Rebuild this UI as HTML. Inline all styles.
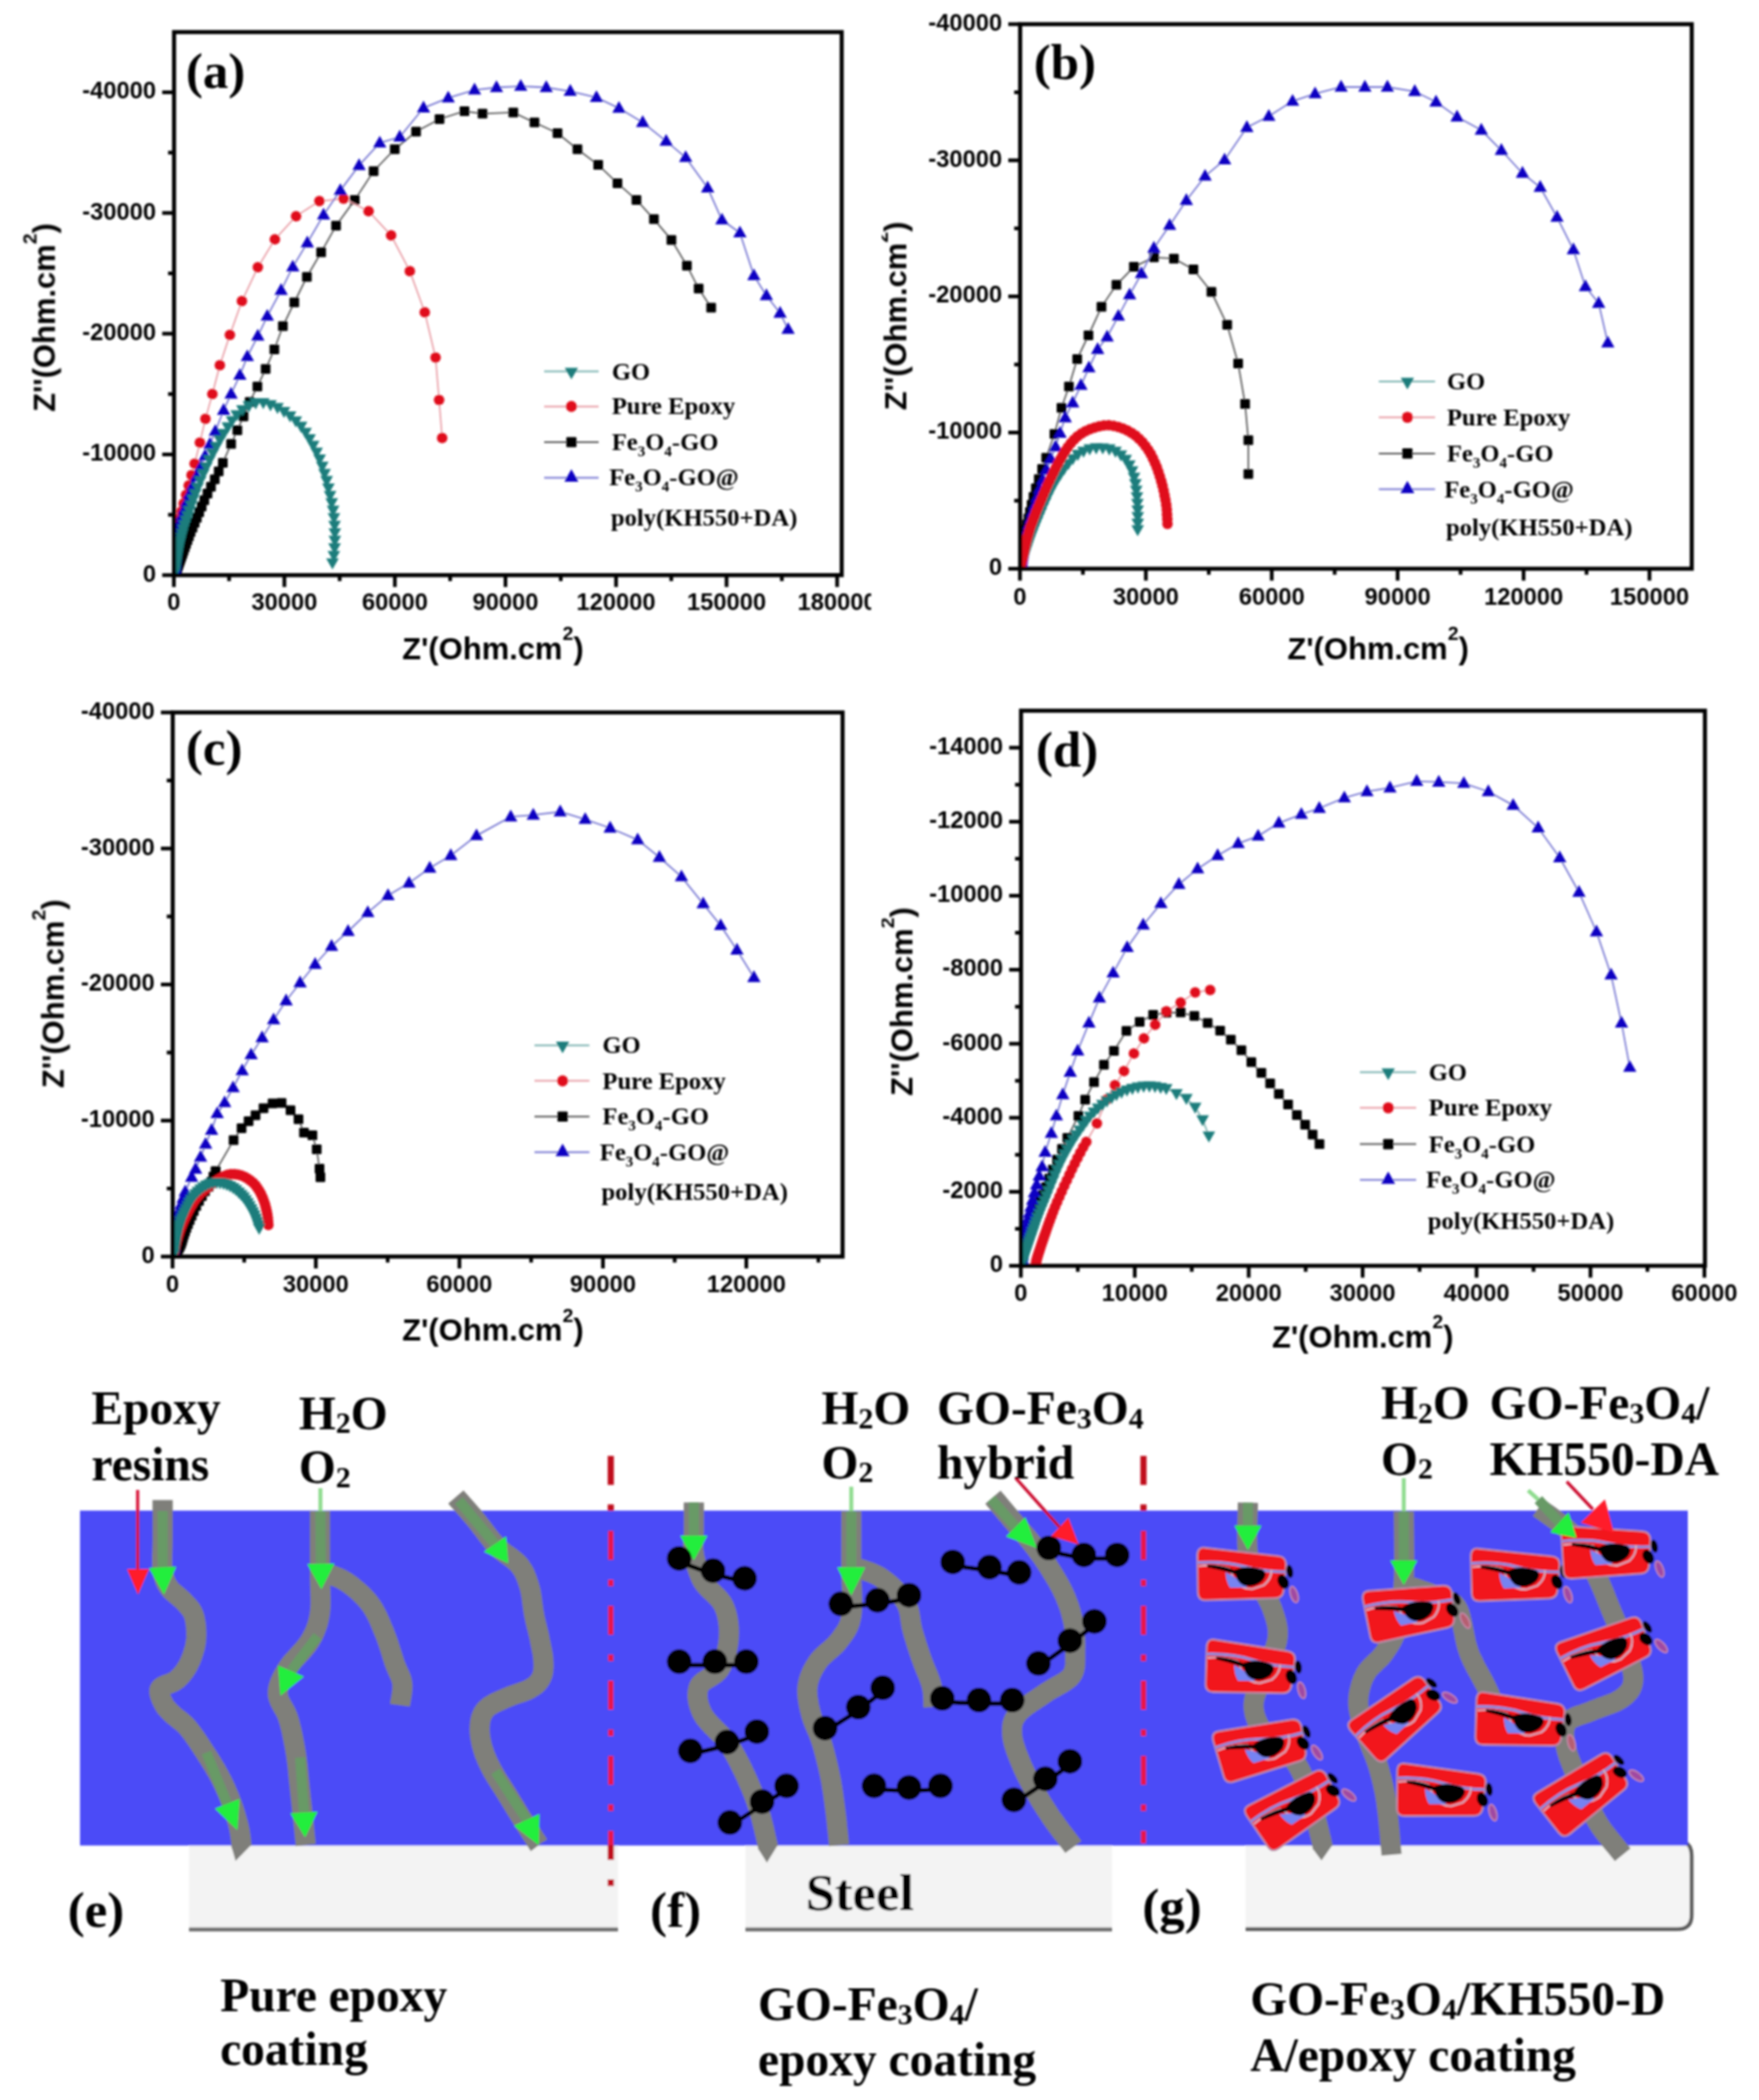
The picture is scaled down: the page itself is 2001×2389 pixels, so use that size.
<!DOCTYPE html><html><head><meta charset="utf-8"><title>Figure</title><style>html,body{margin:0;padding:0;background:#fff}svg{display:block}</style></head><body><svg width="2001" height="2389" viewBox="0 0 2001 2389">
<defs><clipPath id="clipA"><rect x="0" y="0" width="991" height="790"/></clipPath><clipPath id="clipB"><rect x="1003" y="0" width="998" height="790"/></clipPath><clipPath id="clipD"><rect x="1003" y="790" width="998" height="770"/></clipPath><filter id="soft" x="-2%" y="-2%" width="104%" height="104%"><feGaussianBlur stdDeviation="0.9"/></filter></defs>
<rect width="2001" height="2389" fill="#fff"/>
<g filter="url(#soft)">
<g clip-path="url(#clipA)">
<clipPath id="pca"><rect x="197" y="36.5" width="760.5" height="619.3"/></clipPath>
<g clip-path="url(#pca)">
<path d="M199.5 652.5L200.2 650.6L200.9 648.6L201.6 646.4L202.5 644.1L203.3 641.7L204.3 639L205.3 636.2L206.4 633.2L207.6 629.9L208.8 626.5L210.2 622.8L211.6 618.8L213.2 614.6L214.9 610.1L216.8 605.3L219 600.3L221.4 594.8L223.9 589.1L226.6 582.8L229.4 576.2L232.4 569.1L236 561.6L240 553.7L244.3 545.2L248.8 536.2L253.5 526.4L262.9 505.1L270 489.4L277 473.8L284 457.3L292.8 439.7L302.2 419.8L312.1 397.5L321.8 371L334.8 344L349.1 315L365.3 287.1L382.3 256.7L403.6 227.4L425 194.7L449.1 169.7L473.3 149.8L500 135.5L528.4 126.5L548.9 129.3L583.9 127.9L608 139.3L634.2 151.5L656.9 169.7L680.5 187.6L702.4 208.4L724 227.4L743.9 249.3L763.8 272.9L781.4 302.2L794.8 328.3L809 350" fill="none" stroke="#5e5e5e" stroke-width="1.8"/>
<g><rect x="194" y="647" width="11" height="11" rx="1.2" fill="#050505"/><rect x="194.7" y="645.1" width="11" height="11" rx="1.2" fill="#050505"/><rect x="195.4" y="643.1" width="11" height="11" rx="1.2" fill="#050505"/><rect x="196.1" y="640.9" width="11" height="11" rx="1.2" fill="#050505"/><rect x="197" y="638.6" width="11" height="11" rx="1.2" fill="#050505"/><rect x="197.8" y="636.2" width="11" height="11" rx="1.2" fill="#050505"/><rect x="198.8" y="633.5" width="11" height="11" rx="1.2" fill="#050505"/><rect x="199.8" y="630.7" width="11" height="11" rx="1.2" fill="#050505"/><rect x="200.9" y="627.7" width="11" height="11" rx="1.2" fill="#050505"/><rect x="202.1" y="624.4" width="11" height="11" rx="1.2" fill="#050505"/><rect x="203.3" y="621" width="11" height="11" rx="1.2" fill="#050505"/><rect x="204.7" y="617.3" width="11" height="11" rx="1.2" fill="#050505"/><rect x="206.1" y="613.3" width="11" height="11" rx="1.2" fill="#050505"/><rect x="207.7" y="609.1" width="11" height="11" rx="1.2" fill="#050505"/><rect x="209.4" y="604.6" width="11" height="11" rx="1.2" fill="#050505"/><rect x="211.3" y="599.8" width="11" height="11" rx="1.2" fill="#050505"/><rect x="213.5" y="594.8" width="11" height="11" rx="1.2" fill="#050505"/><rect x="215.9" y="589.3" width="11" height="11" rx="1.2" fill="#050505"/><rect x="218.4" y="583.6" width="11" height="11" rx="1.2" fill="#050505"/><rect x="221.1" y="577.3" width="11" height="11" rx="1.2" fill="#050505"/><rect x="223.9" y="570.7" width="11" height="11" rx="1.2" fill="#050505"/><rect x="226.9" y="563.6" width="11" height="11" rx="1.2" fill="#050505"/><rect x="230.5" y="556.1" width="11" height="11" rx="1.2" fill="#050505"/><rect x="234.5" y="548.2" width="11" height="11" rx="1.2" fill="#050505"/><rect x="238.8" y="539.7" width="11" height="11" rx="1.2" fill="#050505"/><rect x="243.3" y="530.7" width="11" height="11" rx="1.2" fill="#050505"/><rect x="248" y="520.9" width="11" height="11" rx="1.2" fill="#050505"/><rect x="257.4" y="499.6" width="11" height="11" rx="1.2" fill="#050505"/><rect x="264.5" y="483.9" width="11" height="11" rx="1.2" fill="#050505"/><rect x="271.5" y="468.3" width="11" height="11" rx="1.2" fill="#050505"/><rect x="278.5" y="451.8" width="11" height="11" rx="1.2" fill="#050505"/><rect x="287.3" y="434.2" width="11" height="11" rx="1.2" fill="#050505"/><rect x="296.7" y="414.3" width="11" height="11" rx="1.2" fill="#050505"/><rect x="306.6" y="392" width="11" height="11" rx="1.2" fill="#050505"/><rect x="316.3" y="365.5" width="11" height="11" rx="1.2" fill="#050505"/><rect x="329.3" y="338.5" width="11" height="11" rx="1.2" fill="#050505"/><rect x="343.6" y="309.5" width="11" height="11" rx="1.2" fill="#050505"/><rect x="359.8" y="281.6" width="11" height="11" rx="1.2" fill="#050505"/><rect x="376.8" y="251.2" width="11" height="11" rx="1.2" fill="#050505"/><rect x="398.1" y="221.9" width="11" height="11" rx="1.2" fill="#050505"/><rect x="419.5" y="189.2" width="11" height="11" rx="1.2" fill="#050505"/><rect x="443.6" y="164.2" width="11" height="11" rx="1.2" fill="#050505"/><rect x="467.8" y="144.3" width="11" height="11" rx="1.2" fill="#050505"/><rect x="494.5" y="130" width="11" height="11" rx="1.2" fill="#050505"/><rect x="522.9" y="121" width="11" height="11" rx="1.2" fill="#050505"/><rect x="543.4" y="123.8" width="11" height="11" rx="1.2" fill="#050505"/><rect x="578.4" y="122.4" width="11" height="11" rx="1.2" fill="#050505"/><rect x="602.5" y="133.8" width="11" height="11" rx="1.2" fill="#050505"/><rect x="628.7" y="146" width="11" height="11" rx="1.2" fill="#050505"/><rect x="651.4" y="164.2" width="11" height="11" rx="1.2" fill="#050505"/><rect x="675" y="182.1" width="11" height="11" rx="1.2" fill="#050505"/><rect x="696.9" y="202.9" width="11" height="11" rx="1.2" fill="#050505"/><rect x="718.5" y="221.9" width="11" height="11" rx="1.2" fill="#050505"/><rect x="738.4" y="243.8" width="11" height="11" rx="1.2" fill="#050505"/><rect x="758.3" y="267.4" width="11" height="11" rx="1.2" fill="#050505"/><rect x="775.9" y="296.7" width="11" height="11" rx="1.2" fill="#050505"/><rect x="789.3" y="322.8" width="11" height="11" rx="1.2" fill="#050505"/><rect x="803.5" y="344.5" width="11" height="11" rx="1.2" fill="#050505"/></g>
<path d="M198.1 652.9L198.2 650.9L198.3 648.7L198.5 646.3L198.6 643.6L198.7 640.7L198.9 637.5L199.1 634L199.3 630.1L199.6 625.8L199.9 621.1L200.4 615.9L201.1 610.2L202 604L203.3 597.3L204.8 589.8L206.6 581.7L208.9 572.8L211.6 563L214.7 552.3L217.9 540.5L221.4 527.5L227.4 503.6L233.7 476.6L241.6 448.2L250.1 415.5L261.5 381L275.2 342.5L293.3 304.1L312.7 272.3L336.8 245.9L363.3 228.8L390.8 226L419.3 240.2L444.9 267.8L466.2 308.4L483.2 355.3L495.5 406.8L499.5 455L503 498.3" fill="none" stroke="#eaa0a8" stroke-width="1.8"/>
<g><circle cx="198.1" cy="652.9" r="6" fill="#e0101e"/><circle cx="198.2" cy="650.9" r="6" fill="#e0101e"/><circle cx="198.3" cy="648.7" r="6" fill="#e0101e"/><circle cx="198.5" cy="646.3" r="6" fill="#e0101e"/><circle cx="198.6" cy="643.6" r="6" fill="#e0101e"/><circle cx="198.7" cy="640.7" r="6" fill="#e0101e"/><circle cx="198.9" cy="637.5" r="6" fill="#e0101e"/><circle cx="199.1" cy="634" r="6" fill="#e0101e"/><circle cx="199.3" cy="630.1" r="6" fill="#e0101e"/><circle cx="199.6" cy="625.8" r="6" fill="#e0101e"/><circle cx="199.9" cy="621.1" r="6" fill="#e0101e"/><circle cx="200.4" cy="615.9" r="6" fill="#e0101e"/><circle cx="201.1" cy="610.2" r="6" fill="#e0101e"/><circle cx="202" cy="604" r="6" fill="#e0101e"/><circle cx="203.3" cy="597.3" r="6" fill="#e0101e"/><circle cx="204.8" cy="589.8" r="6" fill="#e0101e"/><circle cx="206.6" cy="581.7" r="6" fill="#e0101e"/><circle cx="208.9" cy="572.8" r="6" fill="#e0101e"/><circle cx="211.6" cy="563" r="6" fill="#e0101e"/><circle cx="214.7" cy="552.3" r="6" fill="#e0101e"/><circle cx="217.9" cy="540.5" r="6" fill="#e0101e"/><circle cx="221.4" cy="527.5" r="6" fill="#e0101e"/><circle cx="227.4" cy="503.6" r="6" fill="#e0101e"/><circle cx="233.7" cy="476.6" r="6" fill="#e0101e"/><circle cx="241.6" cy="448.2" r="6" fill="#e0101e"/><circle cx="250.1" cy="415.5" r="6" fill="#e0101e"/><circle cx="261.5" cy="381" r="6" fill="#e0101e"/><circle cx="275.2" cy="342.5" r="6" fill="#e0101e"/><circle cx="293.3" cy="304.1" r="6" fill="#e0101e"/><circle cx="312.7" cy="272.3" r="6" fill="#e0101e"/><circle cx="336.8" cy="245.9" r="6" fill="#e0101e"/><circle cx="363.3" cy="228.8" r="6" fill="#e0101e"/><circle cx="390.8" cy="226" r="6" fill="#e0101e"/><circle cx="419.3" cy="240.2" r="6" fill="#e0101e"/><circle cx="444.9" cy="267.8" r="6" fill="#e0101e"/><circle cx="466.2" cy="308.4" r="6" fill="#e0101e"/><circle cx="483.2" cy="355.3" r="6" fill="#e0101e"/><circle cx="495.5" cy="406.8" r="6" fill="#e0101e"/><circle cx="499.5" cy="455" r="6" fill="#e0101e"/><circle cx="503" cy="498.3" r="6" fill="#e0101e"/></g>
<path d="M198.3 652L198.4 650L198.5 647.8L198.7 645.5L198.8 642.9L199 640.1L199.2 637L199.4 633.6L199.6 630L200 626L200.4 621.7L201 617L201.7 611.9L202.6 606.3L203.7 600.3L205.3 593.8L207.3 586.8L209.8 579.3L212.5 571.1L215.6 562.1L219.3 552.5L223.6 542.2L228.4 531L233.4 518.6L238.9 505.2L245 490.6L254.4 466.7L262.9 448.2L272.9 426.9L281.4 405.6L293.3 382.3L304.1 359.6L319.8 330.3L333.1 303.6L349.6 276.3L368.1 244.5L387.2 216.6L408.5 188.2L432 162.6L454.8 155.8L481.8 122.8L509.9 111.4L539.8 102.3L564.8 99.5L592.4 98.1L621.4 99.5L648.7 103.8L678.5 110.9L704.1 123.1L731.1 139.3L757.8 160.6L780 179.1L805 213.8L821.2 250.1L841.7 264.9L857.6 313.5L871.8 336.3L887.4 356.2L896.5 374.6" fill="none" stroke="#7c7cd4" stroke-width="1.8"/>
<g><path d="M198.3 643.8L205.9 657.2L190.7 657.2Z" fill="#1006c2"/><path d="M198.4 641.8L206 655.2L190.8 655.2Z" fill="#1006c2"/><path d="M198.5 639.6L206.1 653L190.9 653Z" fill="#1006c2"/><path d="M198.7 637.3L206.3 650.7L191.1 650.7Z" fill="#1006c2"/><path d="M198.8 634.7L206.4 648.1L191.2 648.1Z" fill="#1006c2"/><path d="M199 631.9L206.6 645.3L191.4 645.3Z" fill="#1006c2"/><path d="M199.2 628.8L206.8 642.2L191.6 642.2Z" fill="#1006c2"/><path d="M199.4 625.4L207 638.8L191.8 638.8Z" fill="#1006c2"/><path d="M199.6 621.8L207.2 635.2L192 635.2Z" fill="#1006c2"/><path d="M200 617.8L207.6 631.2L192.4 631.2Z" fill="#1006c2"/><path d="M200.4 613.5L208 626.9L192.8 626.9Z" fill="#1006c2"/><path d="M201 608.8L208.6 622.2L193.4 622.2Z" fill="#1006c2"/><path d="M201.7 603.7L209.3 617.1L194.1 617.1Z" fill="#1006c2"/><path d="M202.6 598.1L210.2 611.5L195 611.5Z" fill="#1006c2"/><path d="M203.7 592.1L211.3 605.5L196.1 605.5Z" fill="#1006c2"/><path d="M205.3 585.6L212.9 599L197.7 599Z" fill="#1006c2"/><path d="M207.3 578.6L214.9 592L199.7 592Z" fill="#1006c2"/><path d="M209.8 571.1L217.4 584.5L202.2 584.5Z" fill="#1006c2"/><path d="M212.5 562.9L220.1 576.3L204.9 576.3Z" fill="#1006c2"/><path d="M215.6 553.9L223.2 567.3L208 567.3Z" fill="#1006c2"/><path d="M219.3 544.3L226.9 557.7L211.7 557.7Z" fill="#1006c2"/><path d="M223.6 534L231.2 547.4L216 547.4Z" fill="#1006c2"/><path d="M228.4 522.8L236 536.2L220.8 536.2Z" fill="#1006c2"/><path d="M233.4 510.4L241 523.8L225.8 523.8Z" fill="#1006c2"/><path d="M238.9 497L246.5 510.4L231.3 510.4Z" fill="#1006c2"/><path d="M245 482.4L252.6 495.8L237.4 495.8Z" fill="#1006c2"/><path d="M254.4 458.5L262 471.9L246.8 471.9Z" fill="#1006c2"/><path d="M262.9 440L270.5 453.4L255.3 453.4Z" fill="#1006c2"/><path d="M272.9 418.7L280.5 432.1L265.3 432.1Z" fill="#1006c2"/><path d="M281.4 397.4L289 410.8L273.8 410.8Z" fill="#1006c2"/><path d="M293.3 374.1L300.9 387.5L285.7 387.5Z" fill="#1006c2"/><path d="M304.1 351.4L311.7 364.8L296.5 364.8Z" fill="#1006c2"/><path d="M319.8 322.1L327.4 335.5L312.2 335.5Z" fill="#1006c2"/><path d="M333.1 295.4L340.7 308.8L325.5 308.8Z" fill="#1006c2"/><path d="M349.6 268.1L357.2 281.5L342 281.5Z" fill="#1006c2"/><path d="M368.1 236.3L375.7 249.7L360.5 249.7Z" fill="#1006c2"/><path d="M387.2 208.4L394.8 221.8L379.6 221.8Z" fill="#1006c2"/><path d="M408.5 180L416.1 193.4L400.9 193.4Z" fill="#1006c2"/><path d="M432 154.4L439.6 167.8L424.4 167.8Z" fill="#1006c2"/><path d="M454.8 147.6L462.4 161L447.2 161Z" fill="#1006c2"/><path d="M481.8 114.6L489.4 128L474.2 128Z" fill="#1006c2"/><path d="M509.9 103.2L517.5 116.6L502.3 116.6Z" fill="#1006c2"/><path d="M539.8 94.1L547.4 107.5L532.2 107.5Z" fill="#1006c2"/><path d="M564.8 91.3L572.4 104.7L557.2 104.7Z" fill="#1006c2"/><path d="M592.4 89.9L600 103.3L584.8 103.3Z" fill="#1006c2"/><path d="M621.4 91.3L629 104.7L613.8 104.7Z" fill="#1006c2"/><path d="M648.7 95.6L656.3 109L641.1 109Z" fill="#1006c2"/><path d="M678.5 102.7L686.1 116.1L670.9 116.1Z" fill="#1006c2"/><path d="M704.1 114.9L711.7 128.3L696.5 128.3Z" fill="#1006c2"/><path d="M731.1 131.1L738.7 144.5L723.5 144.5Z" fill="#1006c2"/><path d="M757.8 152.4L765.4 165.8L750.2 165.8Z" fill="#1006c2"/><path d="M780 170.9L787.6 184.3L772.4 184.3Z" fill="#1006c2"/><path d="M805 205.6L812.6 219L797.4 219Z" fill="#1006c2"/><path d="M821.2 241.9L828.8 255.3L813.6 255.3Z" fill="#1006c2"/><path d="M841.7 256.7L849.3 270.1L834.1 270.1Z" fill="#1006c2"/><path d="M857.6 305.3L865.2 318.7L850 318.7Z" fill="#1006c2"/><path d="M871.8 328.1L879.4 341.5L864.2 341.5Z" fill="#1006c2"/><path d="M887.4 348L895 361.4L879.8 361.4Z" fill="#1006c2"/><path d="M896.5 366.4L904.1 379.8L888.9 379.8Z" fill="#1006c2"/></g>
<path d="M198 652L198.3 650L198.7 647.9L199.1 645.7L199.5 643.4L199.9 640.9L200.3 638.2L200.8 635.4L201.3 632.5L201.9 629.4L202.5 626L203.2 622.5L204.1 618.8L205 614.9L206.1 610.8L207.3 606.4L208.6 601.8L210.1 597L211.8 591.8L213.5 586.4L215.4 580.7L217.5 574.6L219.7 568.1L222.1 561.4L224.8 554.2L227.8 546.7L231.2 538.8L234.7 530.9L238.3 523.1L242.1 515.4L246.1 507.8L250.2 500.3L254.6 492.9L259.2 485.6L264 478.5L269.3 471.7L275.8 466L283.1 461.6L290.9 458.1L299.5 457.9L307.7 460.3L315.7 463.5L323.1 467.9L330 473L336.5 478.7L342.5 484.8L347.6 491.7L352.1 499.1L356.3 506.6L360.2 514.2L363.6 522.1L366.6 530.2L369.2 538.4L371.6 546.6L373.6 555L375.5 563.4L377.3 571.8L378.9 580.3L379.9 588.8L380.6 597.4L380.9 606L380.9 614.6L380.6 623.1L379.8 631.7L378.2 640.2" fill="none" stroke="#7fb5b3" stroke-width="1.8"/>
<g><path d="M198 659.6L205.2 647L190.8 647Z" fill="#1b7d7b"/><path d="M198.3 657.6L205.5 645L191.1 645Z" fill="#1b7d7b"/><path d="M198.7 655.5L205.9 642.9L191.5 642.9Z" fill="#1b7d7b"/><path d="M199.1 653.3L206.3 640.7L191.9 640.7Z" fill="#1b7d7b"/><path d="M199.5 651L206.7 638.4L192.3 638.4Z" fill="#1b7d7b"/><path d="M199.9 648.5L207.1 635.9L192.7 635.9Z" fill="#1b7d7b"/><path d="M200.3 645.8L207.5 633.2L193.1 633.2Z" fill="#1b7d7b"/><path d="M200.8 643L208 630.4L193.6 630.4Z" fill="#1b7d7b"/><path d="M201.3 640.1L208.5 627.5L194.1 627.5Z" fill="#1b7d7b"/><path d="M201.9 637L209.1 624.4L194.7 624.4Z" fill="#1b7d7b"/><path d="M202.5 633.6L209.7 621L195.3 621Z" fill="#1b7d7b"/><path d="M203.2 630.1L210.4 617.5L196 617.5Z" fill="#1b7d7b"/><path d="M204.1 626.4L211.3 613.8L196.9 613.8Z" fill="#1b7d7b"/><path d="M205 622.5L212.2 609.9L197.8 609.9Z" fill="#1b7d7b"/><path d="M206.1 618.4L213.3 605.8L198.9 605.8Z" fill="#1b7d7b"/><path d="M207.3 614L214.5 601.4L200.1 601.4Z" fill="#1b7d7b"/><path d="M208.6 609.4L215.8 596.8L201.4 596.8Z" fill="#1b7d7b"/><path d="M210.1 604.6L217.3 592L202.9 592Z" fill="#1b7d7b"/><path d="M211.8 599.4L219 586.8L204.6 586.8Z" fill="#1b7d7b"/><path d="M213.5 594L220.7 581.4L206.3 581.4Z" fill="#1b7d7b"/><path d="M215.4 588.3L222.6 575.7L208.2 575.7Z" fill="#1b7d7b"/><path d="M217.5 582.2L224.7 569.6L210.3 569.6Z" fill="#1b7d7b"/><path d="M219.7 575.7L226.9 563.1L212.5 563.1Z" fill="#1b7d7b"/><path d="M222.1 569L229.3 556.4L214.9 556.4Z" fill="#1b7d7b"/><path d="M224.8 561.8L232 549.2L217.6 549.2Z" fill="#1b7d7b"/><path d="M227.8 554.3L235 541.7L220.6 541.7Z" fill="#1b7d7b"/><path d="M231.2 546.4L238.4 533.8L224 533.8Z" fill="#1b7d7b"/><path d="M234.7 538.5L241.9 525.9L227.5 525.9Z" fill="#1b7d7b"/><path d="M238.3 530.7L245.5 518.1L231.1 518.1Z" fill="#1b7d7b"/><path d="M242.1 523L249.3 510.4L234.9 510.4Z" fill="#1b7d7b"/><path d="M246.1 515.4L253.3 502.8L238.9 502.8Z" fill="#1b7d7b"/><path d="M250.2 507.9L257.4 495.3L243 495.3Z" fill="#1b7d7b"/><path d="M254.6 500.5L261.8 487.9L247.4 487.9Z" fill="#1b7d7b"/><path d="M259.2 493.2L266.4 480.6L252 480.6Z" fill="#1b7d7b"/><path d="M264 486.1L271.2 473.5L256.8 473.5Z" fill="#1b7d7b"/><path d="M269.3 479.3L276.5 466.7L262.1 466.7Z" fill="#1b7d7b"/><path d="M275.8 473.6L283 461L268.6 461Z" fill="#1b7d7b"/><path d="M283.1 469.2L290.3 456.6L275.9 456.6Z" fill="#1b7d7b"/><path d="M290.9 465.7L298.1 453.1L283.7 453.1Z" fill="#1b7d7b"/><path d="M299.5 465.5L306.7 452.9L292.3 452.9Z" fill="#1b7d7b"/><path d="M307.7 467.9L314.9 455.3L300.5 455.3Z" fill="#1b7d7b"/><path d="M315.7 471.1L322.9 458.5L308.5 458.5Z" fill="#1b7d7b"/><path d="M323.1 475.5L330.3 462.9L315.9 462.9Z" fill="#1b7d7b"/><path d="M330 480.6L337.2 468L322.8 468Z" fill="#1b7d7b"/><path d="M336.5 486.3L343.7 473.7L329.3 473.7Z" fill="#1b7d7b"/><path d="M342.5 492.4L349.7 479.8L335.3 479.8Z" fill="#1b7d7b"/><path d="M347.6 499.3L354.8 486.7L340.4 486.7Z" fill="#1b7d7b"/><path d="M352.1 506.7L359.3 494.1L344.9 494.1Z" fill="#1b7d7b"/><path d="M356.3 514.2L363.5 501.6L349.1 501.6Z" fill="#1b7d7b"/><path d="M360.2 521.8L367.4 509.2L353 509.2Z" fill="#1b7d7b"/><path d="M363.6 529.7L370.8 517.1L356.4 517.1Z" fill="#1b7d7b"/><path d="M366.6 537.8L373.8 525.2L359.4 525.2Z" fill="#1b7d7b"/><path d="M369.2 546L376.4 533.4L362 533.4Z" fill="#1b7d7b"/><path d="M371.6 554.2L378.8 541.6L364.4 541.6Z" fill="#1b7d7b"/><path d="M373.6 562.6L380.8 550L366.4 550Z" fill="#1b7d7b"/><path d="M375.5 571L382.7 558.4L368.3 558.4Z" fill="#1b7d7b"/><path d="M377.3 579.4L384.5 566.8L370.1 566.8Z" fill="#1b7d7b"/><path d="M378.9 587.9L386.1 575.3L371.7 575.3Z" fill="#1b7d7b"/><path d="M379.9 596.4L387.1 583.8L372.7 583.8Z" fill="#1b7d7b"/><path d="M380.6 605L387.8 592.4L373.4 592.4Z" fill="#1b7d7b"/><path d="M380.9 613.6L388.1 601L373.7 601Z" fill="#1b7d7b"/><path d="M380.9 622.2L388.1 609.6L373.7 609.6Z" fill="#1b7d7b"/><path d="M380.6 630.7L387.8 618.1L373.4 618.1Z" fill="#1b7d7b"/><path d="M379.8 639.3L387 626.7L372.6 626.7Z" fill="#1b7d7b"/><path d="M378.2 647.8L385.4 635.2L371 635.2Z" fill="#1b7d7b"/></g>
</g>
<rect x="198" y="36.5" width="759.5" height="617.8" fill="none" stroke="#000" stroke-width="4.6"/>
<line x1="184.5" y1="105" x2="198" y2="105" stroke="#000" stroke-width="4.2"/>
<text x="177.5" y="112.2" font-family='"Liberation Sans", sans-serif' font-size="27" font-weight="bold" text-anchor="end" >-40000</text>
<line x1="184.5" y1="242.3" x2="198" y2="242.3" stroke="#000" stroke-width="4.2"/>
<text x="177.5" y="249.5" font-family='"Liberation Sans", sans-serif' font-size="27" font-weight="bold" text-anchor="end" >-30000</text>
<line x1="184.5" y1="379.6" x2="198" y2="379.6" stroke="#000" stroke-width="4.2"/>
<text x="177.5" y="386.8" font-family='"Liberation Sans", sans-serif' font-size="27" font-weight="bold" text-anchor="end" >-20000</text>
<line x1="184.5" y1="517" x2="198" y2="517" stroke="#000" stroke-width="4.2"/>
<text x="177.5" y="524.2" font-family='"Liberation Sans", sans-serif' font-size="27" font-weight="bold" text-anchor="end" >-10000</text>
<line x1="184.5" y1="654.3" x2="198" y2="654.3" stroke="#000" stroke-width="4.2"/>
<text x="177.5" y="661.5" font-family='"Liberation Sans", sans-serif' font-size="27" font-weight="bold" text-anchor="end" >0</text>
<line x1="191.2" y1="173.6" x2="198" y2="173.6" stroke="#000" stroke-width="4.2"/>
<line x1="191.2" y1="311" x2="198" y2="311" stroke="#000" stroke-width="4.2"/>
<line x1="191.2" y1="448.3" x2="198" y2="448.3" stroke="#000" stroke-width="4.2"/>
<line x1="191.2" y1="585.6" x2="198" y2="585.6" stroke="#000" stroke-width="4.2"/>
<line x1="197.8" y1="654.3" x2="197.8" y2="667.8" stroke="#000" stroke-width="4.2"/>
<text x="197.8" y="693.7" font-family='"Liberation Sans", sans-serif' font-size="27" font-weight="bold" text-anchor="middle" >0</text>
<line x1="323.5" y1="654.3" x2="323.5" y2="667.8" stroke="#000" stroke-width="4.2"/>
<text x="323.5" y="693.7" font-family='"Liberation Sans", sans-serif' font-size="27" font-weight="bold" text-anchor="middle" >30000</text>
<line x1="449.2" y1="654.3" x2="449.2" y2="667.8" stroke="#000" stroke-width="4.2"/>
<text x="449.2" y="693.7" font-family='"Liberation Sans", sans-serif' font-size="27" font-weight="bold" text-anchor="middle" >60000</text>
<line x1="575" y1="654.3" x2="575" y2="667.8" stroke="#000" stroke-width="4.2"/>
<text x="575" y="693.7" font-family='"Liberation Sans", sans-serif' font-size="27" font-weight="bold" text-anchor="middle" >90000</text>
<line x1="700.8" y1="654.3" x2="700.8" y2="667.8" stroke="#000" stroke-width="4.2"/>
<text x="700.8" y="693.7" font-family='"Liberation Sans", sans-serif' font-size="27" font-weight="bold" text-anchor="middle" >120000</text>
<line x1="826.5" y1="654.3" x2="826.5" y2="667.8" stroke="#000" stroke-width="4.2"/>
<text x="826.5" y="693.7" font-family='"Liberation Sans", sans-serif' font-size="27" font-weight="bold" text-anchor="middle" >150000</text>
<line x1="952.3" y1="654.3" x2="952.3" y2="667.8" stroke="#000" stroke-width="4.2"/>
<text x="952.3" y="693.7" font-family='"Liberation Sans", sans-serif' font-size="27" font-weight="bold" text-anchor="middle" >180000</text>
<line x1="260.6" y1="654.3" x2="260.6" y2="661.1" stroke="#000" stroke-width="4.2"/>
<line x1="386.4" y1="654.3" x2="386.4" y2="661.1" stroke="#000" stroke-width="4.2"/>
<line x1="512.1" y1="654.3" x2="512.1" y2="661.1" stroke="#000" stroke-width="4.2"/>
<line x1="637.9" y1="654.3" x2="637.9" y2="661.1" stroke="#000" stroke-width="4.2"/>
<line x1="763.6" y1="654.3" x2="763.6" y2="661.1" stroke="#000" stroke-width="4.2"/>
<line x1="889.4" y1="654.3" x2="889.4" y2="661.1" stroke="#000" stroke-width="4.2"/>
<text x="457.5" y="749.5" font-family='"Liberation Sans", sans-serif' font-size="35.2" font-weight="bold" text-anchor="start" >Z'(Ohm.cm<tspan font-size="22" dy="-21.5">2</tspan><tspan dy="21.5">)</tspan></text>
<g transform="translate(62.5 361.3) rotate(-90)">
<text x="0" y="0" font-family='"Liberation Sans", sans-serif' font-size="35.2" font-weight="bold" text-anchor="middle" >Z''(Ohm.cm<tspan font-size="22" dy="-21.5">2</tspan><tspan dy="21.5">)</tspan></text>
</g>
<text x="211.5" y="100" font-family='"Liberation Serif", serif' font-size="58" font-weight="bold" text-anchor="start" >(a)</text>
<line x1="619" y1="422.6" x2="681" y2="422.6" stroke="#7fb5b3" stroke-width="2"/>
<path d="M650 431.6L657.6 418.4L642.4 418.4Z" fill="#1b7d7b"/>
<text x="696" y="431.6" font-family='"Liberation Serif", serif' font-size="28" font-weight="bold" text-anchor="start" >GO</text>
<line x1="619" y1="462.4" x2="681" y2="462.4" stroke="#eaa0a8" stroke-width="2"/>
<circle cx="650" cy="462.4" r="6.3" fill="#e0101e"/>
<text x="696" y="471.4" font-family='"Liberation Serif", serif' font-size="28" font-weight="bold" text-anchor="start" >Pure Epoxy</text>
<line x1="619" y1="503" x2="681" y2="503" stroke="#5e5e5e" stroke-width="2"/>
<rect x="644.2" y="497.2" width="11.6" height="11.6" rx="1.2" fill="#050505"/>
<text x="696" y="512" font-family='"Liberation Serif", serif' font-size="28" font-weight="bold" text-anchor="start" >Fe<tspan font-size="17" dy="7">3</tspan><tspan dy="-7">O</tspan><tspan font-size="17" dy="7">4</tspan><tspan dy="-7">-GO</tspan></text>
<line x1="619" y1="543.4" x2="681" y2="543.4" stroke="#7c7cd4" stroke-width="2"/>
<path d="M650 533.8L658 547.9L642 547.9Z" fill="#1006c2"/>
<text x="693" y="552.4" font-family='"Liberation Serif", serif' font-size="28" font-weight="bold" text-anchor="start" >Fe<tspan font-size="17" dy="7">3</tspan><tspan dy="-7">O</tspan><tspan font-size="17" dy="7">4</tspan><tspan dy="-7">-GO@</tspan></text>
<text x="695" y="597.5" font-family='"Liberation Serif", serif' font-size="28" font-weight="bold" text-anchor="start" >poly(KH550+DA)</text>
</g>
<g clip-path="url(#clipB)">
<clipPath id="pcb"><rect x="1159.5" y="27.5" width="765" height="621"/></clipPath>
<g clip-path="url(#pcb)">
<path d="M1161 645L1161.3 643L1161.5 640.8L1161.8 638.4L1162.1 635.8L1162.5 632.9L1162.9 629.7L1163.4 626.2L1163.9 622.3L1164.5 618.1L1165.3 613.4L1166.2 608.3L1167.3 602.7L1168.5 596.6L1169.9 589.8L1171.6 582.4L1173.5 574.3L1175.7 565.3L1178.4 555.6L1181.7 545L1185.5 533.4L1190.1 520.7L1199.5 493.7L1207.5 463.9L1216 439.7L1225.4 408.4L1238.2 381.5L1253 349.1L1270 324L1289.9 303.6L1312.7 292.8L1335.4 294.2L1357.6 306.4L1378.1 332L1396 369.5L1408.5 413.5L1416.4 459.6L1420.1 500.8L1420.1 539.2" fill="none" stroke="#5e5e5e" stroke-width="1.8"/>
<g><rect x="1155.5" y="639.5" width="11" height="11" rx="1.2" fill="#050505"/><rect x="1155.8" y="637.5" width="11" height="11" rx="1.2" fill="#050505"/><rect x="1156" y="635.3" width="11" height="11" rx="1.2" fill="#050505"/><rect x="1156.3" y="632.9" width="11" height="11" rx="1.2" fill="#050505"/><rect x="1156.6" y="630.3" width="11" height="11" rx="1.2" fill="#050505"/><rect x="1157" y="627.4" width="11" height="11" rx="1.2" fill="#050505"/><rect x="1157.4" y="624.2" width="11" height="11" rx="1.2" fill="#050505"/><rect x="1157.9" y="620.7" width="11" height="11" rx="1.2" fill="#050505"/><rect x="1158.4" y="616.8" width="11" height="11" rx="1.2" fill="#050505"/><rect x="1159" y="612.6" width="11" height="11" rx="1.2" fill="#050505"/><rect x="1159.8" y="607.9" width="11" height="11" rx="1.2" fill="#050505"/><rect x="1160.7" y="602.8" width="11" height="11" rx="1.2" fill="#050505"/><rect x="1161.8" y="597.2" width="11" height="11" rx="1.2" fill="#050505"/><rect x="1163" y="591.1" width="11" height="11" rx="1.2" fill="#050505"/><rect x="1164.4" y="584.3" width="11" height="11" rx="1.2" fill="#050505"/><rect x="1166.1" y="576.9" width="11" height="11" rx="1.2" fill="#050505"/><rect x="1168" y="568.8" width="11" height="11" rx="1.2" fill="#050505"/><rect x="1170.2" y="559.8" width="11" height="11" rx="1.2" fill="#050505"/><rect x="1172.9" y="550.1" width="11" height="11" rx="1.2" fill="#050505"/><rect x="1176.2" y="539.5" width="11" height="11" rx="1.2" fill="#050505"/><rect x="1180" y="527.9" width="11" height="11" rx="1.2" fill="#050505"/><rect x="1184.6" y="515.2" width="11" height="11" rx="1.2" fill="#050505"/><rect x="1194" y="488.2" width="11" height="11" rx="1.2" fill="#050505"/><rect x="1202" y="458.4" width="11" height="11" rx="1.2" fill="#050505"/><rect x="1210.5" y="434.2" width="11" height="11" rx="1.2" fill="#050505"/><rect x="1219.9" y="402.9" width="11" height="11" rx="1.2" fill="#050505"/><rect x="1232.7" y="376" width="11" height="11" rx="1.2" fill="#050505"/><rect x="1247.5" y="343.6" width="11" height="11" rx="1.2" fill="#050505"/><rect x="1264.5" y="318.5" width="11" height="11" rx="1.2" fill="#050505"/><rect x="1284.4" y="298.1" width="11" height="11" rx="1.2" fill="#050505"/><rect x="1307.2" y="287.3" width="11" height="11" rx="1.2" fill="#050505"/><rect x="1329.9" y="288.7" width="11" height="11" rx="1.2" fill="#050505"/><rect x="1352.1" y="300.9" width="11" height="11" rx="1.2" fill="#050505"/><rect x="1372.6" y="326.5" width="11" height="11" rx="1.2" fill="#050505"/><rect x="1390.5" y="364" width="11" height="11" rx="1.2" fill="#050505"/><rect x="1403" y="408" width="11" height="11" rx="1.2" fill="#050505"/><rect x="1410.9" y="454.1" width="11" height="11" rx="1.2" fill="#050505"/><rect x="1414.6" y="495.3" width="11" height="11" rx="1.2" fill="#050505"/><rect x="1414.6" y="533.7" width="11" height="11" rx="1.2" fill="#050505"/></g>
<path d="M1161 645L1161.3 643L1161.6 640.8L1162 638.5L1162.4 635.8L1162.8 632.9L1163.3 629.7L1163.9 626.3L1164.6 622.4L1165.4 618.2L1166.3 613.6L1167.5 608.5L1168.9 603L1170.6 596.9L1172.5 590.3L1174.6 583L1177 575L1179.7 566.2L1182.8 556.6L1186.4 546.1L1190.6 534.6L1195.3 522L1200.8 508.2L1205.9 492.8L1211.8 475.2L1220.3 458.2L1229.7 438.3L1238.8 418.4L1248.7 397.5L1259.5 383.2L1272.3 359.6L1285.1 335.4L1298.5 311.3L1312.7 282.3L1330.6 256.4L1349.6 228L1370.9 200.4L1393.1 181.9L1418.4 145L1443.4 132.2L1470.4 115.1L1496 106.6L1525.6 99L1552.7 99L1578.3 99L1609.4 104L1633.6 116L1657.5 133L1685.1 148L1707.9 171L1731.9 197L1752.1 213L1771.2 247L1789.8 284L1803.5 326L1818.6 345L1829 390" fill="none" stroke="#7c7cd4" stroke-width="1.8"/>
<g><path d="M1161 636.8L1168.6 650.2L1153.4 650.2Z" fill="#1006c2"/><path d="M1161.3 634.8L1168.9 648.2L1153.7 648.2Z" fill="#1006c2"/><path d="M1161.6 632.6L1169.2 646L1154 646Z" fill="#1006c2"/><path d="M1162 630.3L1169.6 643.7L1154.4 643.7Z" fill="#1006c2"/><path d="M1162.4 627.6L1170 641L1154.8 641Z" fill="#1006c2"/><path d="M1162.8 624.7L1170.4 638.1L1155.2 638.1Z" fill="#1006c2"/><path d="M1163.3 621.5L1170.9 634.9L1155.7 634.9Z" fill="#1006c2"/><path d="M1163.9 618.1L1171.5 631.5L1156.3 631.5Z" fill="#1006c2"/><path d="M1164.6 614.2L1172.2 627.6L1157 627.6Z" fill="#1006c2"/><path d="M1165.4 610L1173 623.4L1157.8 623.4Z" fill="#1006c2"/><path d="M1166.3 605.4L1173.9 618.8L1158.7 618.8Z" fill="#1006c2"/><path d="M1167.5 600.3L1175.1 613.7L1159.9 613.7Z" fill="#1006c2"/><path d="M1168.9 594.8L1176.5 608.2L1161.3 608.2Z" fill="#1006c2"/><path d="M1170.6 588.7L1178.2 602.1L1163 602.1Z" fill="#1006c2"/><path d="M1172.5 582.1L1180.1 595.5L1164.9 595.5Z" fill="#1006c2"/><path d="M1174.6 574.8L1182.2 588.2L1167 588.2Z" fill="#1006c2"/><path d="M1177 566.8L1184.6 580.2L1169.4 580.2Z" fill="#1006c2"/><path d="M1179.7 558L1187.3 571.4L1172.1 571.4Z" fill="#1006c2"/><path d="M1182.8 548.4L1190.4 561.8L1175.2 561.8Z" fill="#1006c2"/><path d="M1186.4 537.9L1194 551.3L1178.8 551.3Z" fill="#1006c2"/><path d="M1190.6 526.4L1198.2 539.8L1183 539.8Z" fill="#1006c2"/><path d="M1195.3 513.8L1202.9 527.2L1187.7 527.2Z" fill="#1006c2"/><path d="M1200.8 500L1208.4 513.4L1193.2 513.4Z" fill="#1006c2"/><path d="M1205.9 484.6L1213.5 498L1198.3 498Z" fill="#1006c2"/><path d="M1211.8 467L1219.4 480.4L1204.2 480.4Z" fill="#1006c2"/><path d="M1220.3 450L1227.9 463.4L1212.7 463.4Z" fill="#1006c2"/><path d="M1229.7 430.1L1237.3 443.5L1222.1 443.5Z" fill="#1006c2"/><path d="M1238.8 410.2L1246.4 423.6L1231.2 423.6Z" fill="#1006c2"/><path d="M1248.7 389.3L1256.3 402.7L1241.1 402.7Z" fill="#1006c2"/><path d="M1259.5 375L1267.1 388.4L1251.9 388.4Z" fill="#1006c2"/><path d="M1272.3 351.4L1279.9 364.8L1264.7 364.8Z" fill="#1006c2"/><path d="M1285.1 327.2L1292.7 340.6L1277.5 340.6Z" fill="#1006c2"/><path d="M1298.5 303.1L1306.1 316.5L1290.9 316.5Z" fill="#1006c2"/><path d="M1312.7 274.1L1320.3 287.5L1305.1 287.5Z" fill="#1006c2"/><path d="M1330.6 248.2L1338.2 261.6L1323 261.6Z" fill="#1006c2"/><path d="M1349.6 219.8L1357.2 233.2L1342 233.2Z" fill="#1006c2"/><path d="M1370.9 192.2L1378.5 205.6L1363.3 205.6Z" fill="#1006c2"/><path d="M1393.1 173.7L1400.7 187.1L1385.5 187.1Z" fill="#1006c2"/><path d="M1418.4 136.8L1426 150.2L1410.8 150.2Z" fill="#1006c2"/><path d="M1443.4 124L1451 137.4L1435.8 137.4Z" fill="#1006c2"/><path d="M1470.4 106.9L1478 120.3L1462.8 120.3Z" fill="#1006c2"/><path d="M1496 98.4L1503.6 111.8L1488.4 111.8Z" fill="#1006c2"/><path d="M1525.6 90.8L1533.2 104.2L1518 104.2Z" fill="#1006c2"/><path d="M1552.7 90.8L1560.3 104.2L1545.1 104.2Z" fill="#1006c2"/><path d="M1578.3 90.8L1585.9 104.2L1570.7 104.2Z" fill="#1006c2"/><path d="M1609.4 95.8L1617 109.2L1601.8 109.2Z" fill="#1006c2"/><path d="M1633.6 107.8L1641.2 121.2L1626 121.2Z" fill="#1006c2"/><path d="M1657.5 124.8L1665.1 138.2L1649.9 138.2Z" fill="#1006c2"/><path d="M1685.1 139.8L1692.7 153.2L1677.5 153.2Z" fill="#1006c2"/><path d="M1707.9 162.8L1715.5 176.2L1700.3 176.2Z" fill="#1006c2"/><path d="M1731.9 188.8L1739.5 202.2L1724.3 202.2Z" fill="#1006c2"/><path d="M1752.1 204.8L1759.7 218.2L1744.5 218.2Z" fill="#1006c2"/><path d="M1771.2 238.8L1778.8 252.2L1763.6 252.2Z" fill="#1006c2"/><path d="M1789.8 275.8L1797.4 289.2L1782.2 289.2Z" fill="#1006c2"/><path d="M1803.5 317.8L1811.1 331.2L1795.9 331.2Z" fill="#1006c2"/><path d="M1818.6 336.8L1826.2 350.2L1811 350.2Z" fill="#1006c2"/><path d="M1829 381.8L1836.6 395.2L1821.4 395.2Z" fill="#1006c2"/></g>
<path d="M1160.6 646L1161.2 644.1L1161.9 642.1L1162.6 639.9L1163.3 637.7L1164.1 635.3L1164.9 632.7L1165.8 630L1166.7 627.2L1167.8 624.2L1168.8 621L1170 617.6L1171.3 614L1172.7 610.2L1174.3 606.3L1175.9 602L1177.7 597.6L1179.6 592.9L1181.7 587.9L1184 582.7L1186.3 577.1L1188.9 571.3L1191.7 565.1L1194.9 558.6L1198.4 552L1202.2 545.5L1206.3 539.2L1210.6 533.1L1215.3 527.2L1220.4 521.7L1226.1 516.8L1232.6 513.2L1239.6 510.5L1247 509.3L1254.5 509.5L1261.9 510.6L1268.9 513.2L1275.1 517.4L1280.5 522.6L1284.7 528.8L1287.8 535.6L1290.1 542.7L1291.6 550.1L1292.6 557.5L1293.4 565L1293.9 572.5L1294.2 580L1294.3 587.5L1294.3 595L1294.2 602.5" fill="none" stroke="#7fb5b3" stroke-width="1.8"/>
<g><path d="M1160.6 653.6L1167.8 641L1153.4 641Z" fill="#1b7d7b"/><path d="M1161.2 651.7L1168.4 639.1L1154 639.1Z" fill="#1b7d7b"/><path d="M1161.9 649.7L1169.1 637.1L1154.7 637.1Z" fill="#1b7d7b"/><path d="M1162.6 647.5L1169.8 634.9L1155.4 634.9Z" fill="#1b7d7b"/><path d="M1163.3 645.3L1170.5 632.7L1156.1 632.7Z" fill="#1b7d7b"/><path d="M1164.1 642.9L1171.3 630.3L1156.9 630.3Z" fill="#1b7d7b"/><path d="M1164.9 640.3L1172.1 627.7L1157.7 627.7Z" fill="#1b7d7b"/><path d="M1165.8 637.6L1173 625L1158.6 625Z" fill="#1b7d7b"/><path d="M1166.7 634.8L1173.9 622.2L1159.5 622.2Z" fill="#1b7d7b"/><path d="M1167.8 631.8L1175 619.2L1160.6 619.2Z" fill="#1b7d7b"/><path d="M1168.8 628.6L1176 616L1161.6 616Z" fill="#1b7d7b"/><path d="M1170 625.2L1177.2 612.6L1162.8 612.6Z" fill="#1b7d7b"/><path d="M1171.3 621.6L1178.5 609L1164.1 609Z" fill="#1b7d7b"/><path d="M1172.7 617.8L1179.9 605.2L1165.5 605.2Z" fill="#1b7d7b"/><path d="M1174.3 613.9L1181.5 601.3L1167.1 601.3Z" fill="#1b7d7b"/><path d="M1175.9 609.6L1183.1 597L1168.7 597Z" fill="#1b7d7b"/><path d="M1177.7 605.2L1184.9 592.6L1170.5 592.6Z" fill="#1b7d7b"/><path d="M1179.6 600.5L1186.8 587.9L1172.4 587.9Z" fill="#1b7d7b"/><path d="M1181.7 595.5L1188.9 582.9L1174.5 582.9Z" fill="#1b7d7b"/><path d="M1184 590.3L1191.2 577.7L1176.8 577.7Z" fill="#1b7d7b"/><path d="M1186.3 584.7L1193.5 572.1L1179.1 572.1Z" fill="#1b7d7b"/><path d="M1188.9 578.9L1196.1 566.3L1181.7 566.3Z" fill="#1b7d7b"/><path d="M1191.7 572.7L1198.9 560.1L1184.5 560.1Z" fill="#1b7d7b"/><path d="M1194.9 566.2L1202.1 553.6L1187.7 553.6Z" fill="#1b7d7b"/><path d="M1198.4 559.6L1205.6 547L1191.2 547Z" fill="#1b7d7b"/><path d="M1202.2 553.1L1209.4 540.5L1195 540.5Z" fill="#1b7d7b"/><path d="M1206.3 546.8L1213.5 534.2L1199.1 534.2Z" fill="#1b7d7b"/><path d="M1210.6 540.7L1217.8 528.1L1203.4 528.1Z" fill="#1b7d7b"/><path d="M1215.3 534.8L1222.5 522.2L1208.1 522.2Z" fill="#1b7d7b"/><path d="M1220.4 529.3L1227.6 516.7L1213.2 516.7Z" fill="#1b7d7b"/><path d="M1226.1 524.4L1233.3 511.8L1218.9 511.8Z" fill="#1b7d7b"/><path d="M1232.6 520.8L1239.8 508.2L1225.4 508.2Z" fill="#1b7d7b"/><path d="M1239.6 518.1L1246.8 505.5L1232.4 505.5Z" fill="#1b7d7b"/><path d="M1247 516.9L1254.2 504.3L1239.8 504.3Z" fill="#1b7d7b"/><path d="M1254.5 517.1L1261.7 504.5L1247.3 504.5Z" fill="#1b7d7b"/><path d="M1261.9 518.2L1269.1 505.6L1254.7 505.6Z" fill="#1b7d7b"/><path d="M1268.9 520.8L1276.1 508.2L1261.7 508.2Z" fill="#1b7d7b"/><path d="M1275.1 525L1282.3 512.4L1267.9 512.4Z" fill="#1b7d7b"/><path d="M1280.5 530.2L1287.7 517.6L1273.3 517.6Z" fill="#1b7d7b"/><path d="M1284.7 536.4L1291.9 523.8L1277.5 523.8Z" fill="#1b7d7b"/><path d="M1287.8 543.2L1295 530.6L1280.6 530.6Z" fill="#1b7d7b"/><path d="M1290.1 550.3L1297.3 537.7L1282.9 537.7Z" fill="#1b7d7b"/><path d="M1291.6 557.7L1298.8 545.1L1284.4 545.1Z" fill="#1b7d7b"/><path d="M1292.6 565.1L1299.8 552.5L1285.4 552.5Z" fill="#1b7d7b"/><path d="M1293.4 572.6L1300.6 560L1286.2 560Z" fill="#1b7d7b"/><path d="M1293.9 580.1L1301.1 567.5L1286.7 567.5Z" fill="#1b7d7b"/><path d="M1294.2 587.6L1301.4 575L1287 575Z" fill="#1b7d7b"/><path d="M1294.3 595.1L1301.5 582.5L1287.1 582.5Z" fill="#1b7d7b"/><path d="M1294.3 602.6L1301.5 590L1287.1 590Z" fill="#1b7d7b"/><path d="M1294.2 610.1L1301.4 597.5L1287 597.5Z" fill="#1b7d7b"/></g>
<path d="M1160.6 646L1161 644.1L1161.5 642L1162 639.9L1162.5 637.6L1163 635.2L1163.6 632.7L1164.2 630.1L1164.8 627.4L1165.4 624.5L1166.1 621.5L1166.9 618.3L1167.7 615L1168.6 611.5L1169.7 607.9L1170.8 604.1L1172 600.1L1173.5 596L1175.1 591.7L1176.8 587.2L1178.6 582.5L1180.6 577.6L1182.8 572.5L1184.9 567.4L1187 562.4L1189.2 557.3L1191.4 552.3L1193.7 547.3L1196.1 542.3L1198.5 537.4L1200.9 532.4L1203.5 527.6L1206 522.7L1208.7 517.9L1211.6 513.2L1214.7 508.7L1218.1 504.3L1221.7 500.2L1225.7 496.5L1230.1 493.2L1234.9 490.5L1239.9 488.2L1245.1 486.4L1250.4 484.9L1255.8 484L1261.3 483.8L1266.8 484.4L1272.1 485.7L1277.3 487.5L1282.4 489.7L1287.2 492.4L1291.7 495.6L1295.8 499.2L1299.6 503.1L1303.1 507.4L1306.3 511.9L1309.1 516.6L1311.5 521.5L1313.8 526.6L1315.9 531.6L1317.7 536.8L1319.4 542L1321 547.3L1322.4 552.6L1323.7 558L1324.8 563.4L1325.8 568.8L1326.7 574.2L1327.3 579.7L1327.6 585.2L1327.9 590.6L1328.1 596.1" fill="none" stroke="#eaa0a8" stroke-width="1.8"/>
<g><circle cx="1160.6" cy="646" r="6" fill="#e0101e"/><circle cx="1161" cy="644.1" r="6" fill="#e0101e"/><circle cx="1161.5" cy="642" r="6" fill="#e0101e"/><circle cx="1162" cy="639.9" r="6" fill="#e0101e"/><circle cx="1162.5" cy="637.6" r="6" fill="#e0101e"/><circle cx="1163" cy="635.2" r="6" fill="#e0101e"/><circle cx="1163.6" cy="632.7" r="6" fill="#e0101e"/><circle cx="1164.2" cy="630.1" r="6" fill="#e0101e"/><circle cx="1164.8" cy="627.4" r="6" fill="#e0101e"/><circle cx="1165.4" cy="624.5" r="6" fill="#e0101e"/><circle cx="1166.1" cy="621.5" r="6" fill="#e0101e"/><circle cx="1166.9" cy="618.3" r="6" fill="#e0101e"/><circle cx="1167.7" cy="615" r="6" fill="#e0101e"/><circle cx="1168.6" cy="611.5" r="6" fill="#e0101e"/><circle cx="1169.7" cy="607.9" r="6" fill="#e0101e"/><circle cx="1170.8" cy="604.1" r="6" fill="#e0101e"/><circle cx="1172" cy="600.1" r="6" fill="#e0101e"/><circle cx="1173.5" cy="596" r="6" fill="#e0101e"/><circle cx="1175.1" cy="591.7" r="6" fill="#e0101e"/><circle cx="1176.8" cy="587.2" r="6" fill="#e0101e"/><circle cx="1178.6" cy="582.5" r="6" fill="#e0101e"/><circle cx="1180.6" cy="577.6" r="6" fill="#e0101e"/><circle cx="1182.8" cy="572.5" r="6" fill="#e0101e"/><circle cx="1184.9" cy="567.4" r="6" fill="#e0101e"/><circle cx="1187" cy="562.4" r="6" fill="#e0101e"/><circle cx="1189.2" cy="557.3" r="6" fill="#e0101e"/><circle cx="1191.4" cy="552.3" r="6" fill="#e0101e"/><circle cx="1193.7" cy="547.3" r="6" fill="#e0101e"/><circle cx="1196.1" cy="542.3" r="6" fill="#e0101e"/><circle cx="1198.5" cy="537.4" r="6" fill="#e0101e"/><circle cx="1200.9" cy="532.4" r="6" fill="#e0101e"/><circle cx="1203.5" cy="527.6" r="6" fill="#e0101e"/><circle cx="1206" cy="522.7" r="6" fill="#e0101e"/><circle cx="1208.7" cy="517.9" r="6" fill="#e0101e"/><circle cx="1211.6" cy="513.2" r="6" fill="#e0101e"/><circle cx="1214.7" cy="508.7" r="6" fill="#e0101e"/><circle cx="1218.1" cy="504.3" r="6" fill="#e0101e"/><circle cx="1221.7" cy="500.2" r="6" fill="#e0101e"/><circle cx="1225.7" cy="496.5" r="6" fill="#e0101e"/><circle cx="1230.1" cy="493.2" r="6" fill="#e0101e"/><circle cx="1234.9" cy="490.5" r="6" fill="#e0101e"/><circle cx="1239.9" cy="488.2" r="6" fill="#e0101e"/><circle cx="1245.1" cy="486.4" r="6" fill="#e0101e"/><circle cx="1250.4" cy="484.9" r="6" fill="#e0101e"/><circle cx="1255.8" cy="484" r="6" fill="#e0101e"/><circle cx="1261.3" cy="483.8" r="6" fill="#e0101e"/><circle cx="1266.8" cy="484.4" r="6" fill="#e0101e"/><circle cx="1272.1" cy="485.7" r="6" fill="#e0101e"/><circle cx="1277.3" cy="487.5" r="6" fill="#e0101e"/><circle cx="1282.4" cy="489.7" r="6" fill="#e0101e"/><circle cx="1287.2" cy="492.4" r="6" fill="#e0101e"/><circle cx="1291.7" cy="495.6" r="6" fill="#e0101e"/><circle cx="1295.8" cy="499.2" r="6" fill="#e0101e"/><circle cx="1299.6" cy="503.1" r="6" fill="#e0101e"/><circle cx="1303.1" cy="507.4" r="6" fill="#e0101e"/><circle cx="1306.3" cy="511.9" r="6" fill="#e0101e"/><circle cx="1309.1" cy="516.6" r="6" fill="#e0101e"/><circle cx="1311.5" cy="521.5" r="6" fill="#e0101e"/><circle cx="1313.8" cy="526.6" r="6" fill="#e0101e"/><circle cx="1315.9" cy="531.6" r="6" fill="#e0101e"/><circle cx="1317.7" cy="536.8" r="6" fill="#e0101e"/><circle cx="1319.4" cy="542" r="6" fill="#e0101e"/><circle cx="1321" cy="547.3" r="6" fill="#e0101e"/><circle cx="1322.4" cy="552.6" r="6" fill="#e0101e"/><circle cx="1323.7" cy="558" r="6" fill="#e0101e"/><circle cx="1324.8" cy="563.4" r="6" fill="#e0101e"/><circle cx="1325.8" cy="568.8" r="6" fill="#e0101e"/><circle cx="1326.7" cy="574.2" r="6" fill="#e0101e"/><circle cx="1327.3" cy="579.7" r="6" fill="#e0101e"/><circle cx="1327.6" cy="585.2" r="6" fill="#e0101e"/><circle cx="1327.9" cy="590.6" r="6" fill="#e0101e"/><circle cx="1328.1" cy="596.1" r="6" fill="#e0101e"/></g>
</g>
<rect x="1160.5" y="27.5" width="764" height="619.5" fill="none" stroke="#000" stroke-width="4.6"/>
<line x1="1147" y1="27.5" x2="1160.5" y2="27.5" stroke="#000" stroke-width="4.2"/>
<text x="1140" y="34.7" font-family='"Liberation Sans", sans-serif' font-size="27" font-weight="bold" text-anchor="end" >-40000</text>
<line x1="1147" y1="182.4" x2="1160.5" y2="182.4" stroke="#000" stroke-width="4.2"/>
<text x="1140" y="189.6" font-family='"Liberation Sans", sans-serif' font-size="27" font-weight="bold" text-anchor="end" >-30000</text>
<line x1="1147" y1="337.2" x2="1160.5" y2="337.2" stroke="#000" stroke-width="4.2"/>
<text x="1140" y="344.4" font-family='"Liberation Sans", sans-serif' font-size="27" font-weight="bold" text-anchor="end" >-20000</text>
<line x1="1147" y1="492.1" x2="1160.5" y2="492.1" stroke="#000" stroke-width="4.2"/>
<text x="1140" y="499.3" font-family='"Liberation Sans", sans-serif' font-size="27" font-weight="bold" text-anchor="end" >-10000</text>
<line x1="1147" y1="647" x2="1160.5" y2="647" stroke="#000" stroke-width="4.2"/>
<text x="1140" y="654.2" font-family='"Liberation Sans", sans-serif' font-size="27" font-weight="bold" text-anchor="end" >0</text>
<line x1="1153.7" y1="105" x2="1160.5" y2="105" stroke="#000" stroke-width="4.2"/>
<line x1="1153.7" y1="259.8" x2="1160.5" y2="259.8" stroke="#000" stroke-width="4.2"/>
<line x1="1153.7" y1="414.7" x2="1160.5" y2="414.7" stroke="#000" stroke-width="4.2"/>
<line x1="1153.7" y1="569.6" x2="1160.5" y2="569.6" stroke="#000" stroke-width="4.2"/>
<line x1="1160.3" y1="647" x2="1160.3" y2="660.5" stroke="#000" stroke-width="4.2"/>
<text x="1160.3" y="687.7" font-family='"Liberation Sans", sans-serif' font-size="27" font-weight="bold" text-anchor="middle" >0</text>
<line x1="1303.5" y1="647" x2="1303.5" y2="660.5" stroke="#000" stroke-width="4.2"/>
<text x="1303.5" y="687.7" font-family='"Liberation Sans", sans-serif' font-size="27" font-weight="bold" text-anchor="middle" >30000</text>
<line x1="1446.7" y1="647" x2="1446.7" y2="660.5" stroke="#000" stroke-width="4.2"/>
<text x="1446.7" y="687.7" font-family='"Liberation Sans", sans-serif' font-size="27" font-weight="bold" text-anchor="middle" >60000</text>
<line x1="1589.9" y1="647" x2="1589.9" y2="660.5" stroke="#000" stroke-width="4.2"/>
<text x="1589.9" y="687.7" font-family='"Liberation Sans", sans-serif' font-size="27" font-weight="bold" text-anchor="middle" >90000</text>
<line x1="1733.2" y1="647" x2="1733.2" y2="660.5" stroke="#000" stroke-width="4.2"/>
<text x="1733.2" y="687.7" font-family='"Liberation Sans", sans-serif' font-size="27" font-weight="bold" text-anchor="middle" >120000</text>
<line x1="1876.4" y1="647" x2="1876.4" y2="660.5" stroke="#000" stroke-width="4.2"/>
<text x="1876.4" y="687.7" font-family='"Liberation Sans", sans-serif' font-size="27" font-weight="bold" text-anchor="middle" >150000</text>
<line x1="1231.9" y1="647" x2="1231.9" y2="653.8" stroke="#000" stroke-width="4.2"/>
<line x1="1375.1" y1="647" x2="1375.1" y2="653.8" stroke="#000" stroke-width="4.2"/>
<line x1="1518.3" y1="647" x2="1518.3" y2="653.8" stroke="#000" stroke-width="4.2"/>
<line x1="1661.5" y1="647" x2="1661.5" y2="653.8" stroke="#000" stroke-width="4.2"/>
<line x1="1804.8" y1="647" x2="1804.8" y2="653.8" stroke="#000" stroke-width="4.2"/>
<text x="1464.5" y="749.5" font-family='"Liberation Sans", sans-serif' font-size="35.2" font-weight="bold" text-anchor="start" >Z'(Ohm.cm<tspan font-size="22" dy="-21.5">2</tspan><tspan dy="21.5">)</tspan></text>
<g transform="translate(1031 359.5) rotate(-90)">
<text x="0" y="0" font-family='"Liberation Sans", sans-serif' font-size="35.2" font-weight="bold" text-anchor="middle" >Z''(Ohm.cm<tspan font-size="22" dy="-21.5">2</tspan><tspan dy="21.5">)</tspan></text>
</g>
<text x="1176" y="89.7" font-family='"Liberation Serif", serif' font-size="58" font-weight="bold" text-anchor="start" >(b)</text>
<line x1="1568.5" y1="434" x2="1632.5" y2="434" stroke="#7fb5b3" stroke-width="2"/>
<path d="M1601 443L1608.6 429.8L1593.4 429.8Z" fill="#1b7d7b"/>
<text x="1646" y="443" font-family='"Liberation Serif", serif' font-size="28" font-weight="bold" text-anchor="start" >GO</text>
<line x1="1568.5" y1="474.8" x2="1632.5" y2="474.8" stroke="#eaa0a8" stroke-width="2"/>
<circle cx="1601" cy="474.8" r="6.3" fill="#e0101e"/>
<text x="1646" y="483.8" font-family='"Liberation Serif", serif' font-size="28" font-weight="bold" text-anchor="start" >Pure Epoxy</text>
<line x1="1568.5" y1="515.9" x2="1632.5" y2="515.9" stroke="#5e5e5e" stroke-width="2"/>
<rect x="1595.2" y="510.1" width="11.6" height="11.6" rx="1.2" fill="#050505"/>
<text x="1646" y="524.9" font-family='"Liberation Serif", serif' font-size="28" font-weight="bold" text-anchor="start" >Fe<tspan font-size="17" dy="7">3</tspan><tspan dy="-7">O</tspan><tspan font-size="17" dy="7">4</tspan><tspan dy="-7">-GO</tspan></text>
<line x1="1568.5" y1="556.6" x2="1632.5" y2="556.6" stroke="#7c7cd4" stroke-width="2"/>
<path d="M1601 547L1609 561.1L1593 561.1Z" fill="#1006c2"/>
<text x="1643" y="565.6" font-family='"Liberation Serif", serif' font-size="28" font-weight="bold" text-anchor="start" >Fe<tspan font-size="17" dy="7">3</tspan><tspan dy="-7">O</tspan><tspan font-size="17" dy="7">4</tspan><tspan dy="-7">-GO@</tspan></text>
<text x="1645" y="609" font-family='"Liberation Serif", serif' font-size="28" font-weight="bold" text-anchor="start" >poly(KH550+DA)</text>
</g>
<g>
<clipPath id="pcc"><rect x="195.5" y="810.5" width="763" height="620.5"/></clipPath>
<g clip-path="url(#pcc)">
<path d="M198.5 1427L199.7 1425.4L201.1 1423.7L202.4 1421.8L203.8 1419.7L205 1417.3L206.1 1414.6L207.1 1411.6L208.1 1408.3L209.2 1404.7L210.5 1400.9L212 1396.9L213.8 1392.6L215.8 1388L218 1383L220.4 1377.7L223.2 1372L226.4 1366.3L229.7 1360.7L233.2 1355.2L237.2 1350.1L240.3 1344.4L242.8 1338.4L245.3 1332.4L245.3 1332.3L265.7 1297.1L274.8 1283.4L282.8 1275.5L290.7 1268.7L299.8 1260.7L310.1 1255.3L320.3 1254.8L330.5 1263L339.6 1273.2L345.8 1288.5L355.4 1291.6L360.3 1307.5L363.5 1329.5L364.5 1339.2" fill="none" stroke="#5e5e5e" stroke-width="1.8"/>
<g><rect x="193" y="1421.5" width="11" height="11" rx="1.2" fill="#050505"/><rect x="194.2" y="1419.9" width="11" height="11" rx="1.2" fill="#050505"/><rect x="195.6" y="1418.2" width="11" height="11" rx="1.2" fill="#050505"/><rect x="196.9" y="1416.3" width="11" height="11" rx="1.2" fill="#050505"/><rect x="198.3" y="1414.2" width="11" height="11" rx="1.2" fill="#050505"/><rect x="199.5" y="1411.8" width="11" height="11" rx="1.2" fill="#050505"/><rect x="200.6" y="1409.1" width="11" height="11" rx="1.2" fill="#050505"/><rect x="201.6" y="1406.1" width="11" height="11" rx="1.2" fill="#050505"/><rect x="202.6" y="1402.8" width="11" height="11" rx="1.2" fill="#050505"/><rect x="203.7" y="1399.2" width="11" height="11" rx="1.2" fill="#050505"/><rect x="205" y="1395.4" width="11" height="11" rx="1.2" fill="#050505"/><rect x="206.5" y="1391.4" width="11" height="11" rx="1.2" fill="#050505"/><rect x="208.3" y="1387.1" width="11" height="11" rx="1.2" fill="#050505"/><rect x="210.3" y="1382.5" width="11" height="11" rx="1.2" fill="#050505"/><rect x="212.5" y="1377.5" width="11" height="11" rx="1.2" fill="#050505"/><rect x="214.9" y="1372.2" width="11" height="11" rx="1.2" fill="#050505"/><rect x="217.7" y="1366.5" width="11" height="11" rx="1.2" fill="#050505"/><rect x="220.9" y="1360.8" width="11" height="11" rx="1.2" fill="#050505"/><rect x="224.2" y="1355.2" width="11" height="11" rx="1.2" fill="#050505"/><rect x="227.7" y="1349.7" width="11" height="11" rx="1.2" fill="#050505"/><rect x="231.7" y="1344.6" width="11" height="11" rx="1.2" fill="#050505"/><rect x="234.8" y="1338.9" width="11" height="11" rx="1.2" fill="#050505"/><rect x="237.3" y="1332.9" width="11" height="11" rx="1.2" fill="#050505"/><rect x="239.8" y="1326.9" width="11" height="11" rx="1.2" fill="#050505"/><rect x="239.8" y="1326.8" width="11" height="11" rx="1.2" fill="#050505"/><rect x="260.2" y="1291.6" width="11" height="11" rx="1.2" fill="#050505"/><rect x="269.3" y="1277.9" width="11" height="11" rx="1.2" fill="#050505"/><rect x="277.3" y="1270" width="11" height="11" rx="1.2" fill="#050505"/><rect x="285.2" y="1263.2" width="11" height="11" rx="1.2" fill="#050505"/><rect x="294.3" y="1255.2" width="11" height="11" rx="1.2" fill="#050505"/><rect x="304.6" y="1249.8" width="11" height="11" rx="1.2" fill="#050505"/><rect x="314.8" y="1249.3" width="11" height="11" rx="1.2" fill="#050505"/><rect x="325" y="1257.5" width="11" height="11" rx="1.2" fill="#050505"/><rect x="334.1" y="1267.7" width="11" height="11" rx="1.2" fill="#050505"/><rect x="340.3" y="1283" width="11" height="11" rx="1.2" fill="#050505"/><rect x="349.9" y="1286.1" width="11" height="11" rx="1.2" fill="#050505"/><rect x="354.8" y="1302" width="11" height="11" rx="1.2" fill="#050505"/><rect x="358" y="1324" width="11" height="11" rx="1.2" fill="#050505"/><rect x="359" y="1333.7" width="11" height="11" rx="1.2" fill="#050505"/></g>
<path d="M196.8 1428L197 1426L197.2 1423.8L197.3 1421.5L197.6 1418.9L197.8 1416.1L198.1 1413L198.4 1409.7L198.9 1406L199.4 1402.1L200.1 1397.8L200.9 1393.1L201.9 1388.1L203.1 1382.6L204.5 1376.6L206.2 1370.2L208.3 1363.2L210.8 1355.6L218 1339.2L222.5 1330L228.2 1316.4L233.9 1301.6L240.7 1285.7L247.1 1266.9L255.6 1254.4L265.2 1237.4L275.5 1218L285.7 1199.9L298.2 1180.5L311.3 1160.1L325.5 1138.5L341.4 1118L358.5 1097L377.2 1076.5L396 1059.5L418.4 1038.1L441.4 1018.8L465.3 1004.6L488.9 987.5L512.8 973.3L542.1 950.6L581 929.2L606.6 927.2L637.3 923.5L665.7 932.1L694.1 942L725.4 955.4L750.1 975.3L775.2 997.4L799.9 1028.1L819.8 1052.9L838.3 1080.7L857.6 1112" fill="none" stroke="#7c7cd4" stroke-width="1.8"/>
<g><path d="M196.8 1419.8L204.4 1433.2L189.2 1433.2Z" fill="#1006c2"/><path d="M197 1417.8L204.6 1431.2L189.4 1431.2Z" fill="#1006c2"/><path d="M197.2 1415.6L204.8 1429L189.6 1429Z" fill="#1006c2"/><path d="M197.3 1413.3L204.9 1426.7L189.7 1426.7Z" fill="#1006c2"/><path d="M197.6 1410.7L205.2 1424.1L190 1424.1Z" fill="#1006c2"/><path d="M197.8 1407.9L205.4 1421.3L190.2 1421.3Z" fill="#1006c2"/><path d="M198.1 1404.8L205.7 1418.2L190.5 1418.2Z" fill="#1006c2"/><path d="M198.4 1401.5L206 1414.9L190.8 1414.9Z" fill="#1006c2"/><path d="M198.9 1397.8L206.5 1411.2L191.3 1411.2Z" fill="#1006c2"/><path d="M199.4 1393.9L207 1407.3L191.8 1407.3Z" fill="#1006c2"/><path d="M200.1 1389.6L207.7 1403L192.5 1403Z" fill="#1006c2"/><path d="M200.9 1384.9L208.5 1398.3L193.3 1398.3Z" fill="#1006c2"/><path d="M201.9 1379.9L209.5 1393.3L194.3 1393.3Z" fill="#1006c2"/><path d="M203.1 1374.4L210.7 1387.8L195.5 1387.8Z" fill="#1006c2"/><path d="M204.5 1368.4L212.1 1381.8L196.9 1381.8Z" fill="#1006c2"/><path d="M206.2 1362L213.8 1375.4L198.6 1375.4Z" fill="#1006c2"/><path d="M208.3 1355L215.9 1368.4L200.7 1368.4Z" fill="#1006c2"/><path d="M210.8 1347.4L218.4 1360.8L203.2 1360.8Z" fill="#1006c2"/><path d="M218 1331L225.6 1344.4L210.4 1344.4Z" fill="#1006c2"/><path d="M222.5 1321.8L230.1 1335.2L214.9 1335.2Z" fill="#1006c2"/><path d="M228.2 1308.2L235.8 1321.6L220.6 1321.6Z" fill="#1006c2"/><path d="M233.9 1293.4L241.5 1306.8L226.3 1306.8Z" fill="#1006c2"/><path d="M240.7 1277.5L248.3 1290.9L233.1 1290.9Z" fill="#1006c2"/><path d="M247.1 1258.7L254.7 1272.1L239.5 1272.1Z" fill="#1006c2"/><path d="M255.6 1246.2L263.2 1259.6L248 1259.6Z" fill="#1006c2"/><path d="M265.2 1229.2L272.8 1242.6L257.6 1242.6Z" fill="#1006c2"/><path d="M275.5 1209.8L283.1 1223.2L267.9 1223.2Z" fill="#1006c2"/><path d="M285.7 1191.7L293.3 1205.1L278.1 1205.1Z" fill="#1006c2"/><path d="M298.2 1172.3L305.8 1185.7L290.6 1185.7Z" fill="#1006c2"/><path d="M311.3 1151.9L318.9 1165.3L303.7 1165.3Z" fill="#1006c2"/><path d="M325.5 1130.3L333.1 1143.7L317.9 1143.7Z" fill="#1006c2"/><path d="M341.4 1109.8L349 1123.2L333.8 1123.2Z" fill="#1006c2"/><path d="M358.5 1088.8L366.1 1102.2L350.9 1102.2Z" fill="#1006c2"/><path d="M377.2 1068.3L384.8 1081.7L369.6 1081.7Z" fill="#1006c2"/><path d="M396 1051.3L403.6 1064.7L388.4 1064.7Z" fill="#1006c2"/><path d="M418.4 1029.9L426 1043.3L410.8 1043.3Z" fill="#1006c2"/><path d="M441.4 1010.6L449 1024L433.8 1024Z" fill="#1006c2"/><path d="M465.3 996.4L472.9 1009.8L457.7 1009.8Z" fill="#1006c2"/><path d="M488.9 979.3L496.5 992.7L481.3 992.7Z" fill="#1006c2"/><path d="M512.8 965.1L520.4 978.5L505.2 978.5Z" fill="#1006c2"/><path d="M542.1 942.4L549.7 955.8L534.5 955.8Z" fill="#1006c2"/><path d="M581 921L588.6 934.4L573.4 934.4Z" fill="#1006c2"/><path d="M606.6 919L614.2 932.4L599 932.4Z" fill="#1006c2"/><path d="M637.3 915.3L644.9 928.7L629.7 928.7Z" fill="#1006c2"/><path d="M665.7 923.9L673.3 937.3L658.1 937.3Z" fill="#1006c2"/><path d="M694.1 933.8L701.7 947.2L686.5 947.2Z" fill="#1006c2"/><path d="M725.4 947.2L733 960.6L717.8 960.6Z" fill="#1006c2"/><path d="M750.1 967.1L757.7 980.5L742.5 980.5Z" fill="#1006c2"/><path d="M775.2 989.2L782.8 1002.6L767.6 1002.6Z" fill="#1006c2"/><path d="M799.9 1019.9L807.5 1033.3L792.3 1033.3Z" fill="#1006c2"/><path d="M819.8 1044.7L827.4 1058.1L812.2 1058.1Z" fill="#1006c2"/><path d="M838.3 1072.5L845.9 1085.9L830.7 1085.9Z" fill="#1006c2"/><path d="M857.6 1103.8L865.2 1117.2L850 1117.2Z" fill="#1006c2"/></g>
<path d="M196.8 1428L197.3 1426.1L197.8 1424L198.3 1421.9L198.8 1419.7L199.3 1417.5L199.9 1415.1L200.5 1412.6L201.2 1410.1L201.9 1407.5L202.8 1404.7L203.7 1401.9L204.7 1399L205.8 1396L207.1 1392.9L208.4 1389.7L209.9 1386.5L211.5 1383.1L213.2 1379.6L215.1 1376L217 1372.5L219.1 1369.1L221.2 1365.8L223.6 1362.5L226.2 1359.5L229 1356.6L232 1354L235.1 1351.5L238.3 1349L241.5 1346.6L244.7 1344.3L248.1 1342.1L251.5 1340L255 1338.1L258.7 1336.6L262.6 1335.7L266.6 1335.7L270.5 1336.2L274.4 1337.2L278.1 1338.8L281.6 1340.8L284.9 1343L287.9 1345.6L290.7 1348.5L293 1351.7L295.1 1355.1L297 1358.6L298.7 1362.3L300.1 1366L301.4 1369.8L302.4 1373.7L303.3 1377.6L304.1 1381.5L304.6 1385.5L305 1389.4L305.3 1393.4" fill="none" stroke="#eaa0a8" stroke-width="1.8"/>
<g><circle cx="196.8" cy="1428" r="6" fill="#e0101e"/><circle cx="197.3" cy="1426.1" r="6" fill="#e0101e"/><circle cx="197.8" cy="1424" r="6" fill="#e0101e"/><circle cx="198.3" cy="1421.9" r="6" fill="#e0101e"/><circle cx="198.8" cy="1419.7" r="6" fill="#e0101e"/><circle cx="199.3" cy="1417.5" r="6" fill="#e0101e"/><circle cx="199.9" cy="1415.1" r="6" fill="#e0101e"/><circle cx="200.5" cy="1412.6" r="6" fill="#e0101e"/><circle cx="201.2" cy="1410.1" r="6" fill="#e0101e"/><circle cx="201.9" cy="1407.5" r="6" fill="#e0101e"/><circle cx="202.8" cy="1404.7" r="6" fill="#e0101e"/><circle cx="203.7" cy="1401.9" r="6" fill="#e0101e"/><circle cx="204.7" cy="1399" r="6" fill="#e0101e"/><circle cx="205.8" cy="1396" r="6" fill="#e0101e"/><circle cx="207.1" cy="1392.9" r="6" fill="#e0101e"/><circle cx="208.4" cy="1389.7" r="6" fill="#e0101e"/><circle cx="209.9" cy="1386.5" r="6" fill="#e0101e"/><circle cx="211.5" cy="1383.1" r="6" fill="#e0101e"/><circle cx="213.2" cy="1379.6" r="6" fill="#e0101e"/><circle cx="215.1" cy="1376" r="6" fill="#e0101e"/><circle cx="217" cy="1372.5" r="6" fill="#e0101e"/><circle cx="219.1" cy="1369.1" r="6" fill="#e0101e"/><circle cx="221.2" cy="1365.8" r="6" fill="#e0101e"/><circle cx="223.6" cy="1362.5" r="6" fill="#e0101e"/><circle cx="226.2" cy="1359.5" r="6" fill="#e0101e"/><circle cx="229" cy="1356.6" r="6" fill="#e0101e"/><circle cx="232" cy="1354" r="6" fill="#e0101e"/><circle cx="235.1" cy="1351.5" r="6" fill="#e0101e"/><circle cx="238.3" cy="1349" r="6" fill="#e0101e"/><circle cx="241.5" cy="1346.6" r="6" fill="#e0101e"/><circle cx="244.7" cy="1344.3" r="6" fill="#e0101e"/><circle cx="248.1" cy="1342.1" r="6" fill="#e0101e"/><circle cx="251.5" cy="1340" r="6" fill="#e0101e"/><circle cx="255" cy="1338.1" r="6" fill="#e0101e"/><circle cx="258.7" cy="1336.6" r="6" fill="#e0101e"/><circle cx="262.6" cy="1335.7" r="6" fill="#e0101e"/><circle cx="266.6" cy="1335.7" r="6" fill="#e0101e"/><circle cx="270.5" cy="1336.2" r="6" fill="#e0101e"/><circle cx="274.4" cy="1337.2" r="6" fill="#e0101e"/><circle cx="278.1" cy="1338.8" r="6" fill="#e0101e"/><circle cx="281.6" cy="1340.8" r="6" fill="#e0101e"/><circle cx="284.9" cy="1343" r="6" fill="#e0101e"/><circle cx="287.9" cy="1345.6" r="6" fill="#e0101e"/><circle cx="290.7" cy="1348.5" r="6" fill="#e0101e"/><circle cx="293" cy="1351.7" r="6" fill="#e0101e"/><circle cx="295.1" cy="1355.1" r="6" fill="#e0101e"/><circle cx="297" cy="1358.6" r="6" fill="#e0101e"/><circle cx="298.7" cy="1362.3" r="6" fill="#e0101e"/><circle cx="300.1" cy="1366" r="6" fill="#e0101e"/><circle cx="301.4" cy="1369.8" r="6" fill="#e0101e"/><circle cx="302.4" cy="1373.7" r="6" fill="#e0101e"/><circle cx="303.3" cy="1377.6" r="6" fill="#e0101e"/><circle cx="304.1" cy="1381.5" r="6" fill="#e0101e"/><circle cx="304.6" cy="1385.5" r="6" fill="#e0101e"/><circle cx="305" cy="1389.4" r="6" fill="#e0101e"/><circle cx="305.3" cy="1393.4" r="6" fill="#e0101e"/></g>
<path d="M196.8 1428L197.1 1426L197.5 1424L197.8 1421.8L198.2 1419.6L198.6 1417.3L199 1414.9L199.4 1412.4L199.9 1409.8L200.5 1407.2L201.1 1404.4L201.8 1401.5L202.7 1398.6L203.6 1395.5L204.7 1392.4L205.9 1389.1L207.3 1385.8L208.8 1382.3L210.4 1378.8L212.1 1375.2L213.9 1371.6L215.8 1368.1L217.8 1364.6L220 1361.3L222.5 1358.1L225.2 1355.2L228.2 1352.6L231.4 1350.2L234.8 1348.1L238.5 1346.5L242.4 1345.5L246.3 1345.2L250.3 1345.3L254.3 1346.1L258.1 1347.3L261.7 1348.9L265.2 1350.9L268.4 1353.2L271.5 1355.9L274.3 1358.7L277 1361.6L279.4 1364.8L281.6 1368.1L283.7 1371.5L285.7 1375L287.6 1378.5L289.4 1382.1L291.1 1385.7L292.5 1389.5L293.8 1393.3L294.8 1397.1" fill="none" stroke="#7fb5b3" stroke-width="1.8"/>
<g><path d="M196.8 1435.6L204 1423L189.6 1423Z" fill="#1b7d7b"/><path d="M197.1 1433.6L204.3 1421L189.9 1421Z" fill="#1b7d7b"/><path d="M197.5 1431.6L204.7 1419L190.3 1419Z" fill="#1b7d7b"/><path d="M197.8 1429.4L205 1416.8L190.6 1416.8Z" fill="#1b7d7b"/><path d="M198.2 1427.2L205.4 1414.6L191 1414.6Z" fill="#1b7d7b"/><path d="M198.6 1424.9L205.8 1412.3L191.4 1412.3Z" fill="#1b7d7b"/><path d="M199 1422.5L206.2 1409.9L191.8 1409.9Z" fill="#1b7d7b"/><path d="M199.4 1420L206.6 1407.4L192.2 1407.4Z" fill="#1b7d7b"/><path d="M199.9 1417.4L207.1 1404.8L192.7 1404.8Z" fill="#1b7d7b"/><path d="M200.5 1414.8L207.7 1402.2L193.3 1402.2Z" fill="#1b7d7b"/><path d="M201.1 1412L208.3 1399.4L193.9 1399.4Z" fill="#1b7d7b"/><path d="M201.8 1409.1L209 1396.5L194.6 1396.5Z" fill="#1b7d7b"/><path d="M202.7 1406.2L209.9 1393.6L195.5 1393.6Z" fill="#1b7d7b"/><path d="M203.6 1403.1L210.8 1390.5L196.4 1390.5Z" fill="#1b7d7b"/><path d="M204.7 1400L211.9 1387.4L197.5 1387.4Z" fill="#1b7d7b"/><path d="M205.9 1396.7L213.1 1384.1L198.7 1384.1Z" fill="#1b7d7b"/><path d="M207.3 1393.4L214.5 1380.8L200.1 1380.8Z" fill="#1b7d7b"/><path d="M208.8 1389.9L216 1377.3L201.6 1377.3Z" fill="#1b7d7b"/><path d="M210.4 1386.4L217.6 1373.8L203.2 1373.8Z" fill="#1b7d7b"/><path d="M212.1 1382.8L219.3 1370.2L204.9 1370.2Z" fill="#1b7d7b"/><path d="M213.9 1379.2L221.1 1366.6L206.7 1366.6Z" fill="#1b7d7b"/><path d="M215.8 1375.7L223 1363.1L208.6 1363.1Z" fill="#1b7d7b"/><path d="M217.8 1372.2L225 1359.6L210.6 1359.6Z" fill="#1b7d7b"/><path d="M220 1368.9L227.2 1356.3L212.8 1356.3Z" fill="#1b7d7b"/><path d="M222.5 1365.7L229.7 1353.1L215.3 1353.1Z" fill="#1b7d7b"/><path d="M225.2 1362.8L232.4 1350.2L218 1350.2Z" fill="#1b7d7b"/><path d="M228.2 1360.2L235.4 1347.6L221 1347.6Z" fill="#1b7d7b"/><path d="M231.4 1357.8L238.6 1345.2L224.2 1345.2Z" fill="#1b7d7b"/><path d="M234.8 1355.7L242 1343.1L227.6 1343.1Z" fill="#1b7d7b"/><path d="M238.5 1354.1L245.7 1341.5L231.3 1341.5Z" fill="#1b7d7b"/><path d="M242.4 1353.1L249.6 1340.5L235.2 1340.5Z" fill="#1b7d7b"/><path d="M246.3 1352.8L253.5 1340.2L239.1 1340.2Z" fill="#1b7d7b"/><path d="M250.3 1352.9L257.5 1340.3L243.1 1340.3Z" fill="#1b7d7b"/><path d="M254.3 1353.7L261.5 1341.1L247.1 1341.1Z" fill="#1b7d7b"/><path d="M258.1 1354.9L265.3 1342.3L250.9 1342.3Z" fill="#1b7d7b"/><path d="M261.7 1356.5L268.9 1343.9L254.5 1343.9Z" fill="#1b7d7b"/><path d="M265.2 1358.5L272.4 1345.9L258 1345.9Z" fill="#1b7d7b"/><path d="M268.4 1360.8L275.6 1348.2L261.2 1348.2Z" fill="#1b7d7b"/><path d="M271.5 1363.5L278.7 1350.9L264.3 1350.9Z" fill="#1b7d7b"/><path d="M274.3 1366.3L281.5 1353.7L267.1 1353.7Z" fill="#1b7d7b"/><path d="M277 1369.2L284.2 1356.6L269.8 1356.6Z" fill="#1b7d7b"/><path d="M279.4 1372.4L286.6 1359.8L272.2 1359.8Z" fill="#1b7d7b"/><path d="M281.6 1375.7L288.8 1363.1L274.4 1363.1Z" fill="#1b7d7b"/><path d="M283.7 1379.1L290.9 1366.5L276.5 1366.5Z" fill="#1b7d7b"/><path d="M285.7 1382.6L292.9 1370L278.5 1370Z" fill="#1b7d7b"/><path d="M287.6 1386.1L294.8 1373.5L280.4 1373.5Z" fill="#1b7d7b"/><path d="M289.4 1389.7L296.6 1377.1L282.2 1377.1Z" fill="#1b7d7b"/><path d="M291.1 1393.3L298.3 1380.7L283.9 1380.7Z" fill="#1b7d7b"/><path d="M292.5 1397.1L299.7 1384.5L285.3 1384.5Z" fill="#1b7d7b"/><path d="M293.8 1400.9L301 1388.3L286.6 1388.3Z" fill="#1b7d7b"/><path d="M294.8 1404.7L302 1392.1L287.6 1392.1Z" fill="#1b7d7b"/></g>
</g>
<rect x="196.5" y="810.5" width="762" height="619" fill="none" stroke="#000" stroke-width="4.6"/>
<line x1="183" y1="810.5" x2="196.5" y2="810.5" stroke="#000" stroke-width="4.2"/>
<text x="176" y="817.7" font-family='"Liberation Sans", sans-serif' font-size="27" font-weight="bold" text-anchor="end" >-40000</text>
<line x1="183" y1="965.3" x2="196.5" y2="965.3" stroke="#000" stroke-width="4.2"/>
<text x="176" y="972.5" font-family='"Liberation Sans", sans-serif' font-size="27" font-weight="bold" text-anchor="end" >-30000</text>
<line x1="183" y1="1120" x2="196.5" y2="1120" stroke="#000" stroke-width="4.2"/>
<text x="176" y="1127.2" font-family='"Liberation Sans", sans-serif' font-size="27" font-weight="bold" text-anchor="end" >-20000</text>
<line x1="183" y1="1274.8" x2="196.5" y2="1274.8" stroke="#000" stroke-width="4.2"/>
<text x="176" y="1282" font-family='"Liberation Sans", sans-serif' font-size="27" font-weight="bold" text-anchor="end" >-10000</text>
<line x1="183" y1="1429.5" x2="196.5" y2="1429.5" stroke="#000" stroke-width="4.2"/>
<text x="176" y="1436.7" font-family='"Liberation Sans", sans-serif' font-size="27" font-weight="bold" text-anchor="end" >0</text>
<line x1="189.7" y1="887.9" x2="196.5" y2="887.9" stroke="#000" stroke-width="4.2"/>
<line x1="189.7" y1="1042.6" x2="196.5" y2="1042.6" stroke="#000" stroke-width="4.2"/>
<line x1="189.7" y1="1197.4" x2="196.5" y2="1197.4" stroke="#000" stroke-width="4.2"/>
<line x1="189.7" y1="1352.1" x2="196.5" y2="1352.1" stroke="#000" stroke-width="4.2"/>
<line x1="196.3" y1="1429.5" x2="196.3" y2="1443" stroke="#000" stroke-width="4.2"/>
<text x="196.3" y="1469.9" font-family='"Liberation Sans", sans-serif' font-size="27" font-weight="bold" text-anchor="middle" >0</text>
<line x1="359.3" y1="1429.5" x2="359.3" y2="1443" stroke="#000" stroke-width="4.2"/>
<text x="359.3" y="1469.9" font-family='"Liberation Sans", sans-serif' font-size="27" font-weight="bold" text-anchor="middle" >30000</text>
<line x1="522.6" y1="1429.5" x2="522.6" y2="1443" stroke="#000" stroke-width="4.2"/>
<text x="522.6" y="1469.9" font-family='"Liberation Sans", sans-serif' font-size="27" font-weight="bold" text-anchor="middle" >60000</text>
<line x1="685.9" y1="1429.5" x2="685.9" y2="1443" stroke="#000" stroke-width="4.2"/>
<text x="685.9" y="1469.9" font-family='"Liberation Sans", sans-serif' font-size="27" font-weight="bold" text-anchor="middle" >90000</text>
<line x1="849" y1="1429.5" x2="849" y2="1443" stroke="#000" stroke-width="4.2"/>
<text x="849" y="1469.9" font-family='"Liberation Sans", sans-serif' font-size="27" font-weight="bold" text-anchor="middle" >120000</text>
<line x1="277.8" y1="1429.5" x2="277.8" y2="1436.3" stroke="#000" stroke-width="4.2"/>
<line x1="441" y1="1429.5" x2="441" y2="1436.3" stroke="#000" stroke-width="4.2"/>
<line x1="604.2" y1="1429.5" x2="604.2" y2="1436.3" stroke="#000" stroke-width="4.2"/>
<line x1="767.5" y1="1429.5" x2="767.5" y2="1436.3" stroke="#000" stroke-width="4.2"/>
<line x1="931" y1="1429.5" x2="931" y2="1436.3" stroke="#000" stroke-width="4.2"/>
<text x="457.5" y="1525" font-family='"Liberation Sans", sans-serif' font-size="35.2" font-weight="bold" text-anchor="start" >Z'(Ohm.cm<tspan font-size="22" dy="-21.5">2</tspan><tspan dy="21.5">)</tspan></text>
<g transform="translate(72.5 1130.6) rotate(-90)">
<text x="0" y="0" font-family='"Liberation Sans", sans-serif' font-size="35.2" font-weight="bold" text-anchor="middle" >Z''(Ohm.cm<tspan font-size="22" dy="-21.5">2</tspan><tspan dy="21.5">)</tspan></text>
</g>
<text x="211.5" y="870" font-family='"Liberation Serif", serif' font-size="58" font-weight="bold" text-anchor="start" >(c)</text>
<line x1="608" y1="1189.3" x2="670.5" y2="1189.3" stroke="#7fb5b3" stroke-width="2"/>
<path d="M640 1198.3L647.6 1185L632.4 1185Z" fill="#1b7d7b"/>
<text x="685.3" y="1198.3" font-family='"Liberation Serif", serif' font-size="28" font-weight="bold" text-anchor="start" >GO</text>
<line x1="608" y1="1229.6" x2="670.5" y2="1229.6" stroke="#eaa0a8" stroke-width="2"/>
<circle cx="640" cy="1229.6" r="6.3" fill="#e0101e"/>
<text x="685.3" y="1238.6" font-family='"Liberation Serif", serif' font-size="28" font-weight="bold" text-anchor="start" >Pure Epoxy</text>
<line x1="608" y1="1270.3" x2="670.5" y2="1270.3" stroke="#5e5e5e" stroke-width="2"/>
<rect x="634.2" y="1264.5" width="11.6" height="11.6" rx="1.2" fill="#050505"/>
<text x="685.3" y="1279.3" font-family='"Liberation Serif", serif' font-size="28" font-weight="bold" text-anchor="start" >Fe<tspan font-size="17" dy="7">3</tspan><tspan dy="-7">O</tspan><tspan font-size="17" dy="7">4</tspan><tspan dy="-7">-GO</tspan></text>
<line x1="608" y1="1310.7" x2="670.5" y2="1310.7" stroke="#7c7cd4" stroke-width="2"/>
<path d="M640 1301.1L648 1315.2L632 1315.2Z" fill="#1006c2"/>
<text x="682.3" y="1319.7" font-family='"Liberation Serif", serif' font-size="28" font-weight="bold" text-anchor="start" >Fe<tspan font-size="17" dy="7">3</tspan><tspan dy="-7">O</tspan><tspan font-size="17" dy="7">4</tspan><tspan dy="-7">-GO@</tspan></text>
<text x="684.3" y="1364.5" font-family='"Liberation Serif", serif' font-size="28" font-weight="bold" text-anchor="start" >poly(KH550+DA)</text>
</g>
<g clip-path="url(#clipD)">
<clipPath id="pcd"><rect x="1160.5" y="808.5" width="779" height="633"/></clipPath>
<g clip-path="url(#pcd)">
<path d="M1162 1438L1162.4 1436L1162.9 1433.9L1163.4 1431.6L1163.9 1429.1L1164.5 1426.3L1165.2 1423.3L1166 1420L1166.8 1416.5L1167.8 1412.6L1169 1408.5L1170.5 1403.9L1172.1 1399L1173.9 1393.7L1176 1387.9L1178.2 1381.6L1180.6 1374.8L1183.4 1367.3L1186.4 1359.2L1189.8 1350.4L1193.5 1340.8L1197.7 1330.4L1202.5 1319.2L1208.1 1307.1L1214.2 1294.5L1226.8 1269.4L1234.5 1251L1244.5 1231.1L1255.8 1211.2L1267.2 1195.5L1281.4 1172.8L1296.5 1162.5L1311.8 1154.6L1327 1152L1343.1 1151.8L1358.7 1155.8L1373.8 1163.7L1388 1172.5L1400.2 1182.7L1412.2 1194.7L1423.5 1208.3L1434.9 1220.5L1444.9 1232.5L1454.8 1244.4L1465.3 1256.6L1475.3 1268.6L1484.7 1279.4L1493.2 1290.8L1501 1301.6" fill="none" stroke="#5e5e5e" stroke-width="1.8"/>
<g><rect x="1156.5" y="1432.5" width="11" height="11" rx="1.2" fill="#050505"/><rect x="1156.9" y="1430.5" width="11" height="11" rx="1.2" fill="#050505"/><rect x="1157.4" y="1428.4" width="11" height="11" rx="1.2" fill="#050505"/><rect x="1157.9" y="1426.1" width="11" height="11" rx="1.2" fill="#050505"/><rect x="1158.4" y="1423.6" width="11" height="11" rx="1.2" fill="#050505"/><rect x="1159" y="1420.8" width="11" height="11" rx="1.2" fill="#050505"/><rect x="1159.7" y="1417.8" width="11" height="11" rx="1.2" fill="#050505"/><rect x="1160.5" y="1414.5" width="11" height="11" rx="1.2" fill="#050505"/><rect x="1161.3" y="1411" width="11" height="11" rx="1.2" fill="#050505"/><rect x="1162.3" y="1407.1" width="11" height="11" rx="1.2" fill="#050505"/><rect x="1163.5" y="1403" width="11" height="11" rx="1.2" fill="#050505"/><rect x="1165" y="1398.4" width="11" height="11" rx="1.2" fill="#050505"/><rect x="1166.6" y="1393.5" width="11" height="11" rx="1.2" fill="#050505"/><rect x="1168.4" y="1388.2" width="11" height="11" rx="1.2" fill="#050505"/><rect x="1170.5" y="1382.4" width="11" height="11" rx="1.2" fill="#050505"/><rect x="1172.7" y="1376.1" width="11" height="11" rx="1.2" fill="#050505"/><rect x="1175.1" y="1369.3" width="11" height="11" rx="1.2" fill="#050505"/><rect x="1177.9" y="1361.8" width="11" height="11" rx="1.2" fill="#050505"/><rect x="1180.9" y="1353.7" width="11" height="11" rx="1.2" fill="#050505"/><rect x="1184.3" y="1344.9" width="11" height="11" rx="1.2" fill="#050505"/><rect x="1188" y="1335.3" width="11" height="11" rx="1.2" fill="#050505"/><rect x="1192.2" y="1324.9" width="11" height="11" rx="1.2" fill="#050505"/><rect x="1197" y="1313.7" width="11" height="11" rx="1.2" fill="#050505"/><rect x="1202.6" y="1301.6" width="11" height="11" rx="1.2" fill="#050505"/><rect x="1208.7" y="1289" width="11" height="11" rx="1.2" fill="#050505"/><rect x="1221.3" y="1263.9" width="11" height="11" rx="1.2" fill="#050505"/><rect x="1229" y="1245.5" width="11" height="11" rx="1.2" fill="#050505"/><rect x="1239" y="1225.6" width="11" height="11" rx="1.2" fill="#050505"/><rect x="1250.3" y="1205.7" width="11" height="11" rx="1.2" fill="#050505"/><rect x="1261.7" y="1190" width="11" height="11" rx="1.2" fill="#050505"/><rect x="1275.9" y="1167.3" width="11" height="11" rx="1.2" fill="#050505"/><rect x="1291" y="1157" width="11" height="11" rx="1.2" fill="#050505"/><rect x="1306.3" y="1149.1" width="11" height="11" rx="1.2" fill="#050505"/><rect x="1321.5" y="1146.5" width="11" height="11" rx="1.2" fill="#050505"/><rect x="1337.6" y="1146.3" width="11" height="11" rx="1.2" fill="#050505"/><rect x="1353.2" y="1150.3" width="11" height="11" rx="1.2" fill="#050505"/><rect x="1368.3" y="1158.2" width="11" height="11" rx="1.2" fill="#050505"/><rect x="1382.5" y="1167" width="11" height="11" rx="1.2" fill="#050505"/><rect x="1394.7" y="1177.2" width="11" height="11" rx="1.2" fill="#050505"/><rect x="1406.7" y="1189.2" width="11" height="11" rx="1.2" fill="#050505"/><rect x="1418" y="1202.8" width="11" height="11" rx="1.2" fill="#050505"/><rect x="1429.4" y="1215" width="11" height="11" rx="1.2" fill="#050505"/><rect x="1439.4" y="1227" width="11" height="11" rx="1.2" fill="#050505"/><rect x="1449.3" y="1238.9" width="11" height="11" rx="1.2" fill="#050505"/><rect x="1459.8" y="1251.1" width="11" height="11" rx="1.2" fill="#050505"/><rect x="1469.8" y="1263.1" width="11" height="11" rx="1.2" fill="#050505"/><rect x="1479.2" y="1273.9" width="11" height="11" rx="1.2" fill="#050505"/><rect x="1487.7" y="1285.3" width="11" height="11" rx="1.2" fill="#050505"/><rect x="1495.5" y="1296.1" width="11" height="11" rx="1.2" fill="#050505"/></g>
<path d="M1178.5 1437L1178.8 1435L1179.3 1433L1179.9 1430.8L1180.6 1428.5L1181.4 1426.1L1182.2 1423.6L1183.1 1420.9L1184 1418L1185 1415L1186.1 1411.8L1187.2 1408.4L1188.5 1404.8L1189.8 1401L1191.2 1397L1192.7 1392.7L1194.3 1388.2L1196.1 1383.4L1198 1378.4L1200.2 1373.1L1202.5 1367.5L1205.1 1361.6L1207.8 1355.4L1210.7 1349.1L1213.6 1342.7L1216.6 1336.3L1219.5 1330L1222.6 1323.7L1225.7 1317.4L1228.9 1311.2L1232.3 1305.1L1235.8 1299L1247.8 1278L1258.7 1251L1268.4 1234.5L1278.6 1218.5L1289.9 1198.4L1301.3 1181.3L1314.1 1165.8L1326.9 1150.4L1343.1 1140.4L1359.6 1129.1L1376.6 1126.2" fill="none" stroke="#eaa0a8" stroke-width="1.8"/>
<g><circle cx="1178.5" cy="1437" r="6" fill="#e0101e"/><circle cx="1178.8" cy="1435" r="6" fill="#e0101e"/><circle cx="1179.3" cy="1433" r="6" fill="#e0101e"/><circle cx="1179.9" cy="1430.8" r="6" fill="#e0101e"/><circle cx="1180.6" cy="1428.5" r="6" fill="#e0101e"/><circle cx="1181.4" cy="1426.1" r="6" fill="#e0101e"/><circle cx="1182.2" cy="1423.6" r="6" fill="#e0101e"/><circle cx="1183.1" cy="1420.9" r="6" fill="#e0101e"/><circle cx="1184" cy="1418" r="6" fill="#e0101e"/><circle cx="1185" cy="1415" r="6" fill="#e0101e"/><circle cx="1186.1" cy="1411.8" r="6" fill="#e0101e"/><circle cx="1187.2" cy="1408.4" r="6" fill="#e0101e"/><circle cx="1188.5" cy="1404.8" r="6" fill="#e0101e"/><circle cx="1189.8" cy="1401" r="6" fill="#e0101e"/><circle cx="1191.2" cy="1397" r="6" fill="#e0101e"/><circle cx="1192.7" cy="1392.7" r="6" fill="#e0101e"/><circle cx="1194.3" cy="1388.2" r="6" fill="#e0101e"/><circle cx="1196.1" cy="1383.4" r="6" fill="#e0101e"/><circle cx="1198" cy="1378.4" r="6" fill="#e0101e"/><circle cx="1200.2" cy="1373.1" r="6" fill="#e0101e"/><circle cx="1202.5" cy="1367.5" r="6" fill="#e0101e"/><circle cx="1205.1" cy="1361.6" r="6" fill="#e0101e"/><circle cx="1207.8" cy="1355.4" r="6" fill="#e0101e"/><circle cx="1210.7" cy="1349.1" r="6" fill="#e0101e"/><circle cx="1213.6" cy="1342.7" r="6" fill="#e0101e"/><circle cx="1216.6" cy="1336.3" r="6" fill="#e0101e"/><circle cx="1219.5" cy="1330" r="6" fill="#e0101e"/><circle cx="1222.6" cy="1323.7" r="6" fill="#e0101e"/><circle cx="1225.7" cy="1317.4" r="6" fill="#e0101e"/><circle cx="1228.9" cy="1311.2" r="6" fill="#e0101e"/><circle cx="1232.3" cy="1305.1" r="6" fill="#e0101e"/><circle cx="1235.8" cy="1299" r="6" fill="#e0101e"/><circle cx="1247.8" cy="1278" r="6" fill="#e0101e"/><circle cx="1258.7" cy="1251" r="6" fill="#e0101e"/><circle cx="1268.4" cy="1234.5" r="6" fill="#e0101e"/><circle cx="1278.6" cy="1218.5" r="6" fill="#e0101e"/><circle cx="1289.9" cy="1198.4" r="6" fill="#e0101e"/><circle cx="1301.3" cy="1181.3" r="6" fill="#e0101e"/><circle cx="1314.1" cy="1165.8" r="6" fill="#e0101e"/><circle cx="1326.9" cy="1150.4" r="6" fill="#e0101e"/><circle cx="1343.1" cy="1140.4" r="6" fill="#e0101e"/><circle cx="1359.6" cy="1129.1" r="6" fill="#e0101e"/><circle cx="1376.6" cy="1126.2" r="6" fill="#e0101e"/></g>
<path d="M1162 1438L1162.2 1436L1162.4 1433.8L1162.6 1431.5L1162.9 1428.9L1163.1 1426.1L1163.4 1423L1163.8 1419.7L1164.2 1416.1L1164.7 1412.1L1165.4 1407.8L1166.2 1403.1L1167.2 1398.1L1168.3 1392.6L1169.6 1386.6L1171.1 1380.1L1172.8 1373L1174.7 1365.3L1176.8 1356.9L1179.3 1347.8L1182.2 1337.9L1185.5 1327.2L1189 1310.7L1196 1289.3L1201.8 1269.4L1209 1245.3L1217.5 1219.7L1226 1195.5L1238.8 1163.8L1250.7 1135.3L1266.3 1106.9L1282.3 1077.9L1300.5 1052.3L1320.6 1027.9L1341.1 1006L1362.4 988.4L1385.2 973.3L1408.5 959.6L1431.2 951.1L1454.8 936.3L1480.4 926.4L1500.8 919.5L1529.3 907.6L1555 900.5L1581.2 896.2L1611.6 888.8L1636.7 889.7L1665.2 891.1L1693.1 900.5L1721.3 916.1L1749.8 941.8L1774.3 975.7L1796.2 1015L1816.1 1060L1832.7 1109L1844.6 1163.7L1854 1214.1" fill="none" stroke="#7c7cd4" stroke-width="1.8"/>
<g><path d="M1162 1429.8L1169.6 1443.2L1154.4 1443.2Z" fill="#1006c2"/><path d="M1162.2 1427.8L1169.8 1441.2L1154.6 1441.2Z" fill="#1006c2"/><path d="M1162.4 1425.6L1170 1439L1154.8 1439Z" fill="#1006c2"/><path d="M1162.6 1423.3L1170.2 1436.7L1155 1436.7Z" fill="#1006c2"/><path d="M1162.9 1420.7L1170.5 1434.1L1155.3 1434.1Z" fill="#1006c2"/><path d="M1163.1 1417.9L1170.7 1431.3L1155.5 1431.3Z" fill="#1006c2"/><path d="M1163.4 1414.8L1171 1428.2L1155.8 1428.2Z" fill="#1006c2"/><path d="M1163.8 1411.5L1171.4 1424.9L1156.2 1424.9Z" fill="#1006c2"/><path d="M1164.2 1407.9L1171.8 1421.3L1156.6 1421.3Z" fill="#1006c2"/><path d="M1164.7 1403.9L1172.3 1417.3L1157.1 1417.3Z" fill="#1006c2"/><path d="M1165.4 1399.6L1173 1413L1157.8 1413Z" fill="#1006c2"/><path d="M1166.2 1394.9L1173.8 1408.3L1158.6 1408.3Z" fill="#1006c2"/><path d="M1167.2 1389.9L1174.8 1403.3L1159.6 1403.3Z" fill="#1006c2"/><path d="M1168.3 1384.4L1175.9 1397.8L1160.7 1397.8Z" fill="#1006c2"/><path d="M1169.6 1378.4L1177.2 1391.8L1162 1391.8Z" fill="#1006c2"/><path d="M1171.1 1371.9L1178.7 1385.3L1163.5 1385.3Z" fill="#1006c2"/><path d="M1172.8 1364.8L1180.4 1378.2L1165.2 1378.2Z" fill="#1006c2"/><path d="M1174.7 1357.1L1182.3 1370.5L1167.1 1370.5Z" fill="#1006c2"/><path d="M1176.8 1348.7L1184.4 1362.1L1169.2 1362.1Z" fill="#1006c2"/><path d="M1179.3 1339.6L1186.9 1353L1171.7 1353Z" fill="#1006c2"/><path d="M1182.2 1329.7L1189.8 1343.1L1174.6 1343.1Z" fill="#1006c2"/><path d="M1185.5 1319L1193.1 1332.4L1177.9 1332.4Z" fill="#1006c2"/><path d="M1189 1302.5L1196.6 1315.9L1181.4 1315.9Z" fill="#1006c2"/><path d="M1196 1281.1L1203.6 1294.5L1188.4 1294.5Z" fill="#1006c2"/><path d="M1201.8 1261.2L1209.4 1274.6L1194.2 1274.6Z" fill="#1006c2"/><path d="M1209 1237.1L1216.6 1250.5L1201.4 1250.5Z" fill="#1006c2"/><path d="M1217.5 1211.5L1225.1 1224.9L1209.9 1224.9Z" fill="#1006c2"/><path d="M1226 1187.3L1233.6 1200.7L1218.4 1200.7Z" fill="#1006c2"/><path d="M1238.8 1155.6L1246.4 1169L1231.2 1169Z" fill="#1006c2"/><path d="M1250.7 1127.1L1258.3 1140.5L1243.1 1140.5Z" fill="#1006c2"/><path d="M1266.3 1098.7L1273.9 1112.1L1258.7 1112.1Z" fill="#1006c2"/><path d="M1282.3 1069.7L1289.9 1083.1L1274.7 1083.1Z" fill="#1006c2"/><path d="M1300.5 1044.1L1308.1 1057.5L1292.9 1057.5Z" fill="#1006c2"/><path d="M1320.6 1019.7L1328.2 1033.1L1313 1033.1Z" fill="#1006c2"/><path d="M1341.1 997.8L1348.7 1011.2L1333.5 1011.2Z" fill="#1006c2"/><path d="M1362.4 980.2L1370 993.6L1354.8 993.6Z" fill="#1006c2"/><path d="M1385.2 965.1L1392.8 978.5L1377.6 978.5Z" fill="#1006c2"/><path d="M1408.5 951.4L1416.1 964.8L1400.9 964.8Z" fill="#1006c2"/><path d="M1431.2 942.9L1438.8 956.3L1423.6 956.3Z" fill="#1006c2"/><path d="M1454.8 928.1L1462.4 941.5L1447.2 941.5Z" fill="#1006c2"/><path d="M1480.4 918.2L1488 931.6L1472.8 931.6Z" fill="#1006c2"/><path d="M1500.8 911.3L1508.4 924.7L1493.2 924.7Z" fill="#1006c2"/><path d="M1529.3 899.4L1536.9 912.8L1521.7 912.8Z" fill="#1006c2"/><path d="M1555 892.3L1562.6 905.7L1547.4 905.7Z" fill="#1006c2"/><path d="M1581.2 888L1588.8 901.4L1573.6 901.4Z" fill="#1006c2"/><path d="M1611.6 880.6L1619.2 894L1604 894Z" fill="#1006c2"/><path d="M1636.7 881.5L1644.3 894.9L1629.1 894.9Z" fill="#1006c2"/><path d="M1665.2 882.9L1672.8 896.3L1657.6 896.3Z" fill="#1006c2"/><path d="M1693.1 892.3L1700.7 905.7L1685.5 905.7Z" fill="#1006c2"/><path d="M1721.3 907.9L1728.9 921.3L1713.7 921.3Z" fill="#1006c2"/><path d="M1749.8 933.6L1757.4 947L1742.2 947Z" fill="#1006c2"/><path d="M1774.3 967.5L1781.9 980.9L1766.7 980.9Z" fill="#1006c2"/><path d="M1796.2 1006.8L1803.8 1020.2L1788.6 1020.2Z" fill="#1006c2"/><path d="M1816.1 1051.8L1823.7 1065.2L1808.5 1065.2Z" fill="#1006c2"/><path d="M1832.7 1100.8L1840.3 1114.2L1825.1 1114.2Z" fill="#1006c2"/><path d="M1844.6 1155.5L1852.2 1168.9L1837 1168.9Z" fill="#1006c2"/><path d="M1854 1205.9L1861.6 1219.3L1846.4 1219.3Z" fill="#1006c2"/></g>
<path d="M1162 1438L1162.7 1436.1L1163.4 1434.2L1164.2 1432.1L1164.9 1429.9L1165.7 1427.6L1166.6 1425.2L1167.5 1422.7L1168.4 1420L1169.4 1417.2L1170.4 1414.3L1171.4 1411.2L1172.6 1408L1173.8 1404.6L1175 1401L1176.3 1397.3L1177.6 1393.3L1179.1 1389.2L1180.7 1384.9L1182.5 1380.5L1184.4 1375.8L1186.4 1370.9L1188.6 1365.8L1190.8 1360.3L1193 1354.6L1195.4 1348.6L1197.9 1342.6L1200.3 1336.6L1202.8 1330.6L1205.5 1324.7L1208.4 1318.8L1211.5 1313.1L1214.6 1307.4L1217.8 1301.8L1221.2 1296.2L1224.7 1290.8L1228.4 1285.4L1232.2 1280.1L1236 1274.8L1240 1269.7L1244.5 1265L1249.2 1260.6L1254.1 1256.3L1259.2 1252.3L1264.6 1248.6L1270.1 1245.2L1275.9 1242.3L1282 1240L1288.2 1238.1L1294.5 1236.6L1301 1235.6L1307.5 1235.3L1313.9 1235.8L1320.3 1236.9L1326.7 1238.2L1338.3 1243.9L1349.6 1249.5L1359.6 1259.5L1368.1 1273.7L1375.2 1292.2" fill="none" stroke="#7fb5b3" stroke-width="1.8"/>
<g><path d="M1162 1445.6L1169.2 1433L1154.8 1433Z" fill="#1b7d7b"/><path d="M1162.7 1443.7L1169.9 1431.1L1155.5 1431.1Z" fill="#1b7d7b"/><path d="M1163.4 1441.8L1170.6 1429.2L1156.2 1429.2Z" fill="#1b7d7b"/><path d="M1164.2 1439.7L1171.4 1427.1L1157 1427.1Z" fill="#1b7d7b"/><path d="M1164.9 1437.5L1172.1 1424.9L1157.7 1424.9Z" fill="#1b7d7b"/><path d="M1165.7 1435.2L1172.9 1422.6L1158.5 1422.6Z" fill="#1b7d7b"/><path d="M1166.6 1432.8L1173.8 1420.2L1159.4 1420.2Z" fill="#1b7d7b"/><path d="M1167.5 1430.3L1174.7 1417.7L1160.3 1417.7Z" fill="#1b7d7b"/><path d="M1168.4 1427.6L1175.6 1415L1161.2 1415Z" fill="#1b7d7b"/><path d="M1169.4 1424.8L1176.6 1412.2L1162.2 1412.2Z" fill="#1b7d7b"/><path d="M1170.4 1421.9L1177.6 1409.3L1163.2 1409.3Z" fill="#1b7d7b"/><path d="M1171.4 1418.8L1178.6 1406.2L1164.2 1406.2Z" fill="#1b7d7b"/><path d="M1172.6 1415.6L1179.8 1403L1165.4 1403Z" fill="#1b7d7b"/><path d="M1173.8 1412.2L1181 1399.6L1166.6 1399.6Z" fill="#1b7d7b"/><path d="M1175 1408.6L1182.2 1396L1167.8 1396Z" fill="#1b7d7b"/><path d="M1176.3 1404.9L1183.5 1392.3L1169.1 1392.3Z" fill="#1b7d7b"/><path d="M1177.6 1400.9L1184.8 1388.3L1170.4 1388.3Z" fill="#1b7d7b"/><path d="M1179.1 1396.8L1186.3 1384.2L1171.9 1384.2Z" fill="#1b7d7b"/><path d="M1180.7 1392.5L1187.9 1379.9L1173.5 1379.9Z" fill="#1b7d7b"/><path d="M1182.5 1388.1L1189.7 1375.5L1175.3 1375.5Z" fill="#1b7d7b"/><path d="M1184.4 1383.4L1191.6 1370.8L1177.2 1370.8Z" fill="#1b7d7b"/><path d="M1186.4 1378.5L1193.6 1365.9L1179.2 1365.9Z" fill="#1b7d7b"/><path d="M1188.6 1373.4L1195.8 1360.8L1181.4 1360.8Z" fill="#1b7d7b"/><path d="M1190.8 1367.9L1198 1355.3L1183.6 1355.3Z" fill="#1b7d7b"/><path d="M1193 1362.2L1200.2 1349.6L1185.8 1349.6Z" fill="#1b7d7b"/><path d="M1195.4 1356.2L1202.6 1343.6L1188.2 1343.6Z" fill="#1b7d7b"/><path d="M1197.9 1350.2L1205.1 1337.6L1190.7 1337.6Z" fill="#1b7d7b"/><path d="M1200.3 1344.2L1207.5 1331.6L1193.1 1331.6Z" fill="#1b7d7b"/><path d="M1202.8 1338.2L1210 1325.6L1195.6 1325.6Z" fill="#1b7d7b"/><path d="M1205.5 1332.3L1212.7 1319.7L1198.3 1319.7Z" fill="#1b7d7b"/><path d="M1208.4 1326.4L1215.6 1313.8L1201.2 1313.8Z" fill="#1b7d7b"/><path d="M1211.5 1320.7L1218.7 1308.1L1204.3 1308.1Z" fill="#1b7d7b"/><path d="M1214.6 1315L1221.8 1302.4L1207.4 1302.4Z" fill="#1b7d7b"/><path d="M1217.8 1309.4L1225 1296.8L1210.6 1296.8Z" fill="#1b7d7b"/><path d="M1221.2 1303.8L1228.4 1291.2L1214 1291.2Z" fill="#1b7d7b"/><path d="M1224.7 1298.4L1231.9 1285.8L1217.5 1285.8Z" fill="#1b7d7b"/><path d="M1228.4 1293L1235.6 1280.4L1221.2 1280.4Z" fill="#1b7d7b"/><path d="M1232.2 1287.7L1239.4 1275.1L1225 1275.1Z" fill="#1b7d7b"/><path d="M1236 1282.4L1243.2 1269.8L1228.8 1269.8Z" fill="#1b7d7b"/><path d="M1240 1277.3L1247.2 1264.7L1232.8 1264.7Z" fill="#1b7d7b"/><path d="M1244.5 1272.6L1251.7 1260L1237.3 1260Z" fill="#1b7d7b"/><path d="M1249.2 1268.2L1256.4 1255.6L1242 1255.6Z" fill="#1b7d7b"/><path d="M1254.1 1263.9L1261.3 1251.3L1246.9 1251.3Z" fill="#1b7d7b"/><path d="M1259.2 1259.9L1266.4 1247.3L1252 1247.3Z" fill="#1b7d7b"/><path d="M1264.6 1256.2L1271.8 1243.6L1257.4 1243.6Z" fill="#1b7d7b"/><path d="M1270.1 1252.8L1277.3 1240.2L1262.9 1240.2Z" fill="#1b7d7b"/><path d="M1275.9 1249.9L1283.1 1237.3L1268.7 1237.3Z" fill="#1b7d7b"/><path d="M1282 1247.6L1289.2 1235L1274.8 1235Z" fill="#1b7d7b"/><path d="M1288.2 1245.7L1295.4 1233.1L1281 1233.1Z" fill="#1b7d7b"/><path d="M1294.5 1244.2L1301.7 1231.6L1287.3 1231.6Z" fill="#1b7d7b"/><path d="M1301 1243.2L1308.2 1230.6L1293.8 1230.6Z" fill="#1b7d7b"/><path d="M1307.5 1242.9L1314.7 1230.3L1300.3 1230.3Z" fill="#1b7d7b"/><path d="M1313.9 1243.4L1321.1 1230.8L1306.7 1230.8Z" fill="#1b7d7b"/><path d="M1320.3 1244.5L1327.5 1231.9L1313.1 1231.9Z" fill="#1b7d7b"/><path d="M1326.7 1245.8L1333.9 1233.2L1319.5 1233.2Z" fill="#1b7d7b"/><path d="M1338.3 1251.5L1345.5 1238.9L1331.1 1238.9Z" fill="#1b7d7b"/><path d="M1349.6 1257.1L1356.8 1244.5L1342.4 1244.5Z" fill="#1b7d7b"/><path d="M1359.6 1267.1L1366.8 1254.5L1352.4 1254.5Z" fill="#1b7d7b"/><path d="M1368.1 1281.3L1375.3 1268.7L1360.9 1268.7Z" fill="#1b7d7b"/><path d="M1375.2 1299.8L1382.4 1287.2L1368 1287.2Z" fill="#1b7d7b"/></g>
</g>
<rect x="1161.5" y="808.5" width="778" height="631.5" fill="none" stroke="#000" stroke-width="4.6"/>
<line x1="1148" y1="850.6" x2="1161.5" y2="850.6" stroke="#000" stroke-width="4.2"/>
<text x="1141" y="857.8" font-family='"Liberation Sans", sans-serif' font-size="27" font-weight="bold" text-anchor="end" >-14000</text>
<line x1="1148" y1="934.8" x2="1161.5" y2="934.8" stroke="#000" stroke-width="4.2"/>
<text x="1141" y="942" font-family='"Liberation Sans", sans-serif' font-size="27" font-weight="bold" text-anchor="end" >-12000</text>
<line x1="1148" y1="1019" x2="1161.5" y2="1019" stroke="#000" stroke-width="4.2"/>
<text x="1141" y="1026.2" font-family='"Liberation Sans", sans-serif' font-size="27" font-weight="bold" text-anchor="end" >-10000</text>
<line x1="1148" y1="1103.2" x2="1161.5" y2="1103.2" stroke="#000" stroke-width="4.2"/>
<text x="1141" y="1110.4" font-family='"Liberation Sans", sans-serif' font-size="27" font-weight="bold" text-anchor="end" >-8000</text>
<line x1="1148" y1="1187.4" x2="1161.5" y2="1187.4" stroke="#000" stroke-width="4.2"/>
<text x="1141" y="1194.6" font-family='"Liberation Sans", sans-serif' font-size="27" font-weight="bold" text-anchor="end" >-6000</text>
<line x1="1148" y1="1271.6" x2="1161.5" y2="1271.6" stroke="#000" stroke-width="4.2"/>
<text x="1141" y="1278.8" font-family='"Liberation Sans", sans-serif' font-size="27" font-weight="bold" text-anchor="end" >-4000</text>
<line x1="1148" y1="1355.8" x2="1161.5" y2="1355.8" stroke="#000" stroke-width="4.2"/>
<text x="1141" y="1363" font-family='"Liberation Sans", sans-serif' font-size="27" font-weight="bold" text-anchor="end" >-2000</text>
<line x1="1148" y1="1440" x2="1161.5" y2="1440" stroke="#000" stroke-width="4.2"/>
<text x="1141" y="1447.2" font-family='"Liberation Sans", sans-serif' font-size="27" font-weight="bold" text-anchor="end" >0</text>
<line x1="1154.7" y1="892.7" x2="1161.5" y2="892.7" stroke="#000" stroke-width="4.2"/>
<line x1="1154.7" y1="976.9" x2="1161.5" y2="976.9" stroke="#000" stroke-width="4.2"/>
<line x1="1154.7" y1="1061.1" x2="1161.5" y2="1061.1" stroke="#000" stroke-width="4.2"/>
<line x1="1154.7" y1="1145.3" x2="1161.5" y2="1145.3" stroke="#000" stroke-width="4.2"/>
<line x1="1154.7" y1="1229.5" x2="1161.5" y2="1229.5" stroke="#000" stroke-width="4.2"/>
<line x1="1154.7" y1="1313.7" x2="1161.5" y2="1313.7" stroke="#000" stroke-width="4.2"/>
<line x1="1154.7" y1="1397.9" x2="1161.5" y2="1397.9" stroke="#000" stroke-width="4.2"/>
<line x1="1161.3" y1="1440" x2="1161.3" y2="1453.5" stroke="#000" stroke-width="4.2"/>
<text x="1161.3" y="1479.7" font-family='"Liberation Sans", sans-serif' font-size="27" font-weight="bold" text-anchor="middle" >0</text>
<line x1="1290.9" y1="1440" x2="1290.9" y2="1453.5" stroke="#000" stroke-width="4.2"/>
<text x="1290.9" y="1479.7" font-family='"Liberation Sans", sans-serif' font-size="27" font-weight="bold" text-anchor="middle" >10000</text>
<line x1="1420.5" y1="1440" x2="1420.5" y2="1453.5" stroke="#000" stroke-width="4.2"/>
<text x="1420.5" y="1479.7" font-family='"Liberation Sans", sans-serif' font-size="27" font-weight="bold" text-anchor="middle" >20000</text>
<line x1="1550.1" y1="1440" x2="1550.1" y2="1453.5" stroke="#000" stroke-width="4.2"/>
<text x="1550.1" y="1479.7" font-family='"Liberation Sans", sans-serif' font-size="27" font-weight="bold" text-anchor="middle" >30000</text>
<line x1="1679.7" y1="1440" x2="1679.7" y2="1453.5" stroke="#000" stroke-width="4.2"/>
<text x="1679.7" y="1479.7" font-family='"Liberation Sans", sans-serif' font-size="27" font-weight="bold" text-anchor="middle" >40000</text>
<line x1="1809.3" y1="1440" x2="1809.3" y2="1453.5" stroke="#000" stroke-width="4.2"/>
<text x="1809.3" y="1479.7" font-family='"Liberation Sans", sans-serif' font-size="27" font-weight="bold" text-anchor="middle" >50000</text>
<line x1="1938.9" y1="1440" x2="1938.9" y2="1453.5" stroke="#000" stroke-width="4.2"/>
<text x="1938.9" y="1479.7" font-family='"Liberation Sans", sans-serif' font-size="27" font-weight="bold" text-anchor="middle" >60000</text>
<line x1="1226.1" y1="1440" x2="1226.1" y2="1446.8" stroke="#000" stroke-width="4.2"/>
<line x1="1355.7" y1="1440" x2="1355.7" y2="1446.8" stroke="#000" stroke-width="4.2"/>
<line x1="1485.3" y1="1440" x2="1485.3" y2="1446.8" stroke="#000" stroke-width="4.2"/>
<line x1="1614.9" y1="1440" x2="1614.9" y2="1446.8" stroke="#000" stroke-width="4.2"/>
<line x1="1744.5" y1="1440" x2="1744.5" y2="1446.8" stroke="#000" stroke-width="4.2"/>
<line x1="1874.1" y1="1440" x2="1874.1" y2="1446.8" stroke="#000" stroke-width="4.2"/>
<text x="1447" y="1532.5" font-family='"Liberation Sans", sans-serif' font-size="35.2" font-weight="bold" text-anchor="start" >Z'(Ohm.cm<tspan font-size="22" dy="-21.5">2</tspan><tspan dy="21.5">)</tspan></text>
<g transform="translate(1038 1139.5) rotate(-90)">
<text x="0" y="0" font-family='"Liberation Sans", sans-serif' font-size="35.2" font-weight="bold" text-anchor="middle" >Z''(Ohm.cm<tspan font-size="22" dy="-21.5">2</tspan><tspan dy="21.5">)</tspan></text>
</g>
<text x="1178.5" y="872" font-family='"Liberation Serif", serif' font-size="58" font-weight="bold" text-anchor="start" >(d)</text>
<line x1="1547" y1="1219.8" x2="1611" y2="1219.8" stroke="#7fb5b3" stroke-width="2"/>
<path d="M1579.2 1228.8L1586.8 1215.5L1571.6 1215.5Z" fill="#1b7d7b"/>
<text x="1625.3" y="1228.8" font-family='"Liberation Serif", serif' font-size="28" font-weight="bold" text-anchor="start" >GO</text>
<line x1="1547" y1="1260.3" x2="1611" y2="1260.3" stroke="#eaa0a8" stroke-width="2"/>
<circle cx="1579.2" cy="1260.3" r="6.3" fill="#e0101e"/>
<text x="1625.3" y="1269.3" font-family='"Liberation Serif", serif' font-size="28" font-weight="bold" text-anchor="start" >Pure Epoxy</text>
<line x1="1547" y1="1301.6" x2="1611" y2="1301.6" stroke="#5e5e5e" stroke-width="2"/>
<rect x="1573.4" y="1295.8" width="11.6" height="11.6" rx="1.2" fill="#050505"/>
<text x="1625.3" y="1310.6" font-family='"Liberation Serif", serif' font-size="28" font-weight="bold" text-anchor="start" >Fe<tspan font-size="17" dy="7">3</tspan><tspan dy="-7">O</tspan><tspan font-size="17" dy="7">4</tspan><tspan dy="-7">-GO</tspan></text>
<line x1="1547" y1="1342.3" x2="1611" y2="1342.3" stroke="#7c7cd4" stroke-width="2"/>
<path d="M1579.2 1332.7L1587.2 1346.8L1571.2 1346.8Z" fill="#1006c2"/>
<text x="1622.3" y="1351.3" font-family='"Liberation Serif", serif' font-size="28" font-weight="bold" text-anchor="start" >Fe<tspan font-size="17" dy="7">3</tspan><tspan dy="-7">O</tspan><tspan font-size="17" dy="7">4</tspan><tspan dy="-7">-GO@</tspan></text>
<text x="1624.3" y="1397.8" font-family='"Liberation Serif", serif' font-size="28" font-weight="bold" text-anchor="start" >poly(KH550+DA)</text>
</g>
<rect x="215" y="2095" width="488" height="99" fill="#f3f3f3"/>
<line x1="215" y1="2195" x2="703" y2="2195" stroke="#707070" stroke-width="4.5" />
<rect x="848" y="2095" width="417" height="99" fill="#f3f3f3"/>
<line x1="848" y1="2195" x2="1265" y2="2195" stroke="#707070" stroke-width="4.5" />
<path d="M1417 2095 L1915 2095 Q1924.3 2098 1924.3 2110 L1924.3 2179 Q1924.3 2194.7 1908 2194.7 L1417 2194.7 Z" fill="#f4f4f4"/>
<path d="M1917 2096 Q1924.3 2099 1924.3 2111 L1924.3 2179 Q1924.3 2194.7 1908 2194.7 L1417 2194.7" fill="none" stroke="#5c5c5c" stroke-width="4.3"/>
<rect x="91" y="1718.5" width="1829" height="381" fill="#4b4bf7"/>
<path d="M185 1706.5L185 1709.1L185 1712.5L185 1716.6L185 1721.1L185 1726L185 1731.1L185 1736.1L185 1741.1L185 1745.8L185 1750L185 1754L184.9 1757.9L184.8 1761.9L184.7 1765.7L184.5 1769.5L184.5 1773.1L184.5 1776.6L184.5 1779.9L184.7 1783.1L185 1786L185.4 1788.7L185.8 1791.1L186.3 1793.3L186.9 1795.3L187.5 1797.2L188.3 1799.1L189.1 1800.8L190 1802.5L191.1 1804.2L192.2 1806L193.5 1807.8L195.1 1809.5L196.8 1811.1L198.6 1812.7L200.4 1814.2L202.3 1815.8L204.2 1817.3L206 1818.9L207.7 1820.4L209.2 1822L210.6 1823.5L212 1825L213.3 1826.4L214.6 1827.8L215.8 1829.2L217 1830.7L218 1832.3L219 1834L219.8 1835.9L220.6 1838L221.3 1840.3L221.8 1842.9L222.3 1845.6L222.7 1848.4L223 1851.3L223.2 1854.3L223.3 1857.3L223.3 1860.3L223.2 1863.2L223 1866L222.6 1868.8L222.2 1871.5L221.6 1874.3L220.8 1877.1L220 1879.9L219.1 1882.6L218.2 1885.3L217.2 1887.8L216.1 1890.3L215 1892.6L213.9 1894.8L212.7 1896.9L211.4 1899L210.1 1901L208.7 1902.8L207.2 1904.6L205.8 1906.4L204.2 1908L202.6 1909.5L201 1911L199.2 1912.3L197.2 1913.4L194.9 1914.4L192.7 1915.3L190.4 1916.1L188.2 1916.9L186.2 1917.8L184.4 1918.7L183 1919.8L182 1921L181.4 1922.4L181.2 1924L181.3 1925.7L181.7 1927.5L182.2 1929.4L182.9 1931.2L183.6 1933L184.4 1934.8L185.3 1936.5L186 1938L186.7 1939.4L187.5 1940.7L188.3 1941.9L189.2 1943L190.2 1944.1L191.2 1945.2L192.3 1946.3L193.4 1947.5L194.7 1948.7L196 1950L197.4 1951.3L199 1952.6L200.6 1953.9L202.3 1955.3L204.1 1956.6L206 1958.1L207.8 1959.6L209.7 1961.3L211.6 1963.2L213.5 1965.3L215.4 1967.6L217.4 1970.1L219.4 1972.9L221.4 1975.7L223.5 1978.7L225.5 1981.7L227.6 1984.8L229.6 1987.8L231.5 1990.8L233.4 1993.7L235.2 1996.5L237.1 1999.4L238.9 2002.2L240.7 2005.1L242.4 2007.9L244.1 2010.7L245.8 2013.6L247.4 2016.4L249 2019.3L250.5 2022.1L252 2024.9L253.4 2027.8L254.8 2030.6L256.1 2033.5L257.4 2036.3L258.6 2039.2L259.8 2042.1L261 2044.9L262.1 2047.8L263.2 2050.6L264.3 2053.5L265.3 2056.4L266.3 2059.3L267.2 2062.3L268.1 2065.2L268.9 2068.1L269.7 2071L270.5 2073.7L271.2 2076.4L271.8 2079L272.4 2081.6L272.8 2084.2L273.3 2086.8L273.6 2089.3L273.9 2091.8L274.2 2094.1L274.4 2096.2L274.7 2098.1L274.8 2099.7L275 2101" fill="none" stroke="#7f7f7a" stroke-width="23" stroke-linejoin="round"/>
<path d="M364 1719L364 1723.3L364 1729.1L364 1735.9L364 1743.5L364 1751.6L364 1760L364 1768.3L364 1776.3L364 1783.6L364 1790L364 1795.7L364.2 1801L364.3 1806L364.5 1810.8L364.6 1815.3L364.7 1819.6L364.7 1823.8L364.6 1827.8L364.3 1831.7L363.8 1835.6L363.2 1839.3L362.5 1842.8L361.7 1846L360.8 1849.1L359.7 1852.1L358.6 1855.1L357.3 1858L355.9 1860.9L354.3 1863.8L352.5 1866.9L350.5 1870L348.1 1873.2L345.4 1876.4L342.6 1879.6L339.7 1882.7L336.8 1885.9L333.9 1889L331.3 1892.1L328.9 1895.2L326.9 1898.2L325.1 1901.2L323.4 1904.1L321.8 1906.9L320.4 1909.8L319.1 1912.6L318 1915.4L317.1 1918.2L316.5 1921L316.1 1923.8L316 1926.6L316.3 1929.4L317 1932.1L318 1934.8L319.3 1937.4L320.8 1940.1L322.3 1942.8L323.9 1945.6L325.5 1948.6L326.8 1951.7L328 1955L329 1958.5L330 1962.2L331 1966.1L331.9 1970.1L332.8 1974.2L333.6 1978.3L334.4 1982.5L335.2 1986.7L335.9 1990.8L336.6 1994.8L337.2 1998.7L337.7 2002.4L338.2 2006L338.6 2009.5L339 2013.2L339.3 2016.9L339.7 2020.9L340.1 2025.1L340.6 2029.6L341.1 2034.6L341.7 2040.3L342.4 2046.9L343.2 2054.1L344 2061.7L344.8 2069.3L345.6 2076.7L346.3 2083.6L346.9 2089.8L347.5 2095.1L347.9 2099" fill="none" stroke="#7f7f7a" stroke-width="23" stroke-linejoin="round"/>
<path d="M364 1788L365.7 1788.6L367.8 1789.2L370.4 1790L373.3 1790.8L376.4 1791.8L379.6 1792.8L382.9 1794.1L386.2 1795.4L389.3 1797L392.3 1798.7L395.2 1800.6L398.2 1802.7L401.2 1805L404.2 1807.5L407.2 1810L410.2 1812.7L413 1815.5L415.7 1818.4L418.3 1821.3L420.7 1824.3L422.9 1827.4L424.9 1830.6L426.8 1833.9L428.6 1837.3L430.3 1840.8L431.9 1844.4L433.4 1847.9L434.8 1851.4L436.3 1855L437.7 1858.4L439.1 1861.9L440.4 1865.4L441.6 1869L442.8 1872.6L443.9 1876.2L445 1879.7L446.1 1883.1L447.1 1886.4L448.1 1889.6L449.1 1892.5L450.1 1895.2L451.2 1897.7L452.2 1900.1L453.2 1902.3L454.2 1904.4L455.1 1906.5L456 1908.6L456.7 1910.7L457.2 1912.9L457.6 1915.2L457.8 1917.7L457.7 1920.4L457.6 1923.3L457.2 1926.2L456.8 1929L456.4 1931.8L455.9 1934.3L455.5 1936.6L455.2 1938.5L455 1940" fill="none" stroke="#7f7f7a" stroke-width="23" stroke-linejoin="round"/>
<path d="M518.6 1703L519.9 1704.5L521.5 1706.3L523.5 1708.5L525.7 1711L528 1713.6L530.5 1716.5L533.1 1719.4L535.6 1722.4L538.2 1725.3L540.6 1728.2L543 1731.1L545.4 1734.2L547.9 1737.5L550.4 1740.8L553 1744.2L555.5 1747.5L558.1 1750.7L560.6 1753.9L563.2 1756.9L565.7 1759.6L568.3 1762.1L571 1764.4L573.7 1766.5L576.4 1768.6L579.2 1770.5L581.8 1772.4L584.3 1774.3L586.7 1776.3L588.9 1778.4L590.9 1780.6L592.6 1782.9L594.2 1785.3L595.6 1787.6L596.8 1790L597.9 1792.5L598.9 1795L599.8 1797.6L600.7 1800.2L601.6 1802.9L602.4 1805.7L603.2 1808.6L603.8 1811.6L604.4 1814.8L604.9 1818L605.3 1821.3L605.7 1824.5L606.2 1827.8L606.6 1831L607.1 1834.1L607.6 1837.1L608.2 1840L608.8 1842.9L609.5 1845.7L610.1 1848.4L610.8 1851.1L611.5 1853.8L612.1 1856.5L612.8 1859.1L613.4 1861.8L613.9 1864.4L614.4 1867L615 1869.7L615.5 1872.3L616 1874.9L616.5 1877.5L617 1880L617.4 1882.5L617.7 1884.9L617.9 1887.3L618.1 1889.5L618.2 1891.6L618.3 1893.7L618.3 1895.7L618.2 1897.6L618.1 1899.5L617.9 1901.3L617.6 1903.1L617.2 1904.8L616.7 1906.4L616 1908L615.2 1909.5L614.4 1911L613.5 1912.4L612.4 1913.7L611.3 1915L610 1916.2L608.6 1917.4L607 1918.6L605.3 1919.7L603.4 1920.9L601.3 1922L598.8 1923.1L596.2 1924.2L593.4 1925.2L590.5 1926.2L587.5 1927.2L584.5 1928.2L581.6 1929.2L578.8 1930.3L576.2 1931.4L573.7 1932.5L571.1 1933.7L568.5 1934.8L565.9 1936L563.4 1937.2L561 1938.4L558.7 1939.7L556.6 1941L554.8 1942.5L553.1 1944L551.7 1945.6L550.5 1947.3L549.4 1949L548.5 1950.8L547.8 1952.6L547.2 1954.5L546.7 1956.5L546.3 1958.5L546 1960.6L545.8 1962.8L545.7 1965.1L545.6 1967.4L545.7 1969.9L545.9 1972.4L546.2 1975L546.6 1977.6L547.1 1980.2L547.6 1982.9L548.2 1985.5L548.9 1988L549.6 1990.5L550.4 1993L551.3 1995.5L552.3 1997.9L553.3 2000.4L554.4 2002.9L555.6 2005.4L556.8 2007.9L558.1 2010.5L559.4 2013.1L560.8 2015.7L562.4 2018.4L564 2021.1L565.7 2023.9L567.4 2026.6L569.2 2029.4L571 2032.1L572.7 2034.9L574.5 2037.7L576.2 2040.4L577.9 2043.1L579.6 2045.9L581.3 2048.7L583 2051.5L584.7 2054.3L586.4 2057L588 2059.8L589.7 2062.4L591.3 2065.1L592.9 2067.6L594.5 2070.1L596.1 2072.7L597.7 2075.3L599.4 2077.8L601 2080.3L602.5 2082.7L603.9 2084.9L605.3 2087L606.5 2088.9L607.6 2090.6L608.5 2092.1L609.4 2093.3L610.1 2094.5L610.7 2095.4L611.2 2096.2L611.7 2096.9L612.1 2097.6L612.4 2098.1L612.7 2098.6L613 2099" fill="none" stroke="#7f7f7a" stroke-width="23" stroke-linejoin="round"/>
<path d="M263.6 2101.5L286.4 2098.3L268 2117Z" fill="#7f7f7a"/>
<line x1="156.6" y1="1695" x2="156.6" y2="1790" stroke="#d8143a" stroke-width="3.6" />
<path d="M157 1814L144.5 1785L169.5 1785Z" fill="#ff1a2a"/>
<line x1="185" y1="1719" x2="185" y2="1783" stroke="#679a66" stroke-width="11.5" /><path d="M186.5 1814L169.5 1783.7L200.5 1782.3Z" fill="#22ee3c"/>
<line x1="364.5" y1="1693" x2="364.5" y2="1719" stroke="#8fdc8f" stroke-width="4.5" /><line x1="364.5" y1="1719" x2="365" y2="1779" stroke="#679a66" stroke-width="11.5" /><path d="M365.6 1808L349.5 1779.3L380.5 1778.7Z" fill="#22ee3c"/>
<line x1="361.3" y1="1861.3" x2="331" y2="1901" stroke="#679a66" stroke-width="11.5" /><path d="M319 1929L316.3 1894.7L345.7 1907.3Z" fill="#22ee3c"/>
<line x1="234.8" y1="1993.7" x2="258.5" y2="2052" stroke="#679a66" stroke-width="11.5" /><path d="M270 2082L244.5 2057.4L272.5 2046.6Z" fill="#22ee3c"/>
<line x1="341.4" y1="1999.4" x2="345.7" y2="2061.9" stroke="#679a66" stroke-width="11.5" /><path d="M347.1 2090.3L330.2 2062.7L361.2 2061.1Z" fill="#22ee3c"/>
<line x1="522" y1="1707" x2="563" y2="1756.5" stroke="#679a66" stroke-width="11.5" /><path d="M578.3 1778.5L550.3 1765.3L575.7 1747.7Z" fill="#22ee3c"/>
<line x1="563.6" y1="2015.2" x2="599.2" y2="2070.2" stroke="#679a66" stroke-width="11.5" /><path d="M612.8 2099L584.7 2077L613.7 2063.4Z" fill="#22ee3c"/>
<path d="M789.3 1709.2L789.3 1711L789.3 1713.4L789.3 1716.3L789.3 1719.5L789.3 1722.9L789.3 1726.5L789.3 1730.1L789.3 1733.6L789.3 1736.9L789.3 1740L789.3 1742.8L789.1 1745.6L789 1748.2L788.8 1750.8L788.7 1753.4L788.6 1756L788.6 1758.7L788.7 1761.4L788.9 1764.1L789.3 1767L789.8 1770L790.4 1773.1L791.1 1776.3L791.9 1779.6L792.8 1782.9L793.8 1786.1L795 1789.4L796.3 1792.6L797.7 1795.8L799.3 1798.8L801.2 1801.7L803.5 1804.5L806 1807.2L808.7 1809.8L811.5 1812.4L814.3 1815.1L816.9 1817.8L819.3 1820.6L821.5 1823.5L823.2 1826.6L824.6 1829.9L825.8 1833.2L826.8 1836.8L827.6 1840.3L828.3 1844L828.7 1847.7L829.1 1851.4L829.2 1855.1L829.2 1858.8L829.1 1862.4L828.8 1866L828.4 1869.8L827.7 1873.6L827 1877.4L826 1881.2L824.9 1885L823.7 1888.6L822.3 1892L820.8 1895.2L819.2 1898.2L817.2 1900.8L814.8 1903.2L812.1 1905.2L809.2 1907.1L806.2 1908.9L803.3 1910.7L800.6 1912.5L798.2 1914.4L796.3 1916.6L795 1919L794.2 1921.7L793.7 1924.5L793.5 1927.5L793.5 1930.6L793.9 1933.8L794.5 1937.1L795.4 1940.3L796.5 1943.6L797.8 1946.8L799.3 1950L801.2 1953.1L803.5 1956.2L806.2 1959.4L809.1 1962.5L812.2 1965.6L815.4 1968.8L818.6 1971.9L821.7 1975.2L824.5 1978.5L827.1 1981.8L829.4 1985.2L831.6 1988.6L833.8 1992.1L835.8 1995.6L837.8 1999.2L839.7 2002.8L841.6 2006.4L843.4 2010.1L845.2 2013.8L847 2017.6L848.8 2021.4L850.5 2025.2L852.2 2029.1L853.9 2033L855.5 2037L857.1 2040.9L858.6 2045L860.1 2049.1L861.5 2053.2L862.9 2057.4L864.3 2061.9L865.6 2066.7L866.9 2071.8L868.2 2077L869.4 2082.2L870.6 2087.1L871.6 2091.7L872.6 2095.9L873.4 2099.3L874 2102" fill="none" stroke="#7f7f7a" stroke-width="23" stroke-linejoin="round"/>
<path d="M968.4 1719.2L968.4 1723L968.4 1728L968.4 1733.9L968.4 1740.4L968.4 1747.5L968.4 1754.9L968.4 1762.3L968.4 1769.6L968.4 1776.5L968.4 1782.8L968.5 1788.8L968.6 1794.9L968.8 1801L969.1 1807L969.3 1812.9L969.4 1818.7L969.4 1824.2L969.3 1829.4L969 1834.2L968.4 1838.6L967.6 1842.5L966.7 1846L965.6 1849.1L964.3 1851.9L962.9 1854.5L961.4 1856.9L959.8 1859.2L958.1 1861.5L956.4 1863.9L954.5 1866.4L952.5 1868.9L950.2 1871.4L947.7 1873.7L945.1 1876.1L942.4 1878.3L939.8 1880.6L937.2 1883L934.8 1885.3L932.5 1887.8L930.6 1890.3L928.9 1892.9L927.2 1895.5L925.7 1898.2L924.2 1900.9L922.9 1903.7L921.7 1906.5L920.7 1909.3L919.9 1912.2L919.2 1915.1L918.7 1918.1L918.4 1921.1L918.3 1924.2L918.5 1927.4L918.7 1930.6L919.2 1933.8L919.7 1937.1L920.3 1940.3L921 1943.6L921.8 1946.8L922.6 1950L923.5 1953.1L924.5 1956.2L925.7 1959.3L926.9 1962.3L928.2 1965.4L929.6 1968.5L930.9 1971.7L932.2 1974.9L933.4 1978.3L934.6 1981.8L935.7 1985.5L936.8 1989.2L937.8 1993.2L938.9 1997.1L939.9 2001.2L940.9 2005.3L941.9 2009.4L942.8 2013.5L943.7 2017.6L944.5 2021.6L945.3 2025.6L946 2029.6L946.6 2033.6L947.3 2037.6L947.9 2041.6L948.4 2045.6L949 2049.6L949.5 2053.6L950 2057.5L950.5 2061.4L951 2065.4L951.5 2069.7L952 2074.1L952.4 2078.5L952.9 2082.8L953.3 2086.9L953.7 2090.7L954 2094.1L954.3 2097L954.5 2099.2" fill="none" stroke="#7f7f7a" stroke-width="23" stroke-linejoin="round"/>
<path d="M972 1782.8L973.8 1783.4L976.1 1784.2L978.9 1785L982 1786L985.4 1787.1L988.8 1788.3L992.4 1789.7L995.8 1791.2L999.1 1792.9L1002.2 1794.8L1005.2 1796.9L1008.2 1799.3L1011.4 1801.8L1014.5 1804.6L1017.5 1807.5L1020.5 1810.4L1023.3 1813.5L1025.8 1816.5L1028.1 1819.6L1030.1 1822.6L1031.7 1825.6L1032.9 1828.7L1033.9 1831.9L1034.6 1835.1L1035.2 1838.3L1035.6 1841.6L1036.1 1844.8L1036.6 1848.1L1037.2 1851.3L1038 1854.5L1038.9 1857.7L1039.8 1860.9L1040.8 1864L1041.8 1867.2L1042.7 1870.4L1043.8 1873.6L1044.8 1876.8L1045.8 1879.9L1046.9 1883.1L1048 1886.3L1049.2 1889.5L1050.4 1892.8L1051.7 1896.1L1053.1 1899.4L1054.5 1902.7L1055.8 1905.9L1057 1909.1L1058.1 1912.2L1059.1 1915.2L1059.9 1918.1L1060.5 1920.9L1061 1923.8L1061.3 1926.6L1061.5 1929.4L1061.6 1932L1061.7 1934.5L1061.8 1936.8L1061.8 1938.9L1061.8 1940.6L1061.9 1942" fill="none" stroke="#7f7f7a" stroke-width="23" stroke-linejoin="round"/>
<path d="M1129.6 1703.3L1130.8 1704.7L1132.2 1706.5L1134 1708.6L1135.9 1710.9L1138.1 1713.5L1140.3 1716.1L1142.6 1718.9L1145 1721.7L1147.3 1724.4L1149.5 1727.1L1151.7 1729.7L1154.1 1732.4L1156.5 1735.2L1158.9 1738L1161.4 1740.8L1163.9 1743.7L1166.3 1746.5L1168.7 1749.4L1171.1 1752.2L1173.3 1755L1175.5 1757.8L1177.6 1760.5L1179.6 1763.2L1181.6 1765.9L1183.6 1768.6L1185.6 1771.4L1187.5 1774.2L1189.4 1777L1191.3 1779.9L1193.2 1782.8L1195.1 1785.8L1197 1788.9L1199 1792.1L1200.9 1795.3L1202.8 1798.5L1204.6 1801.8L1206.4 1805L1208.1 1808.3L1209.6 1811.5L1211.1 1814.7L1212.5 1817.9L1213.7 1821.1L1214.9 1824.2L1216.1 1827.4L1217.1 1830.6L1218.1 1833.8L1218.9 1837L1219.7 1840.1L1220.5 1843.3L1221.1 1846.5L1221.7 1849.7L1222.1 1852.9L1222.5 1856.2L1222.8 1859.4L1223 1862.6L1223.1 1865.9L1223.2 1869L1223.2 1872.2L1223.2 1875.3L1223.1 1878.3L1223.1 1881.3L1223.1 1884.3L1223.1 1887.2L1223.1 1890.1L1223 1893L1222.8 1895.8L1222.3 1898.5L1221.6 1901.2L1220.5 1903.8L1219 1906.2L1217.1 1908.5L1214.7 1910.6L1212 1912.6L1209 1914.5L1205.8 1916.4L1202.5 1918.2L1199.1 1920.1L1195.7 1922L1192.4 1924L1189.2 1926.1L1186 1928.3L1182.6 1930.6L1179 1933L1175.4 1935.4L1171.8 1937.8L1168.4 1940.2L1165.1 1942.7L1162.1 1945.2L1159.5 1947.6L1157.4 1950L1155.7 1952.4L1154.3 1954.7L1153.2 1956.9L1152.4 1959.2L1151.8 1961.5L1151.5 1963.8L1151.3 1966.1L1151.3 1968.6L1151.3 1971.2L1151.5 1973.9L1151.8 1976.8L1152.4 1979.8L1153.1 1982.9L1154 1986.1L1155.1 1989.3L1156.2 1992.6L1157.5 1995.9L1158.8 1999.2L1160.1 2002.5L1161.4 2005.7L1162.7 2008.9L1164.1 2012.1L1165.6 2015.2L1167.1 2018.4L1168.7 2021.6L1170.4 2024.8L1172 2028L1173.8 2031.1L1175.5 2034.3L1177.3 2037.5L1179.1 2040.7L1181 2043.9L1182.8 2047.1L1184.8 2050.3L1186.8 2053.4L1188.8 2056.6L1190.8 2059.8L1192.9 2063L1195 2066.2L1197.2 2069.4L1199.5 2072.7L1202.1 2076.3L1204.8 2079.9L1207.6 2083.7L1210.4 2087.3L1213.1 2090.8L1215.6 2094L1217.8 2096.9L1219.7 2099.3L1221.1 2101.2" fill="none" stroke="#7f7f7a" stroke-width="23" stroke-linejoin="round"/>
<path d="M862.8 2103.7L885.2 2098.3L872.4 2119Z" fill="#7f7f7a"/>
<line x1="789.3" y1="1709.2" x2="789.3" y2="1747" stroke="#679a66" stroke-width="11.5" /><path d="M789.3 1775L773.8 1747L804.8 1747Z" fill="#22ee3c"/>
<line x1="968.4" y1="1691.3" x2="968.4" y2="1719.2" stroke="#8fdc8f" stroke-width="4.5" /><line x1="968.4" y1="1719.2" x2="968.4" y2="1783" stroke="#679a66" stroke-width="11.5" /><path d="M968.4 1815L952.4 1783L984.4 1783Z" fill="#22ee3c"/>
<line x1="1127.6" y1="1705.2" x2="1155.4" y2="1737.1" stroke="#679a66" stroke-width="11.5" /><path d="M1179.3 1761L1144.4 1748.1L1166.4 1726.1Z" fill="#22ee3c"/>
<path d="M772.6 1776.9L811.2 1790.8L847 1799.6" fill="none" stroke="#000" stroke-width="5"/><circle cx="772.6" cy="1772.9" r="14" fill="#000"/><circle cx="811.2" cy="1786.8" r="14" fill="#000"/><circle cx="847" cy="1795.6" r="14" fill="#000"/>
<path d="M772.6 1894.3L813.2 1894.3L849 1894.3" fill="none" stroke="#000" stroke-width="5"/><circle cx="772.6" cy="1890.3" r="14" fill="#000"/><circle cx="813.2" cy="1890.3" r="14" fill="#000"/><circle cx="849" cy="1890.3" r="14" fill="#000"/>
<path d="M785.3 1995.8L827.1 1985.8L861 1973.9" fill="none" stroke="#000" stroke-width="5"/><circle cx="785.3" cy="1991.8" r="14" fill="#000"/><circle cx="827.1" cy="1981.8" r="14" fill="#000"/><circle cx="861" cy="1969.9" r="14" fill="#000"/>
<path d="M830.3 2077.3L866.9 2053.5L894.8 2035.6" fill="none" stroke="#000" stroke-width="5"/><circle cx="830.3" cy="2073.3" r="14" fill="#000"/><circle cx="866.9" cy="2049.5" r="14" fill="#000"/><circle cx="894.8" cy="2031.6" r="14" fill="#000"/>
<path d="M956.5 1828.6L998.2 1824.6L1034.1 1818.7" fill="none" stroke="#000" stroke-width="5"/><circle cx="956.5" cy="1824.6" r="14" fill="#000"/><circle cx="998.2" cy="1820.6" r="14" fill="#000"/><circle cx="1034.1" cy="1814.7" r="14" fill="#000"/>
<path d="M938.6 1969.9L976.4 1946L1004.2 1924.1" fill="none" stroke="#000" stroke-width="5"/><circle cx="938.6" cy="1965.9" r="14" fill="#000"/><circle cx="976.4" cy="1942" r="14" fill="#000"/><circle cx="1004.2" cy="1920.1" r="14" fill="#000"/>
<path d="M994.3 2035.6L1034.1 2037.5L1069.9 2035.6" fill="none" stroke="#000" stroke-width="5"/><circle cx="994.3" cy="2031.6" r="14" fill="#000"/><circle cx="1034.1" cy="2033.5" r="14" fill="#000"/><circle cx="1069.9" cy="2031.6" r="14" fill="#000"/>
<path d="M1083.8 1780.9L1125.6 1786.8L1159.4 1792.8" fill="none" stroke="#000" stroke-width="5"/><circle cx="1083.8" cy="1776.9" r="14" fill="#000"/><circle cx="1125.6" cy="1782.8" r="14" fill="#000"/><circle cx="1159.4" cy="1788.8" r="14" fill="#000"/>
<path d="M1193.2 1765L1233 1772.9L1270.8 1772.9" fill="none" stroke="#000" stroke-width="5"/><circle cx="1193.2" cy="1761" r="14" fill="#000"/><circle cx="1233" cy="1768.9" r="14" fill="#000"/><circle cx="1270.8" cy="1768.9" r="14" fill="#000"/>
<path d="M1181.3 1896.3L1217.1 1870.4L1245 1848.5" fill="none" stroke="#000" stroke-width="5"/><circle cx="1181.3" cy="1892.3" r="14" fill="#000"/><circle cx="1217.1" cy="1866.4" r="14" fill="#000"/><circle cx="1245" cy="1844.5" r="14" fill="#000"/>
<path d="M1071.9 1936.1L1113.6 1938.1L1151.5 1938.1" fill="none" stroke="#000" stroke-width="5"/><circle cx="1071.9" cy="1932.1" r="14" fill="#000"/><circle cx="1113.6" cy="1934.1" r="14" fill="#000"/><circle cx="1151.5" cy="1934.1" r="14" fill="#000"/>
<path d="M1153.4 2051.5L1189.2 2027.6L1217.1 2007.7" fill="none" stroke="#000" stroke-width="5"/><circle cx="1153.4" cy="2047.5" r="14" fill="#000"/><circle cx="1189.2" cy="2023.6" r="14" fill="#000"/><circle cx="1217.1" cy="2003.7" r="14" fill="#000"/>
<line x1="1155.4" y1="1681.4" x2="1205" y2="1737" stroke="#cc1030" stroke-width="3.6" />
<path d="M1227 1757L1195.6 1747.6L1215.4 1726.4Z" fill="#ff1a2a"/>
<path d="M1419.6 1709.5L1419.5 1713L1419.4 1717.7L1419.2 1723.3L1419 1729.5L1418.8 1736.2L1418.7 1743L1418.7 1749.7L1418.8 1756.1L1419.1 1762L1419.6 1767L1420.3 1771.3L1421.2 1775.2L1422.3 1778.8L1423.5 1782.1L1424.8 1785.2L1426.2 1788.1L1427.7 1791L1429.1 1793.9L1430.6 1796.9L1432 1800L1433.5 1803.2L1435.1 1806.3L1436.7 1809.4L1438.4 1812.5L1440.2 1815.6L1441.8 1818.6L1443.5 1821.7L1445 1824.8L1446.3 1827.9L1447.5 1831L1448.6 1834.1L1449.6 1837.2L1450.6 1840.3L1451.5 1843.4L1452.3 1846.6L1452.9 1849.7L1453.4 1852.9L1453.6 1856.2L1453.6 1859.5L1453.4 1862.9L1452.8 1866.4L1452 1869.9L1450.8 1873.6L1449.5 1877.2L1447.9 1880.9L1446.3 1884.7L1444.7 1888.5L1443 1892.3L1441.5 1896.1L1440 1900L1438.5 1903.9L1436.8 1907.9L1435 1911.9L1433.1 1916L1431.3 1920.1L1429.6 1924.2L1428.2 1928.3L1427 1932.3L1426.3 1936.2L1426 1940L1426.2 1943.7L1426.8 1947.5L1427.6 1951.2L1428.8 1954.8L1430.2 1958.4L1431.9 1962L1433.7 1965.4L1435.7 1968.7L1437.8 1971.9L1440 1975L1442.4 1977.9L1445.2 1980.6L1448.3 1983.1L1451.5 1985.5L1454.9 1987.8L1458.2 1990.1L1461.5 1992.4L1464.6 1994.8L1467.5 1997.3L1470 2000L1472.2 2002.7L1474.1 2005.4L1475.9 2008.1L1477.5 2010.8L1479 2013.6L1480.5 2016.5L1481.8 2019.5L1483.2 2022.8L1484.6 2026.2L1486 2030L1487.5 2034.2L1489 2038.8L1490.4 2043.9L1491.9 2049.1L1493.3 2054.4L1494.7 2059.7L1496 2064.9L1497.2 2069.7L1498.3 2074.2L1499.3 2078.1L1500.2 2081.6L1501 2084.8L1501.7 2087.8L1502.4 2090.5L1503 2093.1L1503.5 2095.3L1503.9 2097.3L1504.3 2099.1L1504.7 2100.7L1505 2102" fill="none" stroke="#7f7f7a" stroke-width="23" stroke-linejoin="round"/>
<path d="M1596.9 1719.4L1596.9 1724.3L1597 1730.7L1597.1 1738.4L1597.2 1746.9L1597.3 1756.1L1597.4 1765.5L1597.4 1774.8L1597.3 1783.7L1597.2 1791.9L1596.9 1799.1L1596.5 1805.5L1596.1 1811.5L1595.6 1817.1L1595 1822.5L1594.4 1827.7L1593.7 1832.5L1592.9 1837.2L1592 1841.6L1591 1845.9L1590 1850L1588.9 1853.9L1587.6 1857.4L1586.3 1860.7L1584.9 1863.7L1583.4 1866.6L1581.9 1869.4L1580.3 1872L1578.6 1874.7L1576.8 1877.3L1575 1880L1573 1882.7L1570.8 1885.2L1568.5 1887.6L1566 1889.9L1563.6 1892.3L1561.1 1894.6L1558.8 1897L1556.6 1899.5L1554.7 1902.2L1553 1905L1551.6 1908L1550.2 1911.1L1549 1914.4L1548 1917.7L1547.1 1921.1L1546.3 1924.5L1545.7 1928L1545.3 1931.6L1545.1 1935.1L1545.1 1938.6L1545.4 1942.1L1545.9 1945.7L1546.7 1949.4L1547.6 1953L1548.7 1956.7L1550 1960.4L1551.2 1964.1L1552.5 1967.8L1553.8 1971.4L1555 1975L1556.2 1978.5L1557.5 1982L1558.8 1985.4L1560.2 1988.9L1561.6 1992.3L1562.9 1995.7L1564.3 1999.2L1565.6 2002.7L1566.8 2006.3L1568 2010L1569.1 2013.7L1570.1 2017.4L1571.1 2021L1572 2024.7L1572.9 2028.4L1573.8 2032.3L1574.6 2036.4L1575.5 2040.6L1576.2 2045.2L1577 2050L1577.7 2055.5L1578.5 2061.7L1579.2 2068.4L1579.9 2075.4L1580.6 2082.5L1581.2 2089.4L1581.7 2095.8L1582.2 2101.5L1582.7 2106.3L1583 2110" fill="none" stroke="#7f7f7a" stroke-width="23" stroke-linejoin="round"/>
<path d="M1605 1805L1607.2 1805.8L1610 1806.8L1613.4 1807.9L1617.3 1809.3L1621.3 1810.7L1625.5 1812.2L1629.6 1813.7L1633.5 1815.2L1637 1816.6L1640 1818L1642.6 1819.1L1644.9 1820L1647 1820.8L1649 1821.5L1650.8 1822.3L1652.5 1823.3L1654.1 1824.5L1655.6 1826.2L1657.2 1828.3L1658.7 1831L1660.1 1834.4L1661.4 1838.5L1662.5 1843.1L1663.6 1848L1664.6 1853.3L1665.7 1858.6L1666.7 1864L1667.9 1869.3L1669.2 1874.3L1670.7 1878.9L1672.4 1883.3L1674.3 1887.6L1676.4 1891.9L1678.5 1896.1L1680.7 1900.2L1682.9 1904.1L1685 1908L1687 1911.7L1688.9 1915.3L1690.6 1918.7L1692.1 1922L1693.6 1925.2L1695 1928.4L1696.3 1931.5L1697.5 1934.3L1698.7 1937L1699.7 1939.5L1700.6 1941.6L1701.4 1943.5L1702 1945" fill="none" stroke="#7f7f7a" stroke-width="23" stroke-linejoin="round"/>
<path d="M1750.4 1715.4L1752.8 1717.2L1756 1719.5L1759.8 1722.2L1764.1 1725.2L1768.6 1728.5L1773.3 1732L1777.9 1735.7L1782.4 1739.4L1786.5 1743.2L1790 1747L1793.1 1750.9L1796.1 1754.9L1798.8 1759.2L1801.4 1763.5L1803.9 1768L1806.3 1772.5L1808.5 1777L1810.7 1781.4L1812.9 1785.8L1815 1790L1817 1794.1L1818.9 1798.2L1820.7 1802.2L1822.4 1806.2L1824.1 1810.2L1825.7 1814.1L1827.2 1818.1L1828.8 1822L1830.4 1826L1832 1830L1833.7 1834L1835.4 1838L1837.1 1842L1838.8 1846L1840.4 1850L1842.1 1853.9L1843.7 1857.9L1845.2 1862L1846.6 1866L1848 1870L1849.3 1874.1L1850.8 1878.4L1852.2 1882.8L1853.5 1887.2L1854.8 1891.5L1855.9 1895.8L1856.9 1899.9L1857.6 1903.8L1858 1907.4L1858 1910.7L1857.7 1913.6L1857.2 1916.3L1856.5 1918.7L1855.5 1920.9L1854.3 1923L1852.9 1924.9L1851.2 1926.7L1849.4 1928.5L1847.3 1930.2L1845 1932L1842.4 1933.7L1839.3 1935.4L1835.9 1936.9L1832.3 1938.4L1828.5 1939.8L1824.7 1941.2L1820.8 1942.5L1817.1 1943.9L1813.5 1945.2L1810.2 1946.6L1807 1947.9L1803.7 1949.1L1800.5 1950.2L1797.2 1951.2L1794.1 1952.3L1791.1 1953.5L1788.4 1954.8L1786 1956.3L1783.9 1958L1782.3 1960L1781.1 1962.3L1780.2 1964.8L1779.6 1967.4L1779.3 1970.3L1779.3 1973.3L1779.5 1976.4L1779.9 1979.7L1780.4 1983.1L1781.2 1986.7L1782 1990.4L1783.1 1994.3L1784.4 1998.5L1786.1 2002.9L1787.9 2007.5L1789.8 2012.2L1791.9 2016.9L1794 2021.6L1796.1 2026.2L1798.1 2030.7L1800 2035L1801.8 2039.1L1803.5 2043.2L1805.1 2047.2L1806.8 2051.2L1808.4 2055.1L1810.1 2059L1811.9 2062.8L1813.9 2066.6L1815.9 2070.3L1818.1 2074.1L1820.6 2078L1823.5 2082.1L1826.6 2086.2L1829.9 2090.4L1833.2 2094.5L1836.4 2098.4L1839.4 2102L1842 2105.2L1844.3 2107.9L1846 2110" fill="none" stroke="#7f7f7a" stroke-width="23" stroke-linejoin="round"/>
<path d="M1493.8 2103.7L1516.2 2098.3L1503.3 2116.5Z" fill="#7f7f7a"/>
<g transform="translate(1414 1792.4) rotate(2.5) scale(1.0 1.0)"><g><path d="M-53 -21 Q-53 -30.5 -44.5 -29.8 L39 -24 Q48 -23.4 48.5 -15 L47 15 Q46.5 23.5 38 24.2 L-41 30 Q-50 30.5 -50.5 21.5 Z" fill="#f2151d" stroke="#b98aa8" stroke-width="2"/><path d="M-52.5 -12.5 Q-24 -16 0 -10.5 T48 -6.5" fill="none" stroke="#8e8ede" stroke-width="3.2"/><path d="M-51 -8.5 Q-32 -12 -16 -7.5 L-10 5 Q-3 15.5 11 15 L24 10 Q33 2 32 -8" fill="none" stroke="#d3b0c4" stroke-width="2"/><path d="M-20 -3 L-8 3 L6 13 L-14 14.5 Q-19 8 -20 -3 Z" fill="#7683f2"/><path d="M-41 -10.5 Q-22 -11 -6 -4.5 L-2 1.5 Q-14 -3.5 -41 -7.5 Z" fill="#000"/><path d="M-10 -6 Q4 -13 22 -7.5 Q29 -3 22 5.5 Q13 14 1 11 Q-8 7.5 -10 -6 Z" fill="#000"/><ellipse cx="53" cy="-7" rx="3.8" ry="7.5" transform="rotate(-12 53 -7)" fill="#000"/><ellipse cx="46" cy="5" rx="6" ry="8.5" transform="rotate(-28 46 5)" fill="#000"/><ellipse cx="59" cy="19" rx="4" ry="9.5" transform="rotate(-20 59 19)" fill="#d8486a" fill-opacity="0.6" stroke="#c98aae" stroke-width="1.5"/></g></g>
<g transform="translate(1423.6 1898.8) rotate(5) scale(1.0 1.0)"><g><path d="M-53 -21 Q-53 -30.5 -44.5 -29.8 L39 -24 Q48 -23.4 48.5 -15 L47 15 Q46.5 23.5 38 24.2 L-41 30 Q-50 30.5 -50.5 21.5 Z" fill="#f2151d" stroke="#b98aa8" stroke-width="2"/><path d="M-52.5 -12.5 Q-24 -16 0 -10.5 T48 -6.5" fill="none" stroke="#8e8ede" stroke-width="3.2"/><path d="M-51 -8.5 Q-32 -12 -16 -7.5 L-10 5 Q-3 15.5 11 15 L24 10 Q33 2 32 -8" fill="none" stroke="#d3b0c4" stroke-width="2"/><path d="M-20 -3 L-8 3 L6 13 L-14 14.5 Q-19 8 -20 -3 Z" fill="#7683f2"/><path d="M-41 -10.5 Q-22 -11 -6 -4.5 L-2 1.5 Q-14 -3.5 -41 -7.5 Z" fill="#000"/><path d="M-10 -6 Q4 -13 22 -7.5 Q29 -3 22 5.5 Q13 14 1 11 Q-8 7.5 -10 -6 Z" fill="#000"/><ellipse cx="53" cy="-7" rx="3.8" ry="7.5" transform="rotate(-12 53 -7)" fill="#000"/><ellipse cx="46" cy="5" rx="6" ry="8.5" transform="rotate(-28 46 5)" fill="#000"/><ellipse cx="59" cy="19" rx="4" ry="9.5" transform="rotate(-20 59 19)" fill="#d8486a" fill-opacity="0.6" stroke="#c98aae" stroke-width="1.5"/></g></g>
<g transform="translate(1436.3 1988.5) rotate(-13) scale(1.0 1.0)"><g><path d="M-53 -21 Q-53 -30.5 -44.5 -29.8 L39 -24 Q48 -23.4 48.5 -15 L47 15 Q46.5 23.5 38 24.2 L-41 30 Q-50 30.5 -50.5 21.5 Z" fill="#f2151d" stroke="#b98aa8" stroke-width="2"/><path d="M-52.5 -12.5 Q-24 -16 0 -10.5 T48 -6.5" fill="none" stroke="#8e8ede" stroke-width="3.2"/><path d="M-51 -8.5 Q-32 -12 -16 -7.5 L-10 5 Q-3 15.5 11 15 L24 10 Q33 2 32 -8" fill="none" stroke="#d3b0c4" stroke-width="2"/><path d="M-20 -3 L-8 3 L6 13 L-14 14.5 Q-19 8 -20 -3 Z" fill="#7683f2"/><path d="M-41 -10.5 Q-22 -11 -6 -4.5 L-2 1.5 Q-14 -3.5 -41 -7.5 Z" fill="#000"/><path d="M-10 -6 Q4 -13 22 -7.5 Q29 -3 22 5.5 Q13 14 1 11 Q-8 7.5 -10 -6 Z" fill="#000"/><ellipse cx="53" cy="-7" rx="3.8" ry="7.5" transform="rotate(-12 53 -7)" fill="#000"/><ellipse cx="46" cy="5" rx="6" ry="8.5" transform="rotate(-28 46 5)" fill="#000"/><ellipse cx="59" cy="19" rx="4" ry="9.5" transform="rotate(-20 59 19)" fill="#d8486a" fill-opacity="0.6" stroke="#c98aae" stroke-width="1.5"/></g></g>
<g transform="translate(1474.2 2056.2) rotate(-31) scale(1.0 1.0)"><g><path d="M-53 -21 Q-53 -30.5 -44.5 -29.8 L39 -24 Q48 -23.4 48.5 -15 L47 15 Q46.5 23.5 38 24.2 L-41 30 Q-50 30.5 -50.5 21.5 Z" fill="#f2151d" stroke="#b98aa8" stroke-width="2"/><path d="M-52.5 -12.5 Q-24 -16 0 -10.5 T48 -6.5" fill="none" stroke="#8e8ede" stroke-width="3.2"/><path d="M-51 -8.5 Q-32 -12 -16 -7.5 L-10 5 Q-3 15.5 11 15 L24 10 Q33 2 32 -8" fill="none" stroke="#d3b0c4" stroke-width="2"/><path d="M-20 -3 L-8 3 L6 13 L-14 14.5 Q-19 8 -20 -3 Z" fill="#7683f2"/><path d="M-41 -10.5 Q-22 -11 -6 -4.5 L-2 1.5 Q-14 -3.5 -41 -7.5 Z" fill="#000"/><path d="M-10 -6 Q4 -13 22 -7.5 Q29 -3 22 5.5 Q13 14 1 11 Q-8 7.5 -10 -6 Z" fill="#000"/><ellipse cx="53" cy="-7" rx="3.8" ry="7.5" transform="rotate(-12 53 -7)" fill="#000"/><ellipse cx="46" cy="5" rx="6" ry="8.5" transform="rotate(-28 46 5)" fill="#000"/><ellipse cx="59" cy="19" rx="4" ry="9.5" transform="rotate(-20 59 19)" fill="#d8486a" fill-opacity="0.6" stroke="#c98aae" stroke-width="1.5"/></g></g>
<g transform="translate(1605.7 1833) rotate(-8) scale(1.0 1.0)"><g><path d="M-53 -21 Q-53 -30.5 -44.5 -29.8 L39 -24 Q48 -23.4 48.5 -15 L47 15 Q46.5 23.5 38 24.2 L-41 30 Q-50 30.5 -50.5 21.5 Z" fill="#f2151d" stroke="#b98aa8" stroke-width="2"/><path d="M-52.5 -12.5 Q-24 -16 0 -10.5 T48 -6.5" fill="none" stroke="#8e8ede" stroke-width="3.2"/><path d="M-51 -8.5 Q-32 -12 -16 -7.5 L-10 5 Q-3 15.5 11 15 L24 10 Q33 2 32 -8" fill="none" stroke="#d3b0c4" stroke-width="2"/><path d="M-20 -3 L-8 3 L6 13 L-14 14.5 Q-19 8 -20 -3 Z" fill="#7683f2"/><path d="M-41 -10.5 Q-22 -11 -6 -4.5 L-2 1.5 Q-14 -3.5 -41 -7.5 Z" fill="#000"/><path d="M-10 -6 Q4 -13 22 -7.5 Q29 -3 22 5.5 Q13 14 1 11 Q-8 7.5 -10 -6 Z" fill="#000"/><ellipse cx="53" cy="-7" rx="3.8" ry="7.5" transform="rotate(-12 53 -7)" fill="#000"/><ellipse cx="46" cy="5" rx="6" ry="8.5" transform="rotate(-28 46 5)" fill="#000"/><ellipse cx="59" cy="19" rx="4" ry="9.5" transform="rotate(-20 59 19)" fill="#d8486a" fill-opacity="0.6" stroke="#c98aae" stroke-width="1.5"/></g></g>
<g transform="translate(1591 1952.6) rotate(-38) scale(1.0 1.0)"><g><path d="M-53 -21 Q-53 -30.5 -44.5 -29.8 L39 -24 Q48 -23.4 48.5 -15 L47 15 Q46.5 23.5 38 24.2 L-41 30 Q-50 30.5 -50.5 21.5 Z" fill="#f2151d" stroke="#b98aa8" stroke-width="2"/><path d="M-52.5 -12.5 Q-24 -16 0 -10.5 T48 -6.5" fill="none" stroke="#8e8ede" stroke-width="3.2"/><path d="M-51 -8.5 Q-32 -12 -16 -7.5 L-10 5 Q-3 15.5 11 15 L24 10 Q33 2 32 -8" fill="none" stroke="#d3b0c4" stroke-width="2"/><path d="M-20 -3 L-8 3 L6 13 L-14 14.5 Q-19 8 -20 -3 Z" fill="#7683f2"/><path d="M-41 -10.5 Q-22 -11 -6 -4.5 L-2 1.5 Q-14 -3.5 -41 -7.5 Z" fill="#000"/><path d="M-10 -6 Q4 -13 22 -7.5 Q29 -3 22 5.5 Q13 14 1 11 Q-8 7.5 -10 -6 Z" fill="#000"/><ellipse cx="53" cy="-7" rx="3.8" ry="7.5" transform="rotate(-12 53 -7)" fill="#000"/><ellipse cx="46" cy="5" rx="6" ry="8.5" transform="rotate(-28 46 5)" fill="#000"/><ellipse cx="59" cy="19" rx="4" ry="9.5" transform="rotate(-20 59 19)" fill="#d8486a" fill-opacity="0.6" stroke="#c98aae" stroke-width="1.5"/></g></g>
<g transform="translate(1640.8 2039) rotate(4) scale(1.0 1.0)"><g><path d="M-53 -21 Q-53 -30.5 -44.5 -29.8 L39 -24 Q48 -23.4 48.5 -15 L47 15 Q46.5 23.5 38 24.2 L-41 30 Q-50 30.5 -50.5 21.5 Z" fill="#f2151d" stroke="#b98aa8" stroke-width="2"/><path d="M-52.5 -12.5 Q-24 -16 0 -10.5 T48 -6.5" fill="none" stroke="#8e8ede" stroke-width="3.2"/><path d="M-51 -8.5 Q-32 -12 -16 -7.5 L-10 5 Q-3 15.5 11 15 L24 10 Q33 2 32 -8" fill="none" stroke="#d3b0c4" stroke-width="2"/><path d="M-20 -3 L-8 3 L6 13 L-14 14.5 Q-19 8 -20 -3 Z" fill="#7683f2"/><path d="M-41 -10.5 Q-22 -11 -6 -4.5 L-2 1.5 Q-14 -3.5 -41 -7.5 Z" fill="#000"/><path d="M-10 -6 Q4 -13 22 -7.5 Q29 -3 22 5.5 Q13 14 1 11 Q-8 7.5 -10 -6 Z" fill="#000"/><ellipse cx="53" cy="-7" rx="3.8" ry="7.5" transform="rotate(-12 53 -7)" fill="#000"/><ellipse cx="46" cy="5" rx="6" ry="8.5" transform="rotate(-28 46 5)" fill="#000"/><ellipse cx="59" cy="19" rx="4" ry="9.5" transform="rotate(-20 59 19)" fill="#d8486a" fill-opacity="0.6" stroke="#c98aae" stroke-width="1.5"/></g></g>
<g transform="translate(1725.3 1793) rotate(2) scale(1.0 1.0)"><g><path d="M-53 -21 Q-53 -30.5 -44.5 -29.8 L39 -24 Q48 -23.4 48.5 -15 L47 15 Q46.5 23.5 38 24.2 L-41 30 Q-50 30.5 -50.5 21.5 Z" fill="#f2151d" stroke="#b98aa8" stroke-width="2"/><path d="M-52.5 -12.5 Q-24 -16 0 -10.5 T48 -6.5" fill="none" stroke="#8e8ede" stroke-width="3.2"/><path d="M-51 -8.5 Q-32 -12 -16 -7.5 L-10 5 Q-3 15.5 11 15 L24 10 Q33 2 32 -8" fill="none" stroke="#d3b0c4" stroke-width="2"/><path d="M-20 -3 L-8 3 L6 13 L-14 14.5 Q-19 8 -20 -3 Z" fill="#7683f2"/><path d="M-41 -10.5 Q-22 -11 -6 -4.5 L-2 1.5 Q-14 -3.5 -41 -7.5 Z" fill="#000"/><path d="M-10 -6 Q4 -13 22 -7.5 Q29 -3 22 5.5 Q13 14 1 11 Q-8 7.5 -10 -6 Z" fill="#000"/><ellipse cx="53" cy="-7" rx="3.8" ry="7.5" transform="rotate(-12 53 -7)" fill="#000"/><ellipse cx="46" cy="5" rx="6" ry="8.5" transform="rotate(-28 46 5)" fill="#000"/><ellipse cx="59" cy="19" rx="4" ry="9.5" transform="rotate(-20 59 19)" fill="#d8486a" fill-opacity="0.6" stroke="#c98aae" stroke-width="1.5"/></g></g>
<g transform="translate(1730.5 1958.6) rotate(5) scale(1.0 1.0)"><g><path d="M-53 -21 Q-53 -30.5 -44.5 -29.8 L39 -24 Q48 -23.4 48.5 -15 L47 15 Q46.5 23.5 38 24.2 L-41 30 Q-50 30.5 -50.5 21.5 Z" fill="#f2151d" stroke="#b98aa8" stroke-width="2"/><path d="M-52.5 -12.5 Q-24 -16 0 -10.5 T48 -6.5" fill="none" stroke="#8e8ede" stroke-width="3.2"/><path d="M-51 -8.5 Q-32 -12 -16 -7.5 L-10 5 Q-3 15.5 11 15 L24 10 Q33 2 32 -8" fill="none" stroke="#d3b0c4" stroke-width="2"/><path d="M-20 -3 L-8 3 L6 13 L-14 14.5 Q-19 8 -20 -3 Z" fill="#7683f2"/><path d="M-41 -10.5 Q-22 -11 -6 -4.5 L-2 1.5 Q-14 -3.5 -41 -7.5 Z" fill="#000"/><path d="M-10 -6 Q4 -13 22 -7.5 Q29 -3 22 5.5 Q13 14 1 11 Q-8 7.5 -10 -6 Z" fill="#000"/><ellipse cx="53" cy="-7" rx="3.8" ry="7.5" transform="rotate(-12 53 -7)" fill="#000"/><ellipse cx="46" cy="5" rx="6" ry="8.5" transform="rotate(-28 46 5)" fill="#000"/><ellipse cx="59" cy="19" rx="4" ry="9.5" transform="rotate(-20 59 19)" fill="#d8486a" fill-opacity="0.6" stroke="#c98aae" stroke-width="1.5"/></g></g>
<g transform="translate(1829 1766) rotate(0) scale(1.0 1.0)"><g><path d="M-53 -21 Q-53 -30.5 -44.5 -29.8 L39 -24 Q48 -23.4 48.5 -15 L47 15 Q46.5 23.5 38 24.2 L-41 30 Q-50 30.5 -50.5 21.5 Z" fill="#f2151d" stroke="#b98aa8" stroke-width="2"/><path d="M-52.5 -12.5 Q-24 -16 0 -10.5 T48 -6.5" fill="none" stroke="#8e8ede" stroke-width="3.2"/><path d="M-51 -8.5 Q-32 -12 -16 -7.5 L-10 5 Q-3 15.5 11 15 L24 10 Q33 2 32 -8" fill="none" stroke="#d3b0c4" stroke-width="2"/><path d="M-20 -3 L-8 3 L6 13 L-14 14.5 Q-19 8 -20 -3 Z" fill="#7683f2"/><path d="M-41 -10.5 Q-22 -11 -6 -4.5 L-2 1.5 Q-14 -3.5 -41 -7.5 Z" fill="#000"/><path d="M-10 -6 Q4 -13 22 -7.5 Q29 -3 22 5.5 Q13 14 1 11 Q-8 7.5 -10 -6 Z" fill="#000"/><ellipse cx="53" cy="-7" rx="3.8" ry="7.5" transform="rotate(-12 53 -7)" fill="#000"/><ellipse cx="46" cy="5" rx="6" ry="8.5" transform="rotate(-28 46 5)" fill="#000"/><ellipse cx="59" cy="19" rx="4" ry="9.5" transform="rotate(-20 59 19)" fill="#d8486a" fill-opacity="0.6" stroke="#c98aae" stroke-width="1.5"/></g></g>
<g transform="translate(1828 1878) rotate(-23) scale(1.0 1.0)"><g><path d="M-53 -21 Q-53 -30.5 -44.5 -29.8 L39 -24 Q48 -23.4 48.5 -15 L47 15 Q46.5 23.5 38 24.2 L-41 30 Q-50 30.5 -50.5 21.5 Z" fill="#f2151d" stroke="#b98aa8" stroke-width="2"/><path d="M-52.5 -12.5 Q-24 -16 0 -10.5 T48 -6.5" fill="none" stroke="#8e8ede" stroke-width="3.2"/><path d="M-51 -8.5 Q-32 -12 -16 -7.5 L-10 5 Q-3 15.5 11 15 L24 10 Q33 2 32 -8" fill="none" stroke="#d3b0c4" stroke-width="2"/><path d="M-20 -3 L-8 3 L6 13 L-14 14.5 Q-19 8 -20 -3 Z" fill="#7683f2"/><path d="M-41 -10.5 Q-22 -11 -6 -4.5 L-2 1.5 Q-14 -3.5 -41 -7.5 Z" fill="#000"/><path d="M-10 -6 Q4 -13 22 -7.5 Q29 -3 22 5.5 Q13 14 1 11 Q-8 7.5 -10 -6 Z" fill="#000"/><ellipse cx="53" cy="-7" rx="3.8" ry="7.5" transform="rotate(-12 53 -7)" fill="#000"/><ellipse cx="46" cy="5" rx="6" ry="8.5" transform="rotate(-28 46 5)" fill="#000"/><ellipse cx="59" cy="19" rx="4" ry="9.5" transform="rotate(-20 59 19)" fill="#d8486a" fill-opacity="0.6" stroke="#c98aae" stroke-width="1.5"/></g></g>
<g transform="translate(1802.2 2038.3) rotate(-35) scale(1.0 1.0)"><g><path d="M-53 -21 Q-53 -30.5 -44.5 -29.8 L39 -24 Q48 -23.4 48.5 -15 L47 15 Q46.5 23.5 38 24.2 L-41 30 Q-50 30.5 -50.5 21.5 Z" fill="#f2151d" stroke="#b98aa8" stroke-width="2"/><path d="M-52.5 -12.5 Q-24 -16 0 -10.5 T48 -6.5" fill="none" stroke="#8e8ede" stroke-width="3.2"/><path d="M-51 -8.5 Q-32 -12 -16 -7.5 L-10 5 Q-3 15.5 11 15 L24 10 Q33 2 32 -8" fill="none" stroke="#d3b0c4" stroke-width="2"/><path d="M-20 -3 L-8 3 L6 13 L-14 14.5 Q-19 8 -20 -3 Z" fill="#7683f2"/><path d="M-41 -10.5 Q-22 -11 -6 -4.5 L-2 1.5 Q-14 -3.5 -41 -7.5 Z" fill="#000"/><path d="M-10 -6 Q4 -13 22 -7.5 Q29 -3 22 5.5 Q13 14 1 11 Q-8 7.5 -10 -6 Z" fill="#000"/><ellipse cx="53" cy="-7" rx="3.8" ry="7.5" transform="rotate(-12 53 -7)" fill="#000"/><ellipse cx="46" cy="5" rx="6" ry="8.5" transform="rotate(-28 46 5)" fill="#000"/><ellipse cx="59" cy="19" rx="4" ry="9.5" transform="rotate(-20 59 19)" fill="#d8486a" fill-opacity="0.6" stroke="#c98aae" stroke-width="1.5"/></g></g>
<line x1="1419.6" y1="1709.5" x2="1419.6" y2="1735.4" stroke="#679a66" stroke-width="11.5" /><path d="M1419.6 1763.3L1404.1 1735.4L1435.1 1735.4Z" fill="#22ee3c"/>
<line x1="1596.9" y1="1681.6" x2="1596.9" y2="1719.4" stroke="#8fdc8f" stroke-width="4.5" /><line x1="1596.9" y1="1719.4" x2="1596.9" y2="1775.2" stroke="#679a66" stroke-width="11.5" /><path d="M1596.9 1803.1L1581.4 1775.2L1612.4 1775.2Z" fill="#22ee3c"/>
<line x1="1738.4" y1="1695.5" x2="1750" y2="1706" stroke="#8fdc8f" stroke-width="4.5" /><line x1="1750" y1="1706" x2="1773.9" y2="1731.8" stroke="#679a66" stroke-width="11.5" /><path d="M1793.5 1749.7L1763.4 1743.2L1784.4 1720.4Z" fill="#22ee3c"/>
<line x1="1782.3" y1="1685.5" x2="1812" y2="1717" stroke="#cc1030" stroke-width="3.6" />
<path d="M1836 1744L1798.3 1732.2L1825.7 1705.8Z" fill="#ff1a2a"/>
<line x1="694.8" y1="1656.2" x2="694.8" y2="1718.5" stroke="#c00a1c" stroke-width="7.0" stroke-dasharray="33 22.4 7.5 22.4" stroke-dashoffset="0"/>
<line x1="694.8" y1="1718.5" x2="694.8" y2="2099" stroke="#e8144a" stroke-width="6.0" stroke-dasharray="33 22.4 7.5 22.4" stroke-dashoffset="62.3"/>
<line x1="694.8" y1="2099" x2="694.8" y2="2150" stroke="#c00a1c" stroke-width="7.0" stroke-dasharray="33 22.4 7.5 22.4" stroke-dashoffset="16.3"/>
<line x1="1300.8" y1="1656.2" x2="1300.8" y2="1718.5" stroke="#c00a1c" stroke-width="7.0" stroke-dasharray="33 22.4 7.5 22.4" stroke-dashoffset="0"/>
<line x1="1300.8" y1="1718.5" x2="1300.8" y2="2097" stroke="#e8144a" stroke-width="6.0" stroke-dasharray="33 22.4 7.5 22.4" stroke-dashoffset="62.3"/>
<text x="104" y="1620" font-family='"Liberation Serif", serif' font-size="54" font-weight="bold" text-anchor="start">Epoxy</text>
<text x="104" y="1684" font-family='"Liberation Serif", serif' font-size="54" font-weight="bold" text-anchor="start">resins</text>
<text x="340" y="1625.5" font-family='"Liberation Serif", serif' font-size="54" font-weight="bold" text-anchor="start">H<tspan font-size="34" dy="4.5">2</tspan><tspan dy="-4.5" font-size="1">&#8203;</tspan>O</text>
<text x="340" y="1687" font-family='"Liberation Serif", serif' font-size="54" font-weight="bold" text-anchor="start">O<tspan font-size="34" dy="4.5">2</tspan><tspan dy="-4.5" font-size="1">&#8203;</tspan></text>
<text x="934.6" y="1620" font-family='"Liberation Serif", serif' font-size="54" font-weight="bold" text-anchor="start">H<tspan font-size="34" dy="4.5">2</tspan><tspan dy="-4.5" font-size="1">&#8203;</tspan>O</text>
<text x="934.6" y="1681.5" font-family='"Liberation Serif", serif' font-size="54" font-weight="bold" text-anchor="start">O<tspan font-size="34" dy="4.5">2</tspan><tspan dy="-4.5" font-size="1">&#8203;</tspan></text>
<text x="1066" y="1620" font-family='"Liberation Serif", serif' font-size="54" font-weight="bold" text-anchor="start">GO-Fe<tspan font-size="34" dy="4.5">3</tspan><tspan dy="-4.5" font-size="1">&#8203;</tspan>O<tspan font-size="34" dy="4.5">4</tspan><tspan dy="-4.5" font-size="1">&#8203;</tspan></text>
<text x="1066" y="1681.5" font-family='"Liberation Serif", serif' font-size="54" font-weight="bold" text-anchor="start">hybrid</text>
<text x="1571" y="1614" font-family='"Liberation Serif", serif' font-size="54" font-weight="bold" text-anchor="start">H<tspan font-size="34" dy="4.5">2</tspan><tspan dy="-4.5" font-size="1">&#8203;</tspan>O</text>
<text x="1571" y="1677.6" font-family='"Liberation Serif", serif' font-size="54" font-weight="bold" text-anchor="start">O<tspan font-size="34" dy="4.5">2</tspan><tspan dy="-4.5" font-size="1">&#8203;</tspan></text>
<text x="1694.6" y="1614" font-family='"Liberation Serif", serif' font-size="54" font-weight="bold" text-anchor="start">GO-Fe<tspan font-size="34" dy="4.5">3</tspan><tspan dy="-4.5" font-size="1">&#8203;</tspan>O<tspan font-size="34" dy="4.5">4</tspan><tspan dy="-4.5" font-size="1">&#8203;</tspan>/</text>
<text x="1694.6" y="1677.6" font-family='"Liberation Serif", serif' font-size="54" font-weight="bold" text-anchor="start">KH550-DA</text>
<text x="77" y="2192" font-family='"Liberation Serif", serif' font-size="58" font-weight="bold" text-anchor="start">(e)</text>
<text x="739.6" y="2192" font-family='"Liberation Serif", serif' font-size="58" font-weight="bold" text-anchor="start">(f)</text>
<text x="1299.5" y="2188" font-family='"Liberation Serif", serif' font-size="58" font-weight="bold" text-anchor="start">(g)</text>
<text x="916.5" y="2173" font-family='"Liberation Serif", serif' font-size="60" font-weight="bold" text-anchor="start">Steel</text>
<text x="250.4" y="2288" font-family='"Liberation Serif", serif' font-size="54" font-weight="bold" text-anchor="start">Pure epoxy</text>
<text x="250.4" y="2349" font-family='"Liberation Serif", serif' font-size="54" font-weight="bold" text-anchor="start">coating</text>
<text x="862.3" y="2298" font-family='"Liberation Serif", serif' font-size="54" font-weight="bold" text-anchor="start">GO-Fe<tspan font-size="34" dy="4.5">3</tspan><tspan dy="-4.5" font-size="1">&#8203;</tspan>O<tspan font-size="34" dy="4.5">4</tspan><tspan dy="-4.5" font-size="1">&#8203;</tspan>/</text>
<text x="862.3" y="2360.5" font-family='"Liberation Serif", serif' font-size="54" font-weight="bold" text-anchor="start">epoxy coating</text>
<text x="1422.3" y="2292" font-family='"Liberation Serif", serif' font-size="54" font-weight="bold" text-anchor="start">GO-Fe<tspan font-size="34" dy="4.5">3</tspan><tspan dy="-4.5" font-size="1">&#8203;</tspan>O<tspan font-size="34" dy="4.5">4</tspan><tspan dy="-4.5" font-size="1">&#8203;</tspan>/KH550-D</text>
<text x="1422.3" y="2356" font-family='"Liberation Serif", serif' font-size="54" font-weight="bold" text-anchor="start">A/epoxy coating</text>
</g>
</svg></body></html>
